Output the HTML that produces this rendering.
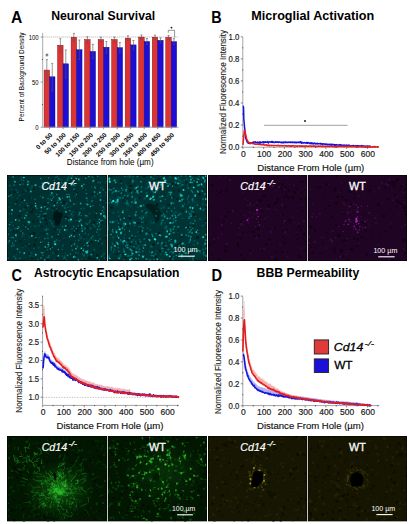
<!DOCTYPE html>
<html><head><meta charset="utf-8"><style>
html,body{margin:0;padding:0;background:#fff;}
body{width:409px;height:524px;overflow:hidden;}
svg{display:block;font-family:"Liberation Sans", sans-serif;}
</style></head><body>
<svg width="409" height="524" viewBox="0 0 409 524">
<text x="11.00" y="23.10" font-size="15.6" text-anchor="start" font-weight="bold" font-style="normal" fill="#000" >A</text>
<text x="51.20" y="20.00" font-size="12.2" text-anchor="start" font-weight="bold" font-style="normal" fill="#000" textLength="104" lengthAdjust="spacingAndGlyphs" >Neuronal Survival</text>
<text x="211.20" y="23.20" font-size="15.6" text-anchor="start" font-weight="bold" font-style="normal" fill="#000" textLength="10.4" lengthAdjust="spacingAndGlyphs" >B</text>
<text x="251.20" y="20.00" font-size="12.2" text-anchor="start" font-weight="bold" font-style="normal" fill="#000" textLength="123" lengthAdjust="spacingAndGlyphs" >Microglial Activation</text>
<text x="11.40" y="280.90" font-size="15.6" text-anchor="start" font-weight="bold" font-style="normal" fill="#000" textLength="10.4" lengthAdjust="spacingAndGlyphs" >C</text>
<text x="33.90" y="277.00" font-size="12.2" text-anchor="start" font-weight="bold" font-style="normal" fill="#000" textLength="145.6" lengthAdjust="spacingAndGlyphs" >Astrocytic Encapsulation</text>
<text x="211.40" y="280.50" font-size="15.6" text-anchor="start" font-weight="bold" font-style="normal" fill="#000" textLength="10.6" lengthAdjust="spacingAndGlyphs" >D</text>
<text x="256.60" y="277.00" font-size="12.2" text-anchor="start" font-weight="bold" font-style="normal" fill="#000" textLength="102.6" lengthAdjust="spacingAndGlyphs" >BBB Permeability</text>
<line x1="42.7" y1="37" x2="178.5" y2="37" stroke="#999" stroke-width="0.8" stroke-dasharray="1,1"/>
<rect x="44.10" y="70.10" width="5.45" height="57.10" fill="#dc3434" stroke="#8a1010" stroke-width="0.5"/>
<rect x="49.55" y="76.80" width="5.45" height="50.40" fill="#1c0ed4" stroke="#0a0680" stroke-width="0.4"/>
<line x1="46.83" y1="59.60" x2="46.83" y2="80.60" stroke="#555" stroke-width="0.6"/>
<line x1="45.83" y1="59.60" x2="47.83" y2="59.60" stroke="#555" stroke-width="0.6"/>
<line x1="45.83" y1="80.60" x2="47.83" y2="80.60" stroke="#555" stroke-width="0.6"/>
<line x1="52.28" y1="63.40" x2="52.28" y2="91.20" stroke="#555" stroke-width="0.6"/>
<line x1="51.28" y1="63.40" x2="53.28" y2="63.40" stroke="#555" stroke-width="0.6"/>
<line x1="51.28" y1="91.20" x2="53.28" y2="91.20" stroke="#555" stroke-width="0.6"/>
<line x1="49.55" y1="127.2" x2="49.55" y2="129.2" stroke="#444" stroke-width="0.6"/>
<text x="0" y="0" font-size="6.4" font-weight="bold" text-anchor="end" transform="translate(52.85,135.50) rotate(-45)">0 to 50</text>
<rect x="57.62" y="45.30" width="5.45" height="81.90" fill="#dc3434" stroke="#8a1010" stroke-width="0.5"/>
<rect x="63.07" y="63.80" width="5.45" height="63.40" fill="#1c0ed4" stroke="#0a0680" stroke-width="0.4"/>
<line x1="60.35" y1="38.60" x2="60.35" y2="52.00" stroke="#555" stroke-width="0.6"/>
<line x1="59.35" y1="38.60" x2="61.35" y2="38.60" stroke="#555" stroke-width="0.6"/>
<line x1="59.35" y1="52.00" x2="61.35" y2="52.00" stroke="#555" stroke-width="0.6"/>
<line x1="65.80" y1="50.00" x2="65.80" y2="77.80" stroke="#555" stroke-width="0.6"/>
<line x1="64.80" y1="50.00" x2="66.80" y2="50.00" stroke="#555" stroke-width="0.6"/>
<line x1="64.80" y1="77.80" x2="66.80" y2="77.80" stroke="#555" stroke-width="0.6"/>
<line x1="63.07" y1="127.2" x2="63.07" y2="129.2" stroke="#444" stroke-width="0.6"/>
<text x="0" y="0" font-size="6.4" font-weight="bold" text-anchor="end" transform="translate(66.37,135.50) rotate(-45)">50 to 100</text>
<rect x="71.14" y="37.30" width="5.45" height="89.90" fill="#dc3434" stroke="#8a1010" stroke-width="0.5"/>
<rect x="76.59" y="49.70" width="5.45" height="77.50" fill="#1c0ed4" stroke="#0a0680" stroke-width="0.4"/>
<line x1="73.86" y1="33.40" x2="73.86" y2="41.00" stroke="#555" stroke-width="0.6"/>
<line x1="72.86" y1="33.40" x2="74.86" y2="33.40" stroke="#555" stroke-width="0.6"/>
<line x1="72.86" y1="41.00" x2="74.86" y2="41.00" stroke="#555" stroke-width="0.6"/>
<line x1="79.31" y1="40.00" x2="79.31" y2="59.60" stroke="#555" stroke-width="0.6"/>
<line x1="78.31" y1="40.00" x2="80.31" y2="40.00" stroke="#555" stroke-width="0.6"/>
<line x1="78.31" y1="59.60" x2="80.31" y2="59.60" stroke="#555" stroke-width="0.6"/>
<line x1="76.59" y1="127.2" x2="76.59" y2="129.2" stroke="#444" stroke-width="0.6"/>
<text x="0" y="0" font-size="6.4" font-weight="bold" text-anchor="end" transform="translate(79.89,135.50) rotate(-45)">100 to 150</text>
<rect x="84.66" y="39.60" width="5.45" height="87.60" fill="#dc3434" stroke="#8a1010" stroke-width="0.5"/>
<rect x="90.11" y="51.40" width="5.45" height="75.80" fill="#1c0ed4" stroke="#0a0680" stroke-width="0.4"/>
<line x1="87.38" y1="36.70" x2="87.38" y2="43.00" stroke="#555" stroke-width="0.6"/>
<line x1="86.38" y1="36.70" x2="88.38" y2="36.70" stroke="#555" stroke-width="0.6"/>
<line x1="86.38" y1="43.00" x2="88.38" y2="43.00" stroke="#555" stroke-width="0.6"/>
<line x1="92.83" y1="44.30" x2="92.83" y2="58.30" stroke="#555" stroke-width="0.6"/>
<line x1="91.83" y1="44.30" x2="93.83" y2="44.30" stroke="#555" stroke-width="0.6"/>
<line x1="91.83" y1="58.30" x2="93.83" y2="58.30" stroke="#555" stroke-width="0.6"/>
<line x1="90.11" y1="127.2" x2="90.11" y2="129.2" stroke="#444" stroke-width="0.6"/>
<text x="0" y="0" font-size="6.4" font-weight="bold" text-anchor="end" transform="translate(93.41,135.50) rotate(-45)">150 to 200</text>
<rect x="98.18" y="39.60" width="5.45" height="87.60" fill="#dc3434" stroke="#8a1010" stroke-width="0.5"/>
<rect x="103.63" y="47.20" width="5.45" height="80.00" fill="#1c0ed4" stroke="#0a0680" stroke-width="0.4"/>
<line x1="100.91" y1="37.00" x2="100.91" y2="42.00" stroke="#555" stroke-width="0.6"/>
<line x1="99.91" y1="37.00" x2="101.91" y2="37.00" stroke="#555" stroke-width="0.6"/>
<line x1="99.91" y1="42.00" x2="101.91" y2="42.00" stroke="#555" stroke-width="0.6"/>
<line x1="106.36" y1="41.50" x2="106.36" y2="53.00" stroke="#555" stroke-width="0.6"/>
<line x1="105.36" y1="41.50" x2="107.36" y2="41.50" stroke="#555" stroke-width="0.6"/>
<line x1="105.36" y1="53.00" x2="107.36" y2="53.00" stroke="#555" stroke-width="0.6"/>
<line x1="103.63" y1="127.2" x2="103.63" y2="129.2" stroke="#444" stroke-width="0.6"/>
<text x="0" y="0" font-size="6.4" font-weight="bold" text-anchor="end" transform="translate(106.93,135.50) rotate(-45)">200 to 250</text>
<rect x="111.70" y="39.60" width="5.45" height="87.60" fill="#dc3434" stroke="#8a1010" stroke-width="0.5"/>
<rect x="117.15" y="47.60" width="5.45" height="79.60" fill="#1c0ed4" stroke="#0a0680" stroke-width="0.4"/>
<line x1="114.42" y1="37.00" x2="114.42" y2="42.00" stroke="#555" stroke-width="0.6"/>
<line x1="113.42" y1="37.00" x2="115.42" y2="37.00" stroke="#555" stroke-width="0.6"/>
<line x1="113.42" y1="42.00" x2="115.42" y2="42.00" stroke="#555" stroke-width="0.6"/>
<line x1="119.87" y1="42.50" x2="119.87" y2="52.70" stroke="#555" stroke-width="0.6"/>
<line x1="118.87" y1="42.50" x2="120.87" y2="42.50" stroke="#555" stroke-width="0.6"/>
<line x1="118.87" y1="52.70" x2="120.87" y2="52.70" stroke="#555" stroke-width="0.6"/>
<line x1="117.15" y1="127.2" x2="117.15" y2="129.2" stroke="#444" stroke-width="0.6"/>
<text x="0" y="0" font-size="6.4" font-weight="bold" text-anchor="end" transform="translate(120.45,135.50) rotate(-45)">250 to 300</text>
<rect x="125.22" y="38.20" width="5.45" height="89.00" fill="#dc3434" stroke="#8a1010" stroke-width="0.5"/>
<rect x="130.67" y="44.90" width="5.45" height="82.30" fill="#1c0ed4" stroke="#0a0680" stroke-width="0.4"/>
<line x1="127.94" y1="35.80" x2="127.94" y2="40.60" stroke="#555" stroke-width="0.6"/>
<line x1="126.94" y1="35.80" x2="128.94" y2="35.80" stroke="#555" stroke-width="0.6"/>
<line x1="126.94" y1="40.60" x2="128.94" y2="40.60" stroke="#555" stroke-width="0.6"/>
<line x1="133.40" y1="40.50" x2="133.40" y2="49.30" stroke="#555" stroke-width="0.6"/>
<line x1="132.40" y1="40.50" x2="134.40" y2="40.50" stroke="#555" stroke-width="0.6"/>
<line x1="132.40" y1="49.30" x2="134.40" y2="49.30" stroke="#555" stroke-width="0.6"/>
<line x1="130.67" y1="127.2" x2="130.67" y2="129.2" stroke="#444" stroke-width="0.6"/>
<text x="0" y="0" font-size="6.4" font-weight="bold" text-anchor="end" transform="translate(133.97,135.50) rotate(-45)">300 to 350</text>
<rect x="138.74" y="37.10" width="5.45" height="90.10" fill="#dc3434" stroke="#8a1010" stroke-width="0.5"/>
<rect x="144.19" y="41.50" width="5.45" height="85.70" fill="#1c0ed4" stroke="#0a0680" stroke-width="0.4"/>
<line x1="141.47" y1="35.00" x2="141.47" y2="39.20" stroke="#555" stroke-width="0.6"/>
<line x1="140.47" y1="35.00" x2="142.47" y2="35.00" stroke="#555" stroke-width="0.6"/>
<line x1="140.47" y1="39.20" x2="142.47" y2="39.20" stroke="#555" stroke-width="0.6"/>
<line x1="146.92" y1="38.50" x2="146.92" y2="44.50" stroke="#555" stroke-width="0.6"/>
<line x1="145.92" y1="38.50" x2="147.92" y2="38.50" stroke="#555" stroke-width="0.6"/>
<line x1="145.92" y1="44.50" x2="147.92" y2="44.50" stroke="#555" stroke-width="0.6"/>
<line x1="144.19" y1="127.2" x2="144.19" y2="129.2" stroke="#444" stroke-width="0.6"/>
<text x="0" y="0" font-size="6.4" font-weight="bold" text-anchor="end" transform="translate(147.49,135.50) rotate(-45)">350 to 400</text>
<rect x="152.26" y="37.20" width="5.45" height="90.00" fill="#dc3434" stroke="#8a1010" stroke-width="0.5"/>
<rect x="157.71" y="40.30" width="5.45" height="86.90" fill="#1c0ed4" stroke="#0a0680" stroke-width="0.4"/>
<line x1="154.98" y1="35.20" x2="154.98" y2="39.20" stroke="#555" stroke-width="0.6"/>
<line x1="153.98" y1="35.20" x2="155.98" y2="35.20" stroke="#555" stroke-width="0.6"/>
<line x1="153.98" y1="39.20" x2="155.98" y2="39.20" stroke="#555" stroke-width="0.6"/>
<line x1="160.44" y1="37.80" x2="160.44" y2="42.80" stroke="#555" stroke-width="0.6"/>
<line x1="159.44" y1="37.80" x2="161.44" y2="37.80" stroke="#555" stroke-width="0.6"/>
<line x1="159.44" y1="42.80" x2="161.44" y2="42.80" stroke="#555" stroke-width="0.6"/>
<line x1="157.71" y1="127.2" x2="157.71" y2="129.2" stroke="#444" stroke-width="0.6"/>
<text x="0" y="0" font-size="6.4" font-weight="bold" text-anchor="end" transform="translate(161.01,135.50) rotate(-45)">400 to 450</text>
<rect x="165.78" y="37.40" width="5.45" height="89.80" fill="#dc3434" stroke="#8a1010" stroke-width="0.5"/>
<rect x="171.23" y="41.60" width="5.45" height="85.60" fill="#1c0ed4" stroke="#0a0680" stroke-width="0.4"/>
<line x1="168.50" y1="35.40" x2="168.50" y2="39.40" stroke="#555" stroke-width="0.6"/>
<line x1="167.50" y1="35.40" x2="169.50" y2="35.40" stroke="#555" stroke-width="0.6"/>
<line x1="167.50" y1="39.40" x2="169.50" y2="39.40" stroke="#555" stroke-width="0.6"/>
<line x1="173.96" y1="38.60" x2="173.96" y2="44.60" stroke="#555" stroke-width="0.6"/>
<line x1="172.96" y1="38.60" x2="174.96" y2="38.60" stroke="#555" stroke-width="0.6"/>
<line x1="172.96" y1="44.60" x2="174.96" y2="44.60" stroke="#555" stroke-width="0.6"/>
<line x1="171.23" y1="127.2" x2="171.23" y2="129.2" stroke="#444" stroke-width="0.6"/>
<text x="0" y="0" font-size="6.4" font-weight="bold" text-anchor="end" transform="translate(174.53,135.50) rotate(-45)">450 to 500</text>
<line x1="42.7" y1="32.9" x2="42.7" y2="127.2" stroke="#a0a0a0" stroke-width="0.9"/>
<line x1="42.7" y1="127.2" x2="178.5" y2="127.2" stroke="#a0a0a0" stroke-width="0.9"/>
<line x1="40.7" y1="37.00" x2="42.7" y2="37.00" stroke="#555" stroke-width="0.6"/>
<text x="38.60" y="39.50" font-size="7.0" text-anchor="end" font-weight="normal" font-style="normal" fill="#000" textLength="9.9" lengthAdjust="spacingAndGlyphs" >100</text>
<line x1="40.7" y1="82.10" x2="42.7" y2="82.10" stroke="#555" stroke-width="0.6"/>
<text x="38.60" y="84.60" font-size="7.0" text-anchor="end" font-weight="normal" font-style="normal" fill="#000" textLength="6.5" lengthAdjust="spacingAndGlyphs" >50</text>
<line x1="40.7" y1="127.20" x2="42.7" y2="127.20" stroke="#555" stroke-width="0.6"/>
<text x="38.60" y="129.70" font-size="7.0" text-anchor="end" font-weight="normal" font-style="normal" fill="#000" textLength="3.3" lengthAdjust="spacingAndGlyphs" >0</text>
<line x1="41.900000000000006" y1="104.65" x2="43.0" y2="104.65" stroke="#333" stroke-width="0.8"/>
<line x1="41.900000000000006" y1="59.55" x2="43.0" y2="59.55" stroke="#333" stroke-width="0.8"/>
<text x="0" y="0" font-size="7.1" text-anchor="middle" textLength="89" lengthAdjust="spacingAndGlyphs" transform="translate(23.7,76.9) rotate(-90)">Percent of Background Density</text>
<text x="66.80" y="165.20" font-size="9.0" text-anchor="start" font-weight="normal" font-style="normal" fill="#000" textLength="86.8" lengthAdjust="spacingAndGlyphs" >Distance from hole (µm)</text>
<text x="46.80" y="57.20" font-size="5.0" text-anchor="middle" font-weight="normal" font-style="normal" fill="#444" >#</text>
<path d="M168.3,32.7 V30.3 H174.6 V37.3" fill="none" stroke="#777" stroke-width="0.8"/>
<circle cx="171.5" cy="27.6" r="0.9" fill="#111"/>
<line x1="242.8" y1="37.0" x2="242.8" y2="147.2" stroke="#a4a4a4" stroke-width="1"/>
<line x1="242.8" y1="147.2" x2="379.2" y2="147.2" stroke="#a4a4a4" stroke-width="1"/>
<line x1="240.8" y1="147.10" x2="242.8" y2="147.10" stroke="#555" stroke-width="0.7"/>
<text x="239.40" y="150.10" font-size="8.4" text-anchor="end" font-weight="normal" font-style="normal" fill="#1a1a1a" textLength="10.8" lengthAdjust="spacingAndGlyphs" stroke="#1a1a1a" stroke-width="0.18">0.0</text>
<line x1="240.8" y1="125.04" x2="242.8" y2="125.04" stroke="#555" stroke-width="0.7"/>
<text x="239.40" y="128.04" font-size="8.4" text-anchor="end" font-weight="normal" font-style="normal" fill="#1a1a1a" textLength="10.8" lengthAdjust="spacingAndGlyphs" stroke="#1a1a1a" stroke-width="0.18">0.2</text>
<line x1="240.8" y1="102.98" x2="242.8" y2="102.98" stroke="#555" stroke-width="0.7"/>
<text x="239.40" y="105.98" font-size="8.4" text-anchor="end" font-weight="normal" font-style="normal" fill="#1a1a1a" textLength="10.8" lengthAdjust="spacingAndGlyphs" stroke="#1a1a1a" stroke-width="0.18">0.4</text>
<line x1="240.8" y1="80.92" x2="242.8" y2="80.92" stroke="#555" stroke-width="0.7"/>
<text x="239.40" y="83.92" font-size="8.4" text-anchor="end" font-weight="normal" font-style="normal" fill="#1a1a1a" textLength="10.8" lengthAdjust="spacingAndGlyphs" stroke="#1a1a1a" stroke-width="0.18">0.6</text>
<line x1="240.8" y1="58.86" x2="242.8" y2="58.86" stroke="#555" stroke-width="0.7"/>
<text x="239.40" y="61.86" font-size="8.4" text-anchor="end" font-weight="normal" font-style="normal" fill="#1a1a1a" textLength="10.8" lengthAdjust="spacingAndGlyphs" stroke="#1a1a1a" stroke-width="0.18">0.8</text>
<line x1="240.8" y1="36.80" x2="242.8" y2="36.80" stroke="#555" stroke-width="0.7"/>
<text x="239.40" y="39.80" font-size="8.4" text-anchor="end" font-weight="normal" font-style="normal" fill="#1a1a1a" textLength="10.8" lengthAdjust="spacingAndGlyphs" stroke="#1a1a1a" stroke-width="0.18">1.0</text>
<line x1="242.20000000000002" y1="136.07" x2="243.20000000000002" y2="136.07" stroke="#333" stroke-width="0.8"/>
<line x1="242.20000000000002" y1="114.01" x2="243.20000000000002" y2="114.01" stroke="#333" stroke-width="0.8"/>
<line x1="242.20000000000002" y1="91.95" x2="243.20000000000002" y2="91.95" stroke="#333" stroke-width="0.8"/>
<line x1="242.20000000000002" y1="69.89" x2="243.20000000000002" y2="69.89" stroke="#333" stroke-width="0.8"/>
<line x1="242.20000000000002" y1="47.83" x2="243.20000000000002" y2="47.83" stroke="#333" stroke-width="0.8"/>
<line x1="242.90" y1="147.2" x2="242.90" y2="149.0" stroke="#555" stroke-width="0.7"/>
<text x="243.40" y="157.00" font-size="8.5" text-anchor="middle" font-weight="normal" font-style="normal" fill="#1a1a1a" stroke="#1a1a1a" stroke-width="0.18">0</text>
<line x1="253.28" y1="146.79999999999998" x2="253.28" y2="148.0" stroke="#333" stroke-width="0.8"/>
<line x1="263.65" y1="147.2" x2="263.65" y2="149.0" stroke="#555" stroke-width="0.7"/>
<text x="264.15" y="157.00" font-size="8.5" text-anchor="middle" font-weight="normal" font-style="normal" fill="#1a1a1a" stroke="#1a1a1a" stroke-width="0.18">100</text>
<line x1="274.02" y1="146.79999999999998" x2="274.02" y2="148.0" stroke="#333" stroke-width="0.8"/>
<line x1="284.40" y1="147.2" x2="284.40" y2="149.0" stroke="#555" stroke-width="0.7"/>
<text x="284.90" y="157.00" font-size="8.5" text-anchor="middle" font-weight="normal" font-style="normal" fill="#1a1a1a" stroke="#1a1a1a" stroke-width="0.18">200</text>
<line x1="294.77" y1="146.79999999999998" x2="294.77" y2="148.0" stroke="#333" stroke-width="0.8"/>
<line x1="305.15" y1="147.2" x2="305.15" y2="149.0" stroke="#555" stroke-width="0.7"/>
<text x="305.65" y="157.00" font-size="8.5" text-anchor="middle" font-weight="normal" font-style="normal" fill="#1a1a1a" stroke="#1a1a1a" stroke-width="0.18">300</text>
<line x1="315.52" y1="146.79999999999998" x2="315.52" y2="148.0" stroke="#333" stroke-width="0.8"/>
<line x1="325.90" y1="147.2" x2="325.90" y2="149.0" stroke="#555" stroke-width="0.7"/>
<text x="326.40" y="157.00" font-size="8.5" text-anchor="middle" font-weight="normal" font-style="normal" fill="#1a1a1a" stroke="#1a1a1a" stroke-width="0.18">400</text>
<line x1="336.27" y1="146.79999999999998" x2="336.27" y2="148.0" stroke="#333" stroke-width="0.8"/>
<line x1="346.65" y1="147.2" x2="346.65" y2="149.0" stroke="#555" stroke-width="0.7"/>
<text x="347.15" y="157.00" font-size="8.5" text-anchor="middle" font-weight="normal" font-style="normal" fill="#1a1a1a" stroke="#1a1a1a" stroke-width="0.18">500</text>
<line x1="357.02" y1="146.79999999999998" x2="357.02" y2="148.0" stroke="#333" stroke-width="0.8"/>
<line x1="367.40" y1="147.2" x2="367.40" y2="149.0" stroke="#555" stroke-width="0.7"/>
<text x="367.90" y="157.00" font-size="8.5" text-anchor="middle" font-weight="normal" font-style="normal" fill="#1a1a1a" stroke="#1a1a1a" stroke-width="0.18">600</text>
<line x1="377.77" y1="146.79999999999998" x2="377.77" y2="148.0" stroke="#333" stroke-width="0.8"/>
<text x="0" y="0" font-size="8.5" textLength="124" lengthAdjust="spacingAndGlyphs" text-anchor="middle" fill="#1a1a1a" stroke="#1a1a1a" stroke-width="0.1" transform="translate(225.5,92) rotate(-90)">Normalized Fluorescence Intensity</text>
<text x="257.30" y="171.40" font-size="9.56" text-anchor="start" font-weight="normal" font-style="normal" fill="#111" textLength="107" lengthAdjust="spacingAndGlyphs" stroke="#111" stroke-width="0.15">Distance From Hole (µm)</text>
<polyline points="242.90,106.26 243.21,106.16 243.52,106.99 243.83,118.98 244.15,122.80 244.46,126.22 244.77,128.93 245.08,132.56 245.39,135.45 245.70,138.07 246.01,138.75 246.32,139.85 246.64,140.46 246.95,141.67 247.26,142.17 247.57,142.38 247.88,142.81 248.19,143.05 248.50,143.27 248.81,143.08 249.12,143.25 249.44,143.48 249.75,143.38 250.06,143.67 250.37,143.23 250.68,143.05 250.99,142.82 251.30,143.16 251.62,142.95 251.93,143.30 252.24,142.79 252.55,143.16 252.86,142.85 253.17,142.07 253.48,142.88 253.79,141.96 254.11,142.00 254.42,142.12 254.73,141.94 255.04,141.95 255.35,141.83 255.66,142.21 255.97,142.34 256.28,142.38 256.60,142.51 256.91,142.28 257.22,142.51 257.53,142.03 257.84,142.87 258.15,142.68 258.46,142.67 258.77,143.02 259.08,141.94 259.40,143.12 259.71,142.52 260.02,142.57 260.33,141.95 260.64,142.94 260.95,142.09 261.26,142.57 261.57,142.40 261.89,142.52 262.20,142.15 262.51,142.62 262.82,142.32 263.13,142.18 263.44,141.76 263.75,142.91 264.06,141.82 264.38,141.96 264.69,142.34 265.00,142.11 265.31,142.31 265.62,141.71 265.93,142.09 266.24,142.20 266.56,142.19 266.87,142.16 267.18,142.14 267.49,142.32 267.80,141.50 268.11,142.58 268.42,143.03 268.73,142.06 269.05,142.07 269.36,141.93 269.67,142.10 269.98,142.09 270.29,141.96 270.60,141.79 270.91,142.18 271.22,142.17 271.54,141.53 271.85,141.93 272.16,142.35 272.47,141.44 272.78,141.87 273.09,142.25 273.40,142.42 273.71,142.02 274.02,142.33 274.34,142.40 274.65,142.47 274.96,142.25 275.27,141.81 275.58,142.24 275.89,142.53 276.20,141.95 276.51,142.12 276.83,141.91 277.14,141.81 277.45,142.20 277.76,142.19 278.07,142.17 278.38,142.48 278.69,141.98 279.00,141.79 279.32,142.13 279.63,142.25 279.94,142.26 280.25,142.40 280.56,142.41 280.87,142.31 281.18,142.43 281.50,142.33 281.81,142.65 282.12,142.12 282.43,142.21 282.74,142.54 283.05,142.86 283.36,142.23 283.67,141.93 283.99,142.44 284.30,142.38 284.61,142.41 284.92,142.07 285.23,142.51 285.54,141.98 285.85,142.34 286.16,142.00 286.48,142.25 286.79,142.33 287.10,142.67 287.41,142.46 287.72,142.34 288.03,142.09 288.34,142.21 288.65,142.47 288.97,142.17 289.28,142.01 289.59,142.33 289.90,142.41 290.21,142.40 290.52,142.07 290.83,142.15 291.14,142.55 291.45,142.20 291.77,142.43 292.08,142.51 292.39,141.96 292.70,142.08 293.01,142.51 293.32,142.29 293.63,142.18 293.94,142.49 294.26,142.35 294.57,142.14 294.88,142.82 295.19,142.24 295.50,142.13 295.81,142.19 296.12,142.70 296.44,142.25 296.75,142.58 297.06,142.18 297.37,142.18 297.68,142.29 297.99,142.56 298.30,142.51 298.61,142.12 298.93,142.60 299.24,142.22 299.55,142.23 299.86,142.47 300.17,141.76 300.48,142.42 300.79,141.87 301.10,143.05 301.42,143.13 301.73,142.27 302.04,142.38 302.35,142.67 302.66,142.62 302.97,143.15 303.28,142.83 303.59,142.96 303.90,142.76 304.22,142.48 304.53,142.73 304.84,142.67 305.15,142.99 305.46,142.94 305.77,142.81 306.08,142.94 306.39,142.54 306.71,143.15 307.02,142.41 307.33,143.23 307.64,142.69 307.95,143.22 308.26,142.57 308.57,143.01 308.88,142.96 309.20,142.89 309.51,143.29 309.82,143.43 310.13,143.72 310.44,142.85 310.75,143.40 311.06,143.40 311.38,143.27 311.69,142.73 312.00,143.78 312.31,143.26 312.62,143.46 312.93,143.23 313.24,143.90 313.55,143.53 313.87,143.21 314.18,143.04 314.49,143.05 314.80,143.75 315.11,143.52 315.42,143.59 315.73,143.96 316.04,144.00 316.36,143.42 316.67,143.58 316.98,143.70 317.29,143.35 317.60,143.98 317.91,143.58 318.22,143.74 318.53,143.78 318.85,143.65 319.16,143.76 319.47,143.75 319.78,143.77 320.09,143.33 320.40,143.97 320.71,143.63 321.02,143.76 321.34,144.04 321.65,143.75 321.96,144.22 322.27,143.69 322.58,144.25 322.89,144.18 323.20,143.98 323.51,143.86 323.82,143.86 324.14,143.88 324.45,144.20 324.76,144.43 325.07,144.04 325.38,144.12 325.69,144.49 326.00,143.98 326.31,144.21 326.63,144.55 326.94,144.19 327.25,144.69 327.56,144.59 327.87,144.26 328.18,144.82 328.49,144.40 328.81,144.80 329.12,144.25 329.43,144.67 329.74,144.44 330.05,144.92 330.36,144.63 330.67,144.29 330.98,144.44 331.30,145.10 331.61,144.36 331.92,144.39 332.23,144.76 332.54,144.28 332.85,144.98 333.16,144.74 333.47,144.42 333.78,144.39 334.10,144.42 334.41,145.09 334.72,145.30 335.03,144.72 335.34,145.25 335.65,144.91 335.96,145.25 336.27,144.62 336.59,144.71 336.90,144.80 337.21,144.97 337.52,144.98 337.83,145.10 338.14,144.93 338.45,144.99 338.76,144.95 339.08,145.21 339.39,144.59 339.70,145.05 340.01,144.76 340.32,144.79 340.63,145.42 340.94,145.66 341.25,144.86 341.57,145.33 341.88,145.22 342.19,145.33 342.50,145.23 342.81,145.61 343.12,145.33 343.43,145.44 343.75,145.33 344.06,145.99 344.37,145.14 344.68,145.29 344.99,145.87 345.30,145.61 345.61,145.41 345.92,145.27 346.24,145.45 346.55,145.09 346.86,145.48 347.17,145.78 347.48,145.70 347.79,145.33 348.10,145.72 348.41,145.33 348.73,145.30 349.04,145.43 349.35,145.33 349.66,145.67 349.97,145.64 350.28,145.82 350.59,145.84 350.90,146.12 351.22,145.85 351.53,146.01 351.84,146.13 352.15,145.71 352.46,145.64 352.77,145.87 353.08,145.42 353.39,145.55 353.70,145.54 354.02,146.01 354.33,146.27 354.64,145.72 354.95,145.80 355.26,145.70 355.57,145.79 355.88,145.57 356.19,146.01 356.51,145.76 356.82,146.20 357.13,146.60 357.44,146.10 357.75,145.57 358.06,146.46 358.37,145.73 358.69,146.21 359.00,146.14 359.31,146.03 359.62,145.99 359.93,146.33 360.24,146.04 360.55,145.96 360.86,145.87 361.18,146.32 361.49,145.69 361.80,145.60 362.11,145.47 362.42,146.52 362.73,146.11 363.04,146.69 363.35,146.08 363.67,146.04 363.98,146.52 364.29,146.65 364.60,146.18 364.91,146.07 365.22,146.47 365.53,146.33 365.84,146.97 366.15,146.48 366.47,146.25 366.78,146.26 367.09,145.88 367.40,146.64 367.71,146.96 368.02,146.23 368.33,146.52 368.64,146.29 368.96,146.18 369.27,146.23 369.58,146.01 369.89,146.04 370.20,146.89 370.51,146.46" fill="none" stroke="#1414e0" stroke-width="1.5" stroke-linejoin="round"/>
<polyline points="242.90,144.89 243.21,142.67 243.52,139.38 243.83,135.17 244.15,132.28 244.46,130.21 244.77,130.19 245.08,131.91 245.39,133.08 245.70,134.53 246.01,136.13 246.32,137.61 246.64,139.12 246.95,139.64 247.26,140.18 247.57,140.44 247.88,141.22 248.19,142.18 248.50,142.43 248.81,142.65 249.12,142.71 249.44,142.48 249.75,142.81 250.06,143.17 250.37,142.88 250.68,143.05 250.99,143.28 251.30,143.31 251.62,143.34 251.93,143.32 252.24,143.46 252.55,143.45 252.86,143.24 253.17,143.75 253.48,143.83 253.79,143.81 254.11,143.67 254.42,144.03 254.73,143.71 255.04,144.19 255.35,144.18 255.66,144.05 255.97,144.22 256.28,144.21 256.60,144.06 256.91,144.05 257.22,144.18 257.53,144.28 257.84,144.05 258.15,144.23 258.46,144.37 258.77,144.16 259.08,144.55 259.40,144.40 259.71,144.35 260.02,144.50 260.33,144.62 260.64,144.50 260.95,144.68 261.26,144.72 261.57,144.83 261.89,144.47 262.20,144.81 262.51,144.56 262.82,144.72 263.13,144.86 263.44,144.74 263.75,144.84 264.06,144.89 264.38,145.17 264.69,144.96 265.00,144.85 265.31,144.95 265.62,144.90 265.93,144.84 266.24,145.05 266.56,144.82 266.87,145.43 267.18,145.25 267.49,145.66 267.80,145.13 268.11,145.28 268.42,145.05 268.73,145.42 269.05,145.72 269.36,145.20 269.67,145.67 269.98,145.66 270.29,145.49 270.60,145.37 270.91,145.57 271.22,145.46 271.54,145.81 271.85,145.22 272.16,145.53 272.47,145.51 272.78,145.44 273.09,145.52 273.40,145.52 273.71,145.72 274.02,145.59 274.34,145.51 274.65,145.42 274.96,145.62 275.27,145.60 275.58,145.57 275.89,145.54 276.20,145.61 276.51,145.69 276.83,145.74 277.14,145.48 277.45,145.63 277.76,145.68 278.07,145.12 278.38,145.56 278.69,145.57 279.00,145.70 279.32,145.90 279.63,145.56 279.94,145.77 280.25,145.75 280.56,145.60 280.87,145.61 281.18,145.75 281.50,145.80 281.81,145.46 282.12,145.72 282.43,146.00 282.74,145.71 283.05,145.82 283.36,145.85 283.67,145.75 283.99,145.84 284.30,145.55 284.61,145.86 284.92,145.85 285.23,145.70 285.54,145.99 285.85,145.73 286.16,145.92 286.48,145.71 286.79,146.05 287.10,145.85 287.41,146.18 287.72,146.00 288.03,145.92 288.34,145.85 288.65,145.61 288.97,145.63 289.28,146.16 289.59,146.07 289.90,145.74 290.21,145.88 290.52,146.18 290.83,145.87 291.14,146.14 291.45,146.10 291.77,146.17 292.08,146.01 292.39,145.60 292.70,145.91 293.01,146.00 293.32,145.57 293.63,146.06 293.94,146.01 294.26,146.04 294.57,145.93 294.88,146.05 295.19,145.76 295.50,146.05 295.81,145.92 296.12,145.97 296.44,146.16 296.75,146.18 297.06,146.03 297.37,146.40 297.68,146.03 297.99,146.02 298.30,146.01 298.61,146.05 298.93,145.98 299.24,146.10 299.55,145.94 299.86,146.32 300.17,145.90 300.48,146.20 300.79,145.98 301.10,146.14 301.42,146.14 301.73,146.20 302.04,145.85 302.35,146.26 302.66,146.28 302.97,146.05 303.28,146.04 303.59,146.08 303.90,146.25 304.22,146.20 304.53,145.95 304.84,146.27 305.15,146.01 305.46,145.99 305.77,146.09 306.08,146.32 306.39,145.81 306.71,146.10 307.02,146.09 307.33,146.19 307.64,146.29 307.95,146.18 308.26,146.11 308.57,146.28 308.88,146.13 309.20,145.96 309.51,146.08 309.82,146.17 310.13,145.99 310.44,146.01 310.75,146.02 311.06,146.30 311.38,146.47 311.69,146.05 312.00,146.17 312.31,146.24 312.62,146.11 312.93,146.26 313.24,146.29 313.55,145.90 313.87,146.46 314.18,146.06 314.49,146.04 314.80,145.92 315.11,146.17 315.42,146.13 315.73,146.37 316.04,146.22 316.36,146.57 316.67,146.32 316.98,146.24 317.29,146.25 317.60,146.32 317.91,146.05 318.22,146.51 318.53,146.23 318.85,146.32 319.16,146.25 319.47,146.25 319.78,145.94 320.09,146.44 320.40,146.05 320.71,146.04 321.02,146.30 321.34,146.38 321.65,146.49 321.96,146.43 322.27,145.95 322.58,146.65 322.89,146.22 323.20,146.41 323.51,145.99 323.82,146.25 324.14,146.53 324.45,146.40 324.76,146.28 325.07,146.30 325.38,146.48 325.69,146.37 326.00,146.40 326.31,146.25 326.63,146.29 326.94,146.30 327.25,146.44 327.56,146.22 327.87,146.44 328.18,146.49 328.49,146.43 328.81,146.41 329.12,146.41 329.43,146.68 329.74,146.15 330.05,146.27 330.36,146.16 330.67,146.44 330.98,146.26 331.30,146.35 331.61,146.38 331.92,146.10 332.23,146.49 332.54,146.30 332.85,146.69 333.16,146.31 333.47,146.44 333.78,146.58 334.10,146.51 334.41,146.77 334.72,146.60 335.03,146.40 335.34,146.86 335.65,146.25 335.96,146.27 336.27,146.56 336.59,146.69 336.90,146.68 337.21,146.66 337.52,146.58 337.83,146.10 338.14,146.64 338.45,146.34 338.76,146.26 339.08,146.62 339.39,146.52 339.70,146.36 340.01,146.59 340.32,146.28 340.63,146.13 340.94,146.50 341.25,146.63 341.57,146.40 341.88,146.44 342.19,146.62 342.50,146.53 342.81,146.49 343.12,146.43 343.43,146.33 343.75,146.60 344.06,146.74 344.37,146.79 344.68,146.22 344.99,146.60 345.30,146.60 345.61,146.13 345.92,146.36 346.24,146.17 346.55,146.58 346.86,146.66 347.17,146.64 347.48,146.45 347.79,146.49 348.10,146.50 348.41,146.19 348.73,146.35 349.04,146.75 349.35,146.50 349.66,146.48 349.97,146.71 350.28,146.20 350.59,146.44 350.90,146.34 351.22,146.68 351.53,146.79 351.84,146.48 352.15,146.64 352.46,146.70 352.77,146.63 353.08,146.58 353.39,146.59 353.70,146.66 354.02,146.55 354.33,146.15 354.64,146.44 354.95,146.72 355.26,146.30 355.57,146.72 355.88,146.90 356.19,146.88 356.51,146.99 356.82,146.46 357.13,146.84 357.44,146.90 357.75,146.76 358.06,146.70 358.37,146.88 358.69,146.77 359.00,146.68 359.31,146.57 359.62,146.84 359.93,146.59 360.24,146.65 360.55,146.60 360.86,146.78 361.18,146.89 361.49,146.54 361.80,146.61 362.11,146.82 362.42,146.84 362.73,146.60 363.04,146.38 363.35,146.66 363.67,146.31 363.98,146.68 364.29,146.67 364.60,146.65 364.91,146.56 365.22,146.99 365.53,146.72 365.84,146.54 366.15,147.01 366.47,146.71 366.78,146.63 367.09,146.47 367.40,146.50 367.71,146.77 368.02,146.43 368.33,146.96 368.64,147.01 368.96,146.56 369.27,146.67 369.58,146.97 369.89,146.61 370.20,146.65 370.51,146.67 370.82,146.87 371.13,147.01 371.45,147.08 371.76,146.84 372.07,146.84 372.38,146.90 372.69,146.91 373.00,146.67 373.31,147.01 373.62,146.95 373.94,146.50 374.25,146.94 374.56,146.94 374.87,146.66 375.18,147.14 375.49,146.58 375.80,147.06 376.12,146.99 376.43,147.07 376.74,147.02 377.05,146.99 377.36,146.71 377.67,146.88 377.98,146.64 378.29,146.75 378.61,147.09" fill="none" stroke="#e41c1c" stroke-width="1.5" stroke-linejoin="round"/>
<line x1="263.9" y1="125.3" x2="347.6" y2="125.3" stroke="#a0a0a0" stroke-width="1"/>
<circle cx="305" cy="121" r="0.95" fill="#111"/>
<line x1="42.6" y1="296.4" x2="42.6" y2="405.4" stroke="#a4a4a4" stroke-width="1"/>
<line x1="42.6" y1="405.4" x2="179.0" y2="405.4" stroke="#a4a4a4" stroke-width="1"/>
<line x1="40.6" y1="397.20" x2="42.6" y2="397.20" stroke="#555" stroke-width="0.7"/>
<text x="39.20" y="400.20" font-size="8.4" text-anchor="end" font-weight="normal" font-style="normal" fill="#1a1a1a" textLength="10.8" lengthAdjust="spacingAndGlyphs" stroke="#1a1a1a" stroke-width="0.18">1.0</text>
<line x1="40.6" y1="378.84" x2="42.6" y2="378.84" stroke="#555" stroke-width="0.7"/>
<text x="39.20" y="381.84" font-size="8.4" text-anchor="end" font-weight="normal" font-style="normal" fill="#1a1a1a" textLength="10.8" lengthAdjust="spacingAndGlyphs" stroke="#1a1a1a" stroke-width="0.18">1.5</text>
<line x1="40.6" y1="360.48" x2="42.6" y2="360.48" stroke="#555" stroke-width="0.7"/>
<text x="39.20" y="363.48" font-size="8.4" text-anchor="end" font-weight="normal" font-style="normal" fill="#1a1a1a" textLength="10.8" lengthAdjust="spacingAndGlyphs" stroke="#1a1a1a" stroke-width="0.18">2.0</text>
<line x1="40.6" y1="342.12" x2="42.6" y2="342.12" stroke="#555" stroke-width="0.7"/>
<text x="39.20" y="345.12" font-size="8.4" text-anchor="end" font-weight="normal" font-style="normal" fill="#1a1a1a" textLength="10.8" lengthAdjust="spacingAndGlyphs" stroke="#1a1a1a" stroke-width="0.18">2.5</text>
<line x1="40.6" y1="323.76" x2="42.6" y2="323.76" stroke="#555" stroke-width="0.7"/>
<text x="39.20" y="326.76" font-size="8.4" text-anchor="end" font-weight="normal" font-style="normal" fill="#1a1a1a" textLength="10.8" lengthAdjust="spacingAndGlyphs" stroke="#1a1a1a" stroke-width="0.18">3.0</text>
<line x1="40.6" y1="305.40" x2="42.6" y2="305.40" stroke="#555" stroke-width="0.7"/>
<text x="39.20" y="308.40" font-size="8.4" text-anchor="end" font-weight="normal" font-style="normal" fill="#1a1a1a" textLength="10.8" lengthAdjust="spacingAndGlyphs" stroke="#1a1a1a" stroke-width="0.18">3.5</text>
<line x1="42.0" y1="388.02" x2="43.0" y2="388.02" stroke="#333" stroke-width="0.8"/>
<line x1="42.0" y1="369.66" x2="43.0" y2="369.66" stroke="#333" stroke-width="0.8"/>
<line x1="42.0" y1="351.30" x2="43.0" y2="351.30" stroke="#333" stroke-width="0.8"/>
<line x1="42.0" y1="332.94" x2="43.0" y2="332.94" stroke="#333" stroke-width="0.8"/>
<line x1="42.0" y1="314.58" x2="43.0" y2="314.58" stroke="#333" stroke-width="0.8"/>
<line x1="42.0" y1="296.22" x2="43.0" y2="296.22" stroke="#333" stroke-width="0.8"/>
<line x1="42.70" y1="405.4" x2="42.70" y2="407.2" stroke="#555" stroke-width="0.7"/>
<text x="43.20" y="415.20" font-size="8.5" text-anchor="middle" font-weight="normal" font-style="normal" fill="#1a1a1a" stroke="#1a1a1a" stroke-width="0.18">0</text>
<line x1="53.08" y1="405.0" x2="53.08" y2="406.2" stroke="#333" stroke-width="0.8"/>
<line x1="63.45" y1="405.4" x2="63.45" y2="407.2" stroke="#555" stroke-width="0.7"/>
<text x="63.95" y="415.20" font-size="8.5" text-anchor="middle" font-weight="normal" font-style="normal" fill="#1a1a1a" stroke="#1a1a1a" stroke-width="0.18">100</text>
<line x1="73.83" y1="405.0" x2="73.83" y2="406.2" stroke="#333" stroke-width="0.8"/>
<line x1="84.20" y1="405.4" x2="84.20" y2="407.2" stroke="#555" stroke-width="0.7"/>
<text x="84.70" y="415.20" font-size="8.5" text-anchor="middle" font-weight="normal" font-style="normal" fill="#1a1a1a" stroke="#1a1a1a" stroke-width="0.18">200</text>
<line x1="94.58" y1="405.0" x2="94.58" y2="406.2" stroke="#333" stroke-width="0.8"/>
<line x1="104.95" y1="405.4" x2="104.95" y2="407.2" stroke="#555" stroke-width="0.7"/>
<text x="105.45" y="415.20" font-size="8.5" text-anchor="middle" font-weight="normal" font-style="normal" fill="#1a1a1a" stroke="#1a1a1a" stroke-width="0.18">300</text>
<line x1="115.33" y1="405.0" x2="115.33" y2="406.2" stroke="#333" stroke-width="0.8"/>
<line x1="125.70" y1="405.4" x2="125.70" y2="407.2" stroke="#555" stroke-width="0.7"/>
<text x="126.20" y="415.20" font-size="8.5" text-anchor="middle" font-weight="normal" font-style="normal" fill="#1a1a1a" stroke="#1a1a1a" stroke-width="0.18">400</text>
<line x1="136.07" y1="405.0" x2="136.07" y2="406.2" stroke="#333" stroke-width="0.8"/>
<line x1="146.45" y1="405.4" x2="146.45" y2="407.2" stroke="#555" stroke-width="0.7"/>
<text x="146.95" y="415.20" font-size="8.5" text-anchor="middle" font-weight="normal" font-style="normal" fill="#1a1a1a" stroke="#1a1a1a" stroke-width="0.18">500</text>
<line x1="156.82" y1="405.0" x2="156.82" y2="406.2" stroke="#333" stroke-width="0.8"/>
<line x1="167.20" y1="405.4" x2="167.20" y2="407.2" stroke="#555" stroke-width="0.7"/>
<text x="167.70" y="415.20" font-size="8.5" text-anchor="middle" font-weight="normal" font-style="normal" fill="#1a1a1a" stroke="#1a1a1a" stroke-width="0.18">600</text>
<line x1="177.57" y1="405.0" x2="177.57" y2="406.2" stroke="#333" stroke-width="0.8"/>
<text x="0" y="0" font-size="8.5" textLength="124" lengthAdjust="spacingAndGlyphs" text-anchor="middle" fill="#1a1a1a" stroke="#1a1a1a" stroke-width="0.1" transform="translate(21.9,350.7) rotate(-90)">Normalized Fluorescence Intensity</text>
<text x="56.50" y="429.20" font-size="9.56" text-anchor="start" font-weight="normal" font-style="normal" fill="#111" textLength="107" lengthAdjust="spacingAndGlyphs" stroke="#111" stroke-width="0.15">Distance From Hole (µm)</text>
<line x1="43.2" y1="397.4" x2="178.5" y2="397.4" stroke="#b4b4b4" stroke-width="0.8" stroke-dasharray="1.3,1.3"/>
<path d="M43.00 324.96V312.59M43.34 319.73V309.06M43.67 317.76V305.44M44.00 318.02V305.88M44.33 316.61V308.33M44.66 321.96V317.89M45.00 324.90V321.29M45.33 327.78V324.57M45.66 329.60V326.09M45.99 331.40V328.56M46.32 332.51V330.65M46.66 334.29V331.96M46.99 336.87V333.82M47.32 338.08V334.33M47.65 339.34V335.73M47.98 339.83V337.10M48.32 341.04V338.60M48.65 342.78V339.50M48.98 343.05V340.30M49.31 344.63V341.18M49.64 345.45V342.57M49.98 345.82V342.86M50.31 347.37V343.85M50.64 347.82V344.28M50.97 348.37V345.87M51.30 348.87V346.92M51.64 350.43V346.90M51.97 351.61V348.08M52.30 352.58V348.66M52.63 352.44V349.61M52.96 353.12V350.78M53.30 354.18V351.23M53.63 355.15V352.23M53.96 355.41V352.18M54.29 356.44V353.10M54.62 357.53V353.60M54.96 357.30V353.76M55.29 357.61V355.24M55.62 358.73V355.28M55.95 359.76V356.10M56.28 360.11V357.10M56.62 360.79V356.76M56.95 360.94V357.70M57.28 360.85V357.13M57.61 361.51V357.94M57.94 361.14V357.62M58.28 361.04V357.90M58.61 362.01V358.74M58.94 362.15V358.37M59.27 361.61V359.59M59.60 362.93V359.78M59.94 363.23V359.81M60.27 363.13V360.48M60.60 364.27V360.64M60.93 364.16V360.82M61.26 363.76V361.02M61.60 364.71V361.49M61.93 364.87V362.61M62.26 364.95V362.02M62.59 365.35V362.37M62.92 366.36V363.27M63.26 367.11V363.33M63.59 367.48V364.39M63.92 367.53V364.51M64.25 367.60V364.90M64.58 368.30V365.01M64.92 368.41V364.98M65.25 368.75V364.55M65.58 368.22V365.75M65.91 368.94V365.73M66.24 369.04V366.28M66.58 368.64V365.37M66.91 369.40V366.29M67.24 370.14V367.04M67.57 370.05V367.07M67.90 369.65V367.45M68.24 370.96V366.65M68.57 370.69V368.11M68.90 371.26V368.85M69.23 371.86V368.18M69.56 372.01V369.14M69.90 373.39V370.17M70.23 374.10V370.22M70.56 374.21V370.80M70.89 375.06V372.12M71.22 375.01V371.70M71.56 375.28V372.26M71.89 375.53V372.55M72.22 376.52V373.05M72.55 376.55V373.90M72.88 377.19V373.77M73.22 377.09V373.43M73.55 376.37V373.96M73.88 376.60V373.45M74.21 376.78V374.48M74.54 377.96V374.86M74.88 378.19V375.10M75.21 377.83V374.38M75.54 377.75V375.14M75.87 378.20V374.93M76.20 379.16V375.32M76.54 378.29V375.38M76.87 378.73V376.00M77.20 379.70V375.81M77.53 379.72V376.01M77.86 379.09V376.77M78.20 380.07V376.26M78.53 379.86V377.51M78.86 380.87V377.75M79.19 380.06V377.11M79.52 381.29V377.30M79.86 380.40V377.75M80.19 381.46V378.11M80.52 381.97V379.04M80.85 381.08V378.42M81.18 381.86V378.23M81.52 382.11V378.44M81.85 381.72V379.44M82.18 382.60V379.46M82.51 382.74V379.20M82.84 382.85V379.55M83.18 383.14V379.03M83.51 382.98V379.76M83.84 382.80V379.29M84.17 383.15V379.40M84.50 383.17V380.04M84.84 383.26V380.85M85.17 383.50V380.76M85.50 384.21V380.07M85.83 384.11V380.63M86.16 383.50V380.63M86.50 384.14V380.80M86.83 383.95V380.56M87.16 384.65V380.97M87.49 384.58V381.46M87.82 384.00V381.27M88.16 384.39V381.05M88.49 384.04V381.58M88.82 384.55V381.61M89.15 384.80V381.47M89.48 384.99V381.80M89.82 385.07V381.37M90.15 384.89V381.57M90.48 384.68V382.50M90.81 385.30V381.71M91.14 385.04V382.89M91.48 386.11V382.60M91.81 386.29V382.98M92.14 386.40V382.53M92.47 385.57V382.34M92.80 386.52V382.69M93.14 385.96V383.56M93.47 385.78V382.59M93.80 386.77V382.72M94.13 386.65V383.45M94.46 385.98V383.10M94.80 387.19V383.75M95.13 386.83V383.98M95.46 387.37V384.12M95.79 386.79V384.63M96.12 387.12V384.19M96.46 387.95V384.45M96.79 387.26V384.32M97.12 388.11V383.81M97.45 387.27V383.94M97.78 388.27V384.97M98.12 388.42V384.36M98.45 388.18V385.28M98.78 388.04V384.31M99.11 387.58V385.24M99.44 388.53V384.43M99.78 388.04V384.78M100.11 388.74V385.69M100.44 388.01V385.27M100.77 388.89V384.66M101.10 388.21V384.90M101.44 389.00V384.89M101.77 389.09V384.95M102.10 388.64V385.70M102.43 388.57V384.99M102.76 389.01V386.11M103.10 388.73V386.03M103.43 389.35V386.19M103.76 389.49V386.21M104.09 389.21V386.13M104.42 388.68V386.22M104.76 389.09V386.43M105.09 389.35V386.70M105.42 389.54V386.77M105.75 388.97V386.13M106.08 389.75V386.29M106.42 388.83V386.84M106.75 389.05V386.48M107.08 389.54V386.01M107.41 389.74V386.50M107.74 389.41V385.94M108.08 389.93V386.20M108.41 389.52V386.53M108.74 389.98V386.97M109.07 390.51V387.32M109.40 390.55V386.58M109.74 390.37V387.41M110.07 390.66V386.57M110.40 389.68V386.86M110.73 390.53V387.49M111.06 390.57V387.27M111.40 390.82V387.35M111.73 390.74V386.73M112.06 389.87V387.35M112.39 390.89V386.86M112.72 390.87V387.73M113.06 391.34V387.76M113.39 390.78V387.66M113.72 391.21V387.72M114.05 391.53V388.10M114.38 391.48V387.99M114.72 391.61V388.55M115.05 391.33V388.34M115.38 391.02V388.01M115.71 390.86V387.90M116.04 390.97V387.67M116.38 391.47V388.47M116.71 390.75V388.77M117.04 391.13V388.16M117.37 392.07V387.94M117.70 390.99V388.25M118.04 391.24V388.05M118.37 392.06V388.47M118.70 391.62V388.10M119.03 391.26V388.15M119.36 391.59V388.10M119.70 391.50V388.40M120.03 392.14V389.31M120.36 392.30V388.92M120.69 392.38V388.33M121.02 391.82V388.64M121.36 391.77V388.61M121.69 391.99V389.55M122.02 391.62V388.60M122.35 392.05V388.92M122.68 391.88V389.58M123.02 391.82V389.37M123.35 392.73V389.39M123.68 391.90V389.51M124.01 391.93V388.53M124.34 392.29V389.35M124.68 392.35V388.99M125.01 392.01V389.12M125.34 392.21V389.87M125.67 392.90V389.68M126.00 392.16V389.65M126.34 392.43V390.08M126.67 393.14V389.78M127.00 392.37V389.26M127.33 392.40V389.82M127.66 392.65V389.63M128.00 392.75V390.13M128.33 392.23V390.06M128.66 392.16V389.13M128.99 393.46V389.80M129.32 392.44V389.16M129.66 392.97V390.13M129.99 393.33V389.27" stroke="#f29a9a" stroke-width="0.6" stroke-opacity="0.7" fill="none"/>
<path d="M43.00 367.07V364.03M43.34 364.37V361.49M43.67 360.17V357.70M44.00 355.63V354.10M44.33 354.96V352.83M44.66 354.12V351.77M45.00 354.01V351.07M45.33 355.18V352.73M45.66 356.32V353.76M45.99 356.47V353.67M46.32 356.62V354.57M46.66 356.85V353.81M46.99 357.15V354.28M47.32 356.91V354.32M47.65 357.03V354.37M47.98 356.95V354.49M48.32 356.63V354.63M48.65 357.94V355.70M48.98 357.86V356.00M49.31 359.32V356.26M49.64 359.65V357.19M49.98 360.07V358.34M50.31 361.30V358.47M50.64 362.24V359.30M50.97 362.71V359.81M51.30 362.33V359.77M51.64 362.40V360.43M51.97 363.26V360.99M52.30 363.15V360.85M52.63 363.82V360.68M52.96 363.60V361.10M53.30 364.10V361.76M53.63 364.52V361.88M53.96 364.49V362.02M54.29 364.60V361.83M54.62 364.30V362.70M54.96 365.15V363.06M55.29 365.30V362.68M55.62 366.18V363.31M55.95 366.50V364.47M56.28 366.46V364.57M56.62 367.47V364.90M56.95 367.83V365.34M57.28 368.04V365.75M57.61 368.32V366.30M57.94 368.95V366.64M58.28 369.06V366.34M58.61 368.93V366.17M58.94 368.91V366.40M59.27 368.56V367.16M59.60 369.64V367.21M59.94 369.40V366.90M60.27 369.17V367.25M60.60 369.07V367.71M60.93 369.33V367.63M61.26 369.41V367.93M61.60 369.45V367.35M61.93 369.70V367.80M62.26 370.78V367.68M62.59 370.79V368.83M62.92 370.90V368.70M63.26 371.31V369.31M63.59 371.93V369.16M63.92 371.87V369.88M64.25 372.16V369.56M64.58 372.16V370.09M64.92 372.75V370.47M65.25 373.19V370.90M65.58 373.24V371.26M65.91 373.24V370.94M66.24 373.62V371.89M66.58 374.14V371.76M66.91 374.68V371.50M67.24 374.30V372.24M67.57 374.61V372.79M67.90 375.33V372.72M68.24 375.06V372.85M68.57 376.04V373.13M68.90 375.40V373.25M69.23 375.62V373.26M69.56 376.57V374.18M69.90 376.50V373.76M70.23 376.92V374.04M70.56 376.69V374.71M70.89 377.16V374.52M71.22 377.25V375.42M71.56 377.37V375.74M71.89 377.97V375.23M72.22 377.68V376.04M72.55 378.32V375.99M72.88 377.99V376.15M73.22 378.07V376.33M73.55 378.31V376.65M73.88 378.81V377.00M74.21 378.86V377.14M74.54 378.76V377.54M74.88 379.43V377.44M75.21 379.43V377.86M75.54 379.66V377.82M75.87 379.70V378.35M76.20 379.56V378.44M76.54 380.05V378.42M76.87 380.17V378.91M77.20 380.06V378.87M77.53 380.37V379.36M77.86 380.53V379.37M78.20 380.72V379.69M78.53 380.94V379.65M78.86 381.36V379.92M79.19 381.34V379.93M79.52 381.45V380.24M79.86 382.08V380.54M80.19 381.98V381.02M80.52 382.29V380.79M80.85 382.25V380.95M81.18 382.87V381.30M81.52 382.57V381.40M81.85 383.00V381.87M82.18 382.80V381.54M82.51 383.07V381.94M82.84 383.10V381.82M83.18 383.29V382.07M83.51 383.64V382.36M83.84 383.74V382.48M84.17 383.78V382.72M84.50 383.80V382.72M84.84 384.24V382.90M85.17 384.24V382.93M85.50 384.15V383.24M85.83 384.58V383.26M86.16 384.70V383.10M86.50 384.83V383.58M86.83 384.68V383.30M87.16 384.63V383.49M87.49 384.99V383.40M87.82 384.86V383.72M88.16 385.05V383.56M88.49 384.90V383.65M88.82 385.47V384.08M89.15 385.41V384.26M89.48 385.31V384.41M89.82 385.33V384.21M90.15 385.58V384.40M90.48 385.49V384.40M90.81 385.61V384.31M91.14 385.81V384.37M91.48 386.02V384.80M91.81 385.91V384.80M92.14 386.30V384.81M92.47 386.30V385.21M92.80 386.20V385.10M93.14 386.22V385.17M93.47 386.33V385.40M93.80 386.82V385.36M94.13 386.61V385.29M94.46 386.76V385.77M94.80 387.00V385.91M95.13 387.10V385.50M95.46 387.21V385.73M95.79 387.15V386.13M96.12 387.21V386.26M96.46 387.58V386.07M96.79 387.70V385.95M97.12 387.63V386.23M97.45 387.42V386.61M97.78 387.49V386.73M98.12 387.78V386.47M98.45 387.64V386.70M98.78 387.73V386.61M99.11 388.06V386.94M99.44 388.26V386.91M99.78 388.27V386.97M100.11 388.09V387.04M100.44 388.26V387.30M100.77 388.60V387.00M101.10 388.25V387.29M101.44 388.80V387.40M101.77 388.69V387.40M102.10 388.65V387.50M102.43 388.67V387.31M102.76 388.66V387.40M103.10 388.84V387.74M103.43 388.77V387.79M103.76 388.83V387.77M104.09 389.03V387.82M104.42 389.09V387.97M104.76 389.20V387.83M105.09 389.39V387.97M105.42 389.41V388.11M105.75 389.52V388.14M106.08 389.41V388.42M106.42 389.79V388.13M106.75 389.89V388.22M107.08 389.59V388.60M107.41 389.73V388.65M107.74 389.66V388.76M108.08 390.16V388.91M108.41 389.89V388.89M108.74 390.19V388.54M109.07 390.02V388.74M109.40 390.18V388.86M109.74 390.56V388.84M110.07 390.46V388.89M110.40 390.48V388.92M110.73 390.78V388.96M111.06 390.80V389.29M111.40 390.66V389.09M111.73 390.60V389.17M112.06 390.56V389.54M112.39 391.05V389.77M112.72 390.81V389.39M113.06 390.91V389.80M113.39 391.01V389.70M113.72 391.27V389.75M114.05 391.37V390.18M114.38 391.52V390.00M114.72 391.24V390.22M115.05 391.48V390.03M115.38 391.62V390.19M115.71 391.50V390.33M116.04 391.79V390.24M116.38 391.59V390.59M116.71 391.60V390.40M117.04 391.61V390.38M117.37 391.86V390.45M117.70 392.00V390.52M118.04 392.16V390.73M118.37 391.97V390.47M118.70 391.91V390.50M119.03 391.84V390.50M119.36 392.02V390.74M119.70 392.14V390.99M120.03 392.00V390.82M120.36 392.39V391.06M120.69 392.40V390.83M121.02 392.23V391.16M121.36 392.22V391.00M121.69 392.49V391.10M122.02 392.13V391.31M122.35 392.58V391.10M122.68 392.29V390.96M123.02 392.57V391.08M123.35 392.76V391.33M123.68 392.39V391.22M124.01 392.66V391.29M124.34 392.68V391.36M124.68 392.50V391.16M125.01 392.91V391.32M125.34 392.54V391.44M125.67 392.82V391.61M126.00 392.87V391.53M126.34 392.84V391.83M126.67 392.67V391.78M127.00 392.95V391.86M127.33 392.95V391.97M127.66 393.15V391.84M128.00 393.20V391.82M128.33 393.32V391.85M128.66 393.01V391.82M128.99 392.95V391.68M129.32 393.26V391.98M129.66 393.15V391.80M129.99 393.31V391.95M130.32 393.26V392.07M130.65 393.40V392.18M130.98 393.47V392.17M131.32 393.32V392.39M131.65 393.73V392.00M131.98 393.56V392.17M132.31 393.37V392.18M132.64 393.60V392.10M132.98 393.61V392.42M133.31 393.89V392.62M133.64 393.59V392.25M133.97 393.87V392.49M134.30 393.73V392.49M134.64 394.00V392.36M134.97 393.88V392.51M135.30 393.85V392.70M135.63 393.88V392.87M135.96 394.00V392.66M136.30 393.99V392.89M136.63 394.28V393.04M136.96 394.35V393.03M137.29 394.19V392.86M137.62 394.11V392.97M137.96 394.11V393.23M138.29 394.38V393.22M138.62 394.33V393.01M138.95 394.32V393.11M139.28 394.47V393.20M139.62 394.64V393.30M139.95 394.45V393.12M140.28 394.69V392.99M140.61 394.75V393.41M140.94 394.55V393.33M141.28 394.53V393.15M141.61 394.52V393.13M141.94 394.61V393.21M142.27 394.67V393.54M142.60 394.88V393.54M142.94 394.70V393.51M143.27 394.66V393.32M143.60 394.49V393.63M143.93 394.49V393.74M144.26 394.56V393.22M144.60 394.87V393.35M144.93 394.82V393.50M145.26 394.65V393.32M145.59 394.98V393.74M145.92 394.67V393.56M146.26 394.70V393.79M146.59 394.76V393.85M146.92 395.17V393.80M147.25 394.76V393.77M147.58 395.06V393.85M147.92 395.28V393.80M148.25 395.08V393.88M148.58 394.97V393.92M148.91 394.86V393.61M149.24 395.11V394.08M149.58 395.14V393.82M149.91 395.12V393.96M150.24 395.10V393.67M150.57 395.14V394.22" stroke="#9c9cf0" stroke-width="0.6" stroke-opacity="0.7" fill="none"/>
<polyline points="42.90,368.34 43.21,366.60 43.52,361.82 43.83,359.14 44.14,356.23 44.46,356.21 44.77,353.77 45.08,354.38 45.39,354.88 45.70,356.70 46.01,356.71 46.32,357.12 46.63,357.43 46.95,357.14 47.26,357.83 47.57,357.50 47.88,357.11 48.19,357.47 48.50,357.95 48.81,357.47 49.12,359.08 49.44,360.04 49.75,360.38 50.06,361.35 50.37,361.96 50.68,362.61 50.99,361.93 51.30,363.01 51.61,363.15 51.93,363.13 52.24,362.74 52.55,363.93 52.86,364.31 53.17,363.15 53.48,365.09 53.79,364.81 54.10,364.55 54.42,364.04 54.73,365.67 55.04,366.72 55.35,365.75 55.66,366.66 55.97,367.00 56.28,367.02 56.59,367.52 56.91,367.88 57.22,368.59 57.53,368.23 57.84,368.34 58.15,369.10 58.46,369.43 58.77,369.03 59.08,369.26 59.40,370.04 59.71,369.90 60.02,369.35 60.33,369.97 60.64,370.19 60.95,370.07 61.26,370.29 61.58,370.40 61.89,371.50 62.20,370.14 62.51,371.07 62.82,371.80 63.13,371.24 63.44,371.79 63.75,372.18 64.06,371.98 64.38,371.70 64.69,372.71 65.00,372.51 65.31,372.51 65.62,374.17 65.93,374.21 66.24,373.89 66.55,375.24 66.87,374.86 67.18,374.43 67.49,374.79 67.80,375.22 68.11,376.54 68.42,374.91 68.73,375.93 69.05,376.07 69.36,376.42 69.67,377.62 69.98,377.73 70.29,377.87 70.60,376.72 70.91,378.16 71.22,378.14 71.53,378.30 71.85,378.05 72.16,378.20 72.47,378.43 72.78,379.22 73.09,380.17 73.40,378.83 73.71,378.91 74.03,378.60 74.34,379.31 74.65,379.65 74.96,379.32 75.27,380.31 75.58,380.20 75.89,380.31 76.20,379.88 76.51,379.26 76.83,380.03 77.14,380.05 77.45,380.63 77.76,380.80 78.07,381.30 78.38,381.41 78.69,382.54 79.00,382.19 79.32,382.41 79.63,381.65 79.94,381.91 80.25,381.89 80.56,381.89 80.87,382.89 81.18,382.45 81.50,382.18 81.81,383.16 82.12,382.80 82.43,383.47 82.74,384.23 83.05,383.58 83.36,384.12 83.67,383.83 83.98,384.20 84.30,383.98 84.61,385.18 84.92,383.44 85.23,383.88 85.54,384.75 85.85,385.12 86.16,384.80 86.47,384.59 86.79,384.79 87.10,384.89 87.41,386.02 87.72,385.74 88.03,384.73 88.34,385.31 88.65,386.17 88.97,385.97 89.28,386.31 89.59,386.21 89.90,385.33 90.21,386.03 90.52,385.52 90.83,386.02 91.14,386.86 91.45,386.57 91.77,385.34 92.08,386.80 92.39,387.01 92.70,386.08 93.01,386.68 93.32,386.81 93.63,386.23 93.94,387.77 94.26,386.88 94.57,387.62 94.88,387.87 95.19,387.69 95.50,386.89 95.81,387.56 96.12,388.41 96.44,388.17 96.75,387.07 97.06,387.39 97.37,388.42 97.68,386.93 97.99,388.25 98.30,388.69 98.61,388.28 98.92,387.86 99.24,387.62 99.55,387.95 99.86,388.67 100.17,388.80 100.48,389.27 100.79,388.71 101.10,389.01 101.41,388.70 101.73,389.45 102.04,389.18 102.35,389.41 102.66,389.62 102.97,389.67 103.28,389.66 103.59,389.80 103.91,389.08 104.22,389.36 104.53,390.06 104.84,389.30 105.15,389.47 105.46,389.01 105.77,389.82 106.08,389.89 106.39,390.17 106.71,389.87 107.02,389.77 107.33,389.98 107.64,390.24 107.95,389.94 108.26,390.22 108.57,390.21 108.88,390.81 109.20,390.36 109.51,390.97 109.82,390.97 110.13,390.58 110.44,389.77 110.75,390.34 111.06,390.85 111.38,391.00 111.69,390.54 112.00,390.43 112.31,390.57 112.62,391.26 112.93,391.16 113.24,391.46 113.55,391.51 113.87,391.83 114.18,391.62 114.49,392.55 114.80,392.18 115.11,391.52 115.42,392.19 115.73,391.60 116.04,392.49 116.35,392.14 116.67,391.86 116.98,392.55 117.29,392.44 117.60,391.04 117.91,392.50 118.22,392.55 118.53,392.52 118.84,392.29 119.16,392.35 119.47,391.93 119.78,392.05 120.09,392.63 120.40,392.64 120.71,393.16 121.02,393.23 121.34,392.93 121.65,392.30 121.96,392.61 122.27,392.34 122.58,392.31 122.89,392.85 123.20,391.86 123.51,393.08 123.82,393.17 124.14,393.11 124.45,392.44 124.76,393.05 125.07,393.36 125.38,392.87 125.69,392.59 126.00,393.19 126.31,393.29 126.63,392.72 126.94,392.80 127.25,392.86 127.56,393.66 127.87,393.23 128.18,393.23 128.49,394.24 128.81,392.92 129.12,393.46 129.43,393.69 129.74,392.56 130.05,393.55 130.36,393.97 130.67,393.71 130.98,393.47 131.29,393.39 131.61,393.82 131.92,394.22 132.23,394.18 132.54,394.27 132.85,394.41 133.16,393.98 133.47,394.23 133.78,394.02 134.10,394.46 134.41,394.51 134.72,394.24 135.03,394.35 135.34,393.71 135.65,394.67 135.96,394.21 136.28,394.36 136.59,394.96 136.90,394.08 137.21,394.37 137.52,395.43 137.83,394.25 138.14,394.14 138.45,394.95 138.76,393.87 139.08,394.58 139.39,395.20 139.70,394.45 140.01,394.89 140.32,395.35 140.63,395.74 140.94,394.68 141.25,395.15 141.57,394.55 141.88,394.69 142.19,395.12 142.50,395.15 142.81,394.14 143.12,394.19 143.43,394.65 143.75,395.17 144.06,395.47 144.37,395.23 144.68,394.33 144.99,394.89 145.30,395.26 145.61,395.70 145.92,395.10 146.23,395.59 146.55,395.21 146.86,394.91 147.17,394.79 147.48,395.23 147.79,395.47 148.10,395.24 148.41,394.55 148.72,395.22 149.04,396.04 149.35,394.74 149.66,395.34 149.97,393.92 150.28,395.71 150.59,395.57 150.90,395.68 151.22,395.40 151.53,395.86 151.84,396.28 152.15,396.51 152.46,395.72 152.77,395.92 153.08,395.98 153.39,394.79 153.70,395.41 154.02,395.30 154.33,396.03 154.64,395.70 154.95,395.95 155.26,395.97 155.57,395.57 155.88,395.66 156.19,395.82 156.51,395.91 156.82,396.64 157.13,396.35 157.44,395.87 157.75,396.23 158.06,396.44 158.37,395.96 158.69,396.55 159.00,396.46 159.31,395.79 159.62,396.37 159.93,395.59 160.24,396.02 160.55,395.92 160.86,395.79 161.17,397.27 161.49,396.35 161.80,396.90 162.11,396.54 162.42,396.38 162.73,395.79 163.04,396.38 163.35,395.63 163.66,396.61 163.98,396.41 164.29,396.35 164.60,395.98 164.91,396.44 165.22,396.70 165.53,396.58 165.84,397.07 166.16,395.89 166.47,396.13 166.78,396.28 167.09,396.36 167.40,396.76 167.71,396.68 168.02,396.15 168.33,396.87 168.64,396.88 168.96,395.83 169.27,395.85 169.58,396.42 169.89,396.33 170.20,396.49 170.51,395.95 170.82,396.79 171.13,396.56 171.45,396.39 171.76,395.98 172.07,396.74 172.38,396.53 172.69,396.87 173.00,396.95 173.31,396.96 173.62,396.64 173.94,396.29 174.25,397.00 174.56,396.97 174.87,396.89 175.18,396.57 175.49,396.42 175.80,397.30 176.12,396.59 176.43,397.20 176.74,396.45 177.05,397.21 177.36,397.27 177.67,397.11 177.98,396.84 178.29,397.26 178.60,396.73" fill="none" stroke="#1414e0" stroke-width="1.6" stroke-linejoin="round"/>
<polyline points="42.90,327.65 43.21,325.39 43.52,322.15 43.83,319.52 44.14,316.73 44.46,318.73 44.77,324.25 45.08,325.99 45.39,328.76 45.70,330.38 46.01,332.34 46.32,333.27 46.63,335.37 46.95,337.16 47.26,338.72 47.57,339.42 47.88,340.20 48.19,341.01 48.50,342.30 48.81,343.62 49.12,344.28 49.44,345.87 49.75,346.16 50.06,347.30 50.37,347.41 50.68,348.33 50.99,349.28 51.30,350.46 51.61,350.77 51.93,351.60 52.24,352.64 52.55,353.43 52.86,353.64 53.17,354.91 53.48,355.43 53.79,355.84 54.10,357.19 54.42,356.74 54.73,357.48 55.04,358.48 55.35,359.08 55.66,359.67 55.97,359.55 56.28,361.09 56.59,360.57 56.91,361.03 57.22,361.52 57.53,361.70 57.84,361.90 58.15,362.10 58.46,362.00 58.77,362.74 59.08,362.41 59.40,362.68 59.71,363.36 60.02,363.45 60.33,364.14 60.64,364.31 60.95,364.53 61.26,364.45 61.58,365.38 61.89,365.76 62.20,366.06 62.51,366.47 62.82,367.08 63.13,366.56 63.44,367.64 63.75,367.86 64.06,368.13 64.38,367.94 64.69,367.50 65.00,367.71 65.31,368.54 65.62,368.96 65.93,369.30 66.24,369.82 66.55,369.53 66.87,370.01 67.18,369.60 67.49,370.52 67.80,370.97 68.11,371.44 68.42,371.65 68.73,371.50 69.05,372.13 69.36,373.12 69.67,373.78 69.98,373.80 70.29,374.54 70.60,374.92 70.91,375.54 71.22,376.32 71.53,376.91 71.85,376.55 72.16,376.75 72.47,376.92 72.78,376.88 73.09,377.08 73.40,377.69 73.71,377.57 74.03,378.57 74.34,377.92 74.65,378.32 74.96,378.20 75.27,378.40 75.58,379.17 75.89,379.12 76.20,378.94 76.51,379.64 76.83,379.67 77.14,380.08 77.45,379.93 77.76,380.22 78.07,380.76 78.38,381.14 78.69,381.59 79.00,380.88 79.32,381.47 79.63,381.75 79.94,381.91 80.25,382.23 80.56,381.97 80.87,382.19 81.18,383.22 81.50,382.68 81.81,382.76 82.12,383.01 82.43,383.00 82.74,382.65 83.05,383.18 83.36,383.03 83.67,383.21 83.98,384.08 84.30,383.22 84.61,383.81 84.92,384.07 85.23,383.86 85.54,383.56 85.85,384.58 86.16,384.66 86.47,384.45 86.79,385.19 87.10,385.10 87.41,384.86 87.72,384.76 88.03,384.93 88.34,384.95 88.65,384.98 88.97,385.54 89.28,385.62 89.59,385.72 89.90,385.83 90.21,385.50 90.52,385.68 90.83,386.66 91.14,386.01 91.45,386.58 91.77,386.70 92.08,386.09 92.39,386.18 92.70,386.33 93.01,386.59 93.32,386.35 93.63,387.34 93.94,386.86 94.26,387.42 94.57,387.50 94.88,387.92 95.19,387.08 95.50,387.11 95.81,387.48 96.12,388.03 96.44,387.91 96.75,388.38 97.06,388.25 97.37,387.82 97.68,387.90 97.99,388.24 98.30,388.27 98.61,388.60 98.92,388.51 99.24,388.73 99.55,388.60 99.86,388.99 100.17,388.56 100.48,388.99 100.79,388.92 101.10,389.08 101.41,388.64 101.73,388.89 102.04,389.46 102.35,389.56 102.66,389.17 102.97,389.37 103.28,389.53 103.59,389.45 103.91,389.08 104.22,389.67 104.53,389.27 104.84,389.91 105.15,389.89 105.46,389.79 105.77,389.96 106.08,390.15 106.39,390.38 106.71,390.22 107.02,390.30 107.33,390.24 107.64,389.98 107.95,390.20 108.26,390.07 108.57,390.41 108.88,390.40 109.20,390.41 109.51,390.44 109.82,390.41 110.13,390.94 110.44,390.71 110.75,390.83 111.06,390.59 111.38,390.76 111.69,391.24 112.00,391.01 112.31,390.98 112.62,391.24 112.93,390.94 113.24,391.29 113.55,391.81 113.87,391.40 114.18,391.32 114.49,391.85 114.80,391.46 115.11,392.55 115.42,391.19 115.73,392.27 116.04,392.06 116.35,392.07 116.67,392.45 116.98,391.99 117.29,392.39 117.60,392.55 117.91,392.87 118.22,392.02 118.53,391.91 118.84,392.38 119.16,392.27 119.47,391.89 119.78,392.29 120.09,392.10 120.40,392.18 120.71,392.29 121.02,392.39 121.34,392.23 121.65,392.56 121.96,392.62 122.27,392.91 122.58,393.35 122.89,393.04 123.20,392.90 123.51,392.53 123.82,392.98 124.14,393.50 124.45,392.74 124.76,392.62 125.07,392.92 125.38,392.97 125.69,393.01 126.00,393.15 126.31,392.75 126.63,393.45 126.94,393.46 127.25,393.71 127.56,393.46 127.87,393.55 128.18,393.58 128.49,393.36 128.81,393.14 129.12,393.90 129.43,393.49 129.74,393.77 130.05,393.80 130.36,393.77 130.67,393.56 130.98,394.19 131.29,393.30 131.61,393.81 131.92,394.03 132.23,394.33 132.54,393.57 132.85,393.72 133.16,393.70 133.47,393.95 133.78,393.52 134.10,393.60 134.41,393.47 134.72,394.04 135.03,393.90 135.34,394.33 135.65,394.22 135.96,394.39 136.28,394.31 136.59,394.34 136.90,394.39 137.21,394.44 137.52,394.42 137.83,394.63 138.14,394.75 138.45,394.72 138.76,394.42 139.08,394.43 139.39,394.34 139.70,393.97 140.01,395.02 140.32,394.48 140.63,395.15 140.94,394.96 141.25,395.05 141.57,394.81 141.88,394.46 142.19,394.42 142.50,394.80 142.81,394.64 143.12,394.82 143.43,395.34 143.75,394.50 144.06,395.20 144.37,395.20 144.68,395.09 144.99,395.38 145.30,395.31 145.61,394.92 145.92,395.45 146.23,395.38 146.55,395.72 146.86,395.80 147.17,395.16 147.48,395.15 147.79,395.41 148.10,394.82 148.41,395.65 148.72,395.22 149.04,395.62 149.35,395.43 149.66,395.30 149.97,395.88 150.28,395.08 150.59,395.55 150.90,395.53 151.22,395.62 151.53,395.48 151.84,395.98 152.15,395.99 152.46,395.55 152.77,395.75 153.08,395.83 153.39,395.64 153.70,395.29 154.02,396.08 154.33,396.53 154.64,395.92 154.95,396.36 155.26,395.95 155.57,396.18 155.88,395.91 156.19,395.39 156.51,395.99 156.82,396.49 157.13,396.34 157.44,396.36 157.75,396.49 158.06,395.95 158.37,396.05 158.69,395.83 159.00,395.91 159.31,396.22 159.62,396.38 159.93,396.38 160.24,396.26 160.55,396.48 160.86,396.76 161.17,395.60 161.49,395.88 161.80,396.40 162.11,396.46 162.42,396.44 162.73,396.21 163.04,396.45 163.35,397.02 163.66,396.29 163.98,396.22 164.29,396.80 164.60,396.83 164.91,396.44 165.22,396.75 165.53,396.12 165.84,396.18 166.16,396.96 166.47,396.31 166.78,396.90 167.09,396.69 167.40,396.08 167.71,396.57 168.02,396.31 168.33,396.64 168.64,395.92 168.96,396.53 169.27,395.63 169.58,396.38 169.89,396.66 170.20,396.54 170.51,396.65 170.82,396.13 171.13,396.91 171.45,396.34 171.76,396.17 172.07,396.30 172.38,397.03 172.69,396.25 173.00,396.40 173.31,396.32 173.62,396.97 173.94,396.63 174.25,396.34 174.56,396.66 174.87,396.64 175.18,396.84 175.49,396.78 175.80,396.73 176.12,395.98 176.43,396.79 176.74,396.92 177.05,397.08 177.36,396.65 177.67,396.73 177.98,396.95 178.29,397.32 178.60,396.24" fill="none" stroke="#e41c1c" stroke-width="1.6" stroke-linejoin="round"/>
<line x1="242.8" y1="296.4" x2="242.8" y2="405.6" stroke="#a4a4a4" stroke-width="1"/>
<line x1="242.8" y1="405.6" x2="379.2" y2="405.6" stroke="#a4a4a4" stroke-width="1"/>
<line x1="240.8" y1="405.70" x2="242.8" y2="405.70" stroke="#555" stroke-width="0.7"/>
<text x="239.40" y="408.70" font-size="8.4" text-anchor="end" font-weight="normal" font-style="normal" fill="#1a1a1a" textLength="10.8" lengthAdjust="spacingAndGlyphs" stroke="#1a1a1a" stroke-width="0.18">0.0</text>
<line x1="240.8" y1="383.78" x2="242.8" y2="383.78" stroke="#555" stroke-width="0.7"/>
<text x="239.40" y="386.78" font-size="8.4" text-anchor="end" font-weight="normal" font-style="normal" fill="#1a1a1a" textLength="10.8" lengthAdjust="spacingAndGlyphs" stroke="#1a1a1a" stroke-width="0.18">0.2</text>
<line x1="240.8" y1="361.86" x2="242.8" y2="361.86" stroke="#555" stroke-width="0.7"/>
<text x="239.40" y="364.86" font-size="8.4" text-anchor="end" font-weight="normal" font-style="normal" fill="#1a1a1a" textLength="10.8" lengthAdjust="spacingAndGlyphs" stroke="#1a1a1a" stroke-width="0.18">0.4</text>
<line x1="240.8" y1="339.94" x2="242.8" y2="339.94" stroke="#555" stroke-width="0.7"/>
<text x="239.40" y="342.94" font-size="8.4" text-anchor="end" font-weight="normal" font-style="normal" fill="#1a1a1a" textLength="10.8" lengthAdjust="spacingAndGlyphs" stroke="#1a1a1a" stroke-width="0.18">0.6</text>
<line x1="240.8" y1="318.02" x2="242.8" y2="318.02" stroke="#555" stroke-width="0.7"/>
<text x="239.40" y="321.02" font-size="8.4" text-anchor="end" font-weight="normal" font-style="normal" fill="#1a1a1a" textLength="10.8" lengthAdjust="spacingAndGlyphs" stroke="#1a1a1a" stroke-width="0.18">0.8</text>
<line x1="240.8" y1="296.10" x2="242.8" y2="296.10" stroke="#555" stroke-width="0.7"/>
<text x="239.40" y="299.10" font-size="8.4" text-anchor="end" font-weight="normal" font-style="normal" fill="#1a1a1a" textLength="10.8" lengthAdjust="spacingAndGlyphs" stroke="#1a1a1a" stroke-width="0.18">1.0</text>
<line x1="242.20000000000002" y1="394.74" x2="243.20000000000002" y2="394.74" stroke="#333" stroke-width="0.8"/>
<line x1="242.20000000000002" y1="372.82" x2="243.20000000000002" y2="372.82" stroke="#333" stroke-width="0.8"/>
<line x1="242.20000000000002" y1="350.90" x2="243.20000000000002" y2="350.90" stroke="#333" stroke-width="0.8"/>
<line x1="242.20000000000002" y1="328.98" x2="243.20000000000002" y2="328.98" stroke="#333" stroke-width="0.8"/>
<line x1="242.20000000000002" y1="307.06" x2="243.20000000000002" y2="307.06" stroke="#333" stroke-width="0.8"/>
<line x1="242.90" y1="405.6" x2="242.90" y2="407.40000000000003" stroke="#555" stroke-width="0.7"/>
<text x="243.40" y="415.40" font-size="8.5" text-anchor="middle" font-weight="normal" font-style="normal" fill="#1a1a1a" stroke="#1a1a1a" stroke-width="0.18">0</text>
<line x1="253.28" y1="405.20000000000005" x2="253.28" y2="406.40000000000003" stroke="#333" stroke-width="0.8"/>
<line x1="263.65" y1="405.6" x2="263.65" y2="407.40000000000003" stroke="#555" stroke-width="0.7"/>
<text x="264.15" y="415.40" font-size="8.5" text-anchor="middle" font-weight="normal" font-style="normal" fill="#1a1a1a" stroke="#1a1a1a" stroke-width="0.18">100</text>
<line x1="274.02" y1="405.20000000000005" x2="274.02" y2="406.40000000000003" stroke="#333" stroke-width="0.8"/>
<line x1="284.40" y1="405.6" x2="284.40" y2="407.40000000000003" stroke="#555" stroke-width="0.7"/>
<text x="284.90" y="415.40" font-size="8.5" text-anchor="middle" font-weight="normal" font-style="normal" fill="#1a1a1a" stroke="#1a1a1a" stroke-width="0.18">200</text>
<line x1="294.77" y1="405.20000000000005" x2="294.77" y2="406.40000000000003" stroke="#333" stroke-width="0.8"/>
<line x1="305.15" y1="405.6" x2="305.15" y2="407.40000000000003" stroke="#555" stroke-width="0.7"/>
<text x="305.65" y="415.40" font-size="8.5" text-anchor="middle" font-weight="normal" font-style="normal" fill="#1a1a1a" stroke="#1a1a1a" stroke-width="0.18">300</text>
<line x1="315.52" y1="405.20000000000005" x2="315.52" y2="406.40000000000003" stroke="#333" stroke-width="0.8"/>
<line x1="325.90" y1="405.6" x2="325.90" y2="407.40000000000003" stroke="#555" stroke-width="0.7"/>
<text x="326.40" y="415.40" font-size="8.5" text-anchor="middle" font-weight="normal" font-style="normal" fill="#1a1a1a" stroke="#1a1a1a" stroke-width="0.18">400</text>
<line x1="336.27" y1="405.20000000000005" x2="336.27" y2="406.40000000000003" stroke="#333" stroke-width="0.8"/>
<line x1="346.65" y1="405.6" x2="346.65" y2="407.40000000000003" stroke="#555" stroke-width="0.7"/>
<text x="347.15" y="415.40" font-size="8.5" text-anchor="middle" font-weight="normal" font-style="normal" fill="#1a1a1a" stroke="#1a1a1a" stroke-width="0.18">500</text>
<line x1="357.02" y1="405.20000000000005" x2="357.02" y2="406.40000000000003" stroke="#333" stroke-width="0.8"/>
<line x1="367.40" y1="405.6" x2="367.40" y2="407.40000000000003" stroke="#555" stroke-width="0.7"/>
<text x="367.90" y="415.40" font-size="8.5" text-anchor="middle" font-weight="normal" font-style="normal" fill="#1a1a1a" stroke="#1a1a1a" stroke-width="0.18">600</text>
<line x1="377.77" y1="405.20000000000005" x2="377.77" y2="406.40000000000003" stroke="#333" stroke-width="0.8"/>
<text x="0" y="0" font-size="8.5" textLength="124" lengthAdjust="spacingAndGlyphs" text-anchor="middle" fill="#1a1a1a" stroke="#1a1a1a" stroke-width="0.1" transform="translate(220.7,352.0) rotate(-90)">Normalized Fluorescence Intensity</text>
<text x="257.00" y="429.20" font-size="9.56" text-anchor="start" font-weight="normal" font-style="normal" fill="#111" textLength="107" lengthAdjust="spacingAndGlyphs" stroke="#111" stroke-width="0.15">Distance From Hole (µm)</text>
<path d="M243.00 344.51V331.23M243.34 334.74V316.62M243.67 327.02V310.28M244.00 317.36V308.39M244.33 315.01V300.83M244.66 323.35V313.24M245.00 328.19V324.77M245.33 334.00V331.10M245.66 340.12V336.49M245.99 342.72V338.20M246.32 345.63V341.49M246.66 349.01V344.58M246.99 351.56V347.42M247.32 352.58V348.66M247.65 354.94V351.66M247.98 357.15V353.41M248.32 359.08V354.37M248.65 361.17V356.20M248.98 361.30V358.82M249.31 363.22V359.20M249.64 364.90V360.41M249.98 364.55V362.02M250.31 366.15V363.10M250.64 367.28V362.92M250.97 368.99V365.48M251.30 370.29V365.70M251.64 371.49V367.54M251.97 371.80V367.26M252.30 372.49V368.69M252.63 372.57V369.63M252.96 373.11V369.94M253.30 373.50V369.09M253.63 374.86V370.20M253.96 374.39V371.30M254.29 375.39V370.36M254.62 374.63V372.23M254.96 375.55V371.31M255.29 376.76V372.31M255.62 377.52V373.16M255.95 376.93V373.23M256.28 377.20V374.50M256.62 378.35V373.66M256.95 378.40V374.78M257.28 379.14V374.34M257.61 379.30V376.38M257.94 379.37V376.31M258.28 380.26V376.79M258.61 380.47V376.83M258.94 381.28V376.56M259.27 381.48V376.53M259.60 381.84V376.76M259.94 380.78V377.45M260.27 381.17V378.09M260.60 381.35V378.02M260.93 382.40V377.36M261.26 382.35V378.56M261.60 381.82V378.79M261.93 382.36V379.34M262.26 382.30V379.43M262.59 383.83V378.47M262.92 383.86V378.75M263.26 382.74V379.53M263.59 384.57V380.66M263.92 384.47V380.34M264.25 384.04V379.62M264.58 384.69V381.20M264.92 384.57V381.43M265.25 385.58V380.97M265.58 384.80V382.00M265.91 385.43V381.18M266.24 385.14V381.93M266.58 385.17V382.51M266.91 385.67V381.75M267.24 385.63V382.43M267.57 387.14V383.39M267.90 386.66V383.41M268.24 386.72V383.78M268.57 386.70V383.78M268.90 388.17V384.08M269.23 387.59V383.66M269.56 387.85V384.48M269.90 387.86V383.47M270.23 387.93V383.70M270.56 388.85V383.84M270.89 387.71V384.73M271.22 388.41V384.96M271.56 388.00V385.85M271.89 388.54V385.37M272.22 389.18V385.32M272.55 388.75V386.39M272.88 388.94V386.12M273.22 389.37V386.08M273.55 390.09V386.34M273.88 389.83V386.20M274.21 390.15V386.49M274.54 389.69V386.95M274.88 389.67V387.87M275.21 390.16V387.39M275.54 390.22V387.84M275.87 391.07V388.29M276.20 390.62V388.50M276.54 391.36V388.52M276.87 391.07V388.53M277.20 391.69V388.49M277.53 391.52V388.70M277.86 391.99V388.75M278.20 391.57V388.95M278.53 391.35V389.30M278.86 392.32V389.96M279.19 392.35V389.78M279.52 392.53V390.48M279.86 392.75V390.77M280.19 392.21V390.27M280.52 392.82V390.68M280.85 392.90V391.06M281.18 393.13V391.19M281.52 393.37V391.67M281.85 393.28V391.82M282.18 393.45V391.40M282.51 393.87V392.12M282.84 393.42V392.26M283.18 393.93V391.80M283.51 393.78V392.37M283.84 394.29V392.45M284.17 394.23V392.18M284.50 393.86V392.30M284.84 394.02V392.31M285.17 394.15V392.43M285.50 394.20V393.14M285.83 394.78V393.15M286.16 394.69V393.08M286.50 394.99V392.95M286.83 395.06V393.51M287.16 395.27V393.44M287.49 395.14V393.48M287.82 395.38V393.87M288.16 395.52V393.88M288.49 395.80V393.84M288.82 395.90V393.83M289.15 395.67V394.36M289.48 395.81V394.33M289.82 396.05V394.25M290.15 395.94V394.16M290.48 396.07V394.76M290.81 396.32V394.78M291.14 396.81V394.74M291.48 396.59V394.62M291.81 396.75V394.70M292.14 396.67V395.28M292.47 396.58V395.20M292.80 396.76V395.41M293.14 397.19V394.85M293.47 397.22V395.46M293.80 397.19V395.55M294.13 396.76V394.95M294.46 396.94V395.44M294.80 396.82V395.41M295.13 397.42V395.33M295.46 397.31V395.69M295.79 397.39V395.66M296.12 397.55V395.55M296.46 397.10V395.63M296.79 397.78V395.60M297.12 397.82V395.80M297.45 397.27V395.71M297.78 397.29V395.71M298.12 397.80V396.21M298.45 397.72V395.87M298.78 397.94V396.18M299.11 397.62V396.22M299.44 397.78V396.13M299.78 397.59V396.56M300.11 398.18V396.07M300.44 397.89V396.61M300.77 398.33V396.58M301.10 398.08V396.14M301.44 398.37V396.69M301.77 398.09V396.59M302.10 398.02V396.23M302.43 398.01V396.48M302.76 398.38V397.01M303.10 398.21V396.82M303.43 398.51V396.70M303.76 398.20V396.81M304.09 398.29V396.57M304.42 398.95V397.06M304.76 398.42V396.82M305.09 398.41V397.29M305.42 398.78V396.80M305.75 398.82V397.04M306.08 398.56V397.45M306.42 399.27V397.00M306.75 398.94V397.53M307.08 398.81V397.51M307.41 399.36V397.55M307.74 399.48V397.52M308.08 398.99V397.54M308.41 398.90V397.88M308.74 399.53V397.86M309.07 399.28V397.87M309.40 399.27V397.68M309.74 399.38V397.50M310.07 399.27V397.49M310.40 399.78V397.93M310.73 399.25V397.97M311.06 399.79V397.96M311.40 399.91V397.74M311.73 399.63V398.33M312.06 399.44V398.07M312.39 400.00V398.06M312.72 399.55V398.30M313.06 400.27V398.45M313.39 400.29V398.26M313.72 400.16V398.08M314.05 400.28V398.73M314.38 400.14V398.70M314.72 400.30V398.68M315.05 400.45V398.43M315.38 399.95V398.67M315.71 400.21V398.75M316.04 400.06V398.63M316.38 400.75V398.55M316.71 400.67V399.10M317.04 400.85V398.57M317.37 400.40V398.97M317.70 400.56V398.77M318.04 400.96V398.82M318.37 400.55V398.69M318.70 401.07V399.01M319.03 400.79V398.86M319.36 400.95V399.04M319.70 400.61V399.32M320.03 400.93V398.97M320.36 401.33V398.96M320.69 401.18V399.39M321.02 401.24V399.19M321.36 401.12V399.27M321.69 401.48V399.23M322.02 401.01V399.42M322.35 401.49V399.77M322.68 401.37V399.96M323.02 401.06V399.76M323.35 401.10V399.97M323.68 401.37V399.58M324.01 401.41V399.88M324.34 401.89V399.90M324.68 401.65V399.56M325.01 401.25V399.58M325.34 401.27V400.17M325.67 401.99V400.11M326.00 402.03V400.26M326.34 401.64V400.22M326.67 401.64V400.12M327.00 401.91V399.72M327.33 402.00V399.81M327.66 401.78V399.99M328.00 402.08V399.96M328.33 401.57V400.38M328.66 401.90V400.08M328.99 401.92V400.03M329.32 401.82V400.37M329.66 401.82V400.07M329.99 402.00V400.22" stroke="#f29a9a" stroke-width="0.6" stroke-opacity="0.7" fill="none"/>
<path d="M243.00 353.53V350.29M243.34 354.12V351.21M243.67 354.36V350.90M244.00 355.60V352.88M244.33 358.56V355.40M244.66 361.73V357.23M245.00 363.38V361.34M245.33 366.26V363.18M245.66 368.23V364.92M245.99 369.07V365.94M246.32 370.32V366.90M246.66 372.40V368.01M246.99 372.41V368.98M247.32 374.23V371.62M247.65 375.97V372.32M247.98 375.28V372.77M248.32 376.83V372.59M248.65 377.60V373.81M248.98 378.12V375.22M249.31 378.60V374.77M249.64 379.93V376.38M249.98 380.24V377.34M250.31 380.57V376.64M250.64 380.78V377.51M250.97 380.94V378.53M251.30 381.82V378.65M251.64 382.22V379.49M251.97 382.42V379.97M252.30 383.77V379.37M252.63 383.06V380.37M252.96 384.31V381.10M253.30 384.97V381.01M253.63 385.56V382.19M253.96 385.58V382.56M254.29 385.62V381.91M254.62 385.75V382.74M254.96 386.71V383.13M255.29 387.54V383.04M255.62 387.38V383.95M255.95 388.08V384.08M256.28 387.66V384.49M256.62 387.56V384.40M256.95 388.81V384.94M257.28 388.15V385.27M257.61 388.93V386.28M257.94 389.42V386.01M258.28 389.74V386.26M258.61 389.60V386.22M258.94 389.88V386.90M259.27 390.08V385.85M259.60 390.25V387.36M259.94 390.99V386.75M260.27 391.05V387.54M260.60 391.10V387.13M260.93 389.92V387.22M261.26 390.84V387.42M261.60 390.91V387.54M261.93 390.71V387.00M262.26 390.88V387.84M262.59 391.09V387.25M262.92 391.95V388.37M263.26 391.39V387.84M263.59 391.49V388.12M263.92 391.35V388.41M264.25 391.51V387.83M264.58 392.19V388.11M264.92 391.87V388.17M265.25 392.95V388.21M265.58 391.97V388.22M265.91 391.73V389.31M266.24 392.28V389.61M266.58 392.47V388.54M266.91 393.15V389.46M267.24 393.40V389.78M267.57 393.29V390.01M267.90 392.20V388.92M268.24 393.08V389.21M268.57 392.82V389.62M268.90 393.31V389.50M269.23 393.19V390.17M269.56 393.56V389.72M269.90 393.25V390.42M270.23 393.36V389.52M270.56 393.06V389.93M270.89 394.33V390.35M271.22 394.38V390.98M271.56 394.22V390.47M271.89 393.56V390.30M272.22 394.35V390.28M272.55 394.10V390.64M272.88 394.53V390.84M273.22 394.47V390.55M273.55 394.33V391.08M273.88 394.39V391.16M274.21 394.16V390.96M274.54 394.08V391.52M274.88 394.16V390.92M275.21 393.98V391.37M275.54 395.20V391.34M275.87 394.31V392.48M276.20 394.98V392.24M276.54 394.56V392.03M276.87 395.14V392.63M277.20 395.32V392.85M277.53 394.71V392.08M277.86 395.36V392.41M278.20 394.68V393.10M278.53 395.12V392.98M278.86 394.80V392.70M279.19 395.76V393.45M279.52 395.06V393.24M279.86 395.41V393.17M280.19 395.27V393.18M280.52 395.69V394.05M280.85 395.46V394.16M281.18 395.62V393.68M281.52 395.80V394.00M281.85 396.01V394.43M282.18 395.78V394.07M282.51 395.57V394.67M282.84 395.68V394.41M283.18 396.11V394.54M283.51 396.01V394.63M283.84 396.35V394.34M284.17 396.04V394.57M284.50 396.08V394.37M284.84 396.50V394.54M285.17 396.13V394.91M285.50 396.35V394.88M285.83 396.65V394.96M286.16 396.73V394.68M286.50 396.76V394.93M286.83 396.56V394.76M287.16 396.47V395.22M287.49 396.80V395.48M287.82 397.07V395.36M288.16 396.53V395.59M288.49 397.10V395.26M288.82 397.03V395.61M289.15 396.70V395.76M289.48 396.98V395.56M289.82 397.20V395.77M290.15 397.38V395.68M290.48 397.04V395.70M290.81 397.08V395.48M291.14 397.53V395.54M291.48 397.32V395.89M291.81 397.40V395.62M292.14 397.52V396.18M292.47 397.19V396.21M292.80 397.79V395.85M293.14 397.70V396.18M293.47 397.51V395.82M293.80 397.75V395.85M294.13 397.61V396.09M294.46 397.71V396.52M294.80 398.00V396.12M295.13 397.68V396.54M295.46 397.76V396.33M295.79 397.84V396.42M296.12 398.12V396.49M296.46 397.66V396.64M296.79 397.77V396.46M297.12 398.33V396.31M297.45 398.41V396.33M297.78 398.24V396.32M298.12 398.02V396.73M298.45 398.13V396.36M298.78 398.47V396.91M299.11 398.43V396.54M299.44 398.50V396.96M299.78 398.29V396.78M300.11 398.46V396.84M300.44 398.76V397.24M300.77 398.80V397.25M301.10 398.35V396.68M301.44 398.82V397.11M301.77 398.93V397.12M302.10 398.54V397.03M302.43 398.42V397.12M302.76 399.02V397.27M303.10 398.79V397.34M303.43 399.11V397.19M303.76 398.85V397.18M304.09 398.98V397.64M304.42 399.08V397.61M304.76 398.99V397.66M305.09 399.28V397.46M305.42 399.29V397.78M305.75 399.35V397.43M306.08 398.94V397.40M306.42 399.14V397.56M306.75 399.06V397.74M307.08 399.27V397.60M307.41 399.23V397.71M307.74 399.27V397.81M308.08 399.60V398.00M308.41 399.33V397.97M308.74 399.26V398.05M309.07 399.43V398.26M309.40 399.72V397.82M309.74 399.85V398.02M310.07 399.99V398.07M310.40 399.75V397.93M310.73 399.55V398.05M311.06 399.92V398.17M311.40 400.08V398.33M311.73 399.98V398.39M312.06 400.10V398.60M312.39 399.98V398.36M312.72 400.00V398.20M313.06 400.04V398.78M313.39 400.03V398.71M313.72 399.88V398.88M314.05 400.24V398.57M314.38 399.95V398.71M314.72 400.38V398.59M315.05 400.16V398.54M315.38 400.25V399.11M315.71 400.12V398.62M316.04 400.53V398.85M316.38 400.31V398.72M316.71 400.43V399.31M317.04 400.90V399.17M317.37 400.69V399.25M317.70 400.54V399.00M318.04 400.82V399.09M318.37 401.00V398.97M318.70 401.01V399.54M319.03 400.97V399.12M319.36 400.87V399.28M319.70 400.77V399.52M320.03 400.72V399.17M320.36 401.04V399.37M320.69 400.88V399.52M321.02 401.40V399.52M321.36 401.23V399.43M321.69 401.44V400.03M322.02 401.50V399.97M322.35 401.41V399.99M322.68 401.49V399.79M323.02 401.65V399.90M323.35 401.57V400.26M323.68 401.40V399.98M324.01 401.37V399.77M324.34 401.87V399.90M324.68 401.63V399.82M325.01 401.88V399.87M325.34 401.70V400.39M325.67 401.70V399.90M326.00 401.98V400.25M326.34 402.01V400.52M326.67 401.54V400.19M327.00 401.73V399.98M327.33 402.08V399.98M327.66 401.67V400.07M328.00 401.65V400.39M328.33 402.20V400.02M328.66 401.82V400.23M328.99 401.81V400.53M329.32 401.86V400.46M329.66 402.16V400.45M329.99 402.03V400.61M330.32 401.87V400.23M330.65 402.00V400.84M330.98 402.06V400.47M331.32 401.91V400.71M331.65 402.31V400.69M331.98 402.39V400.45M332.31 402.50V400.61M332.64 402.00V400.99M332.98 402.46V400.38M333.31 402.39V400.56M333.64 402.60V400.78M333.97 402.62V400.95M334.30 402.66V400.69M334.64 402.40V400.93M334.97 402.45V400.74M335.30 402.58V401.11M335.63 402.75V400.81M335.96 402.36V401.11M336.30 402.49V400.65M336.63 402.54V400.81M336.96 402.65V400.98M337.29 402.39V400.91M337.62 402.54V401.20M337.96 402.92V401.10M338.29 402.51V401.21M338.62 402.53V401.16M338.95 402.99V401.12M339.28 402.70V401.31M339.62 402.95V400.90M339.95 402.72V401.10M340.28 403.11V401.12M340.61 403.05V401.31M340.94 402.93V401.40M341.28 402.69V401.54M341.61 402.62V401.14M341.94 402.94V401.15M342.27 402.93V401.15M342.60 402.99V401.14M342.94 402.85V401.37M343.27 402.71V401.37M343.60 403.23V401.43M343.93 403.30V401.62M344.26 402.98V401.78M344.60 403.19V401.78M344.93 403.22V401.81M345.26 403.06V401.44M345.59 403.23V401.54M345.92 403.07V401.50M346.26 403.07V401.63M346.59 403.14V401.61M346.92 403.30V401.59M347.25 403.55V401.66M347.58 403.28V401.81M347.92 403.33V401.59M348.25 403.23V401.76M348.58 403.18V401.67M348.91 403.59V401.70M349.24 403.24V401.91M349.58 403.24V402.20M349.91 403.35V402.18M350.24 403.64V402.03M350.57 403.65V402.05M350.90 403.89V402.38M351.24 403.50V402.27M351.57 403.82V402.01M351.90 403.53V402.14M352.23 403.51V402.28M352.56 403.49V402.12M352.90 403.54V402.03M353.23 403.66V401.98M353.56 403.65V402.31M353.89 404.09V402.37M354.22 403.79V402.64M354.56 403.82V402.41M354.89 403.92V402.66M355.22 404.21V402.30M355.55 404.11V402.65M355.88 403.74V402.73M356.22 403.87V402.25M356.55 403.76V402.39M356.88 404.34V402.55M357.21 403.83V402.60M357.54 404.07V402.40M357.88 404.07V402.68M358.21 404.08V402.63M358.54 404.28V402.91M358.87 404.35V402.33" stroke="#9c9cf0" stroke-width="0.6" stroke-opacity="0.7" fill="none"/>
<polyline points="242.90,354.59 243.21,354.62 243.52,354.98 243.83,356.03 244.15,358.22 244.46,360.39 244.77,362.80 245.08,365.19 245.39,368.17 245.70,369.38 246.01,369.91 246.32,371.18 246.64,372.02 246.95,373.38 247.26,374.93 247.57,375.89 247.88,375.61 248.19,377.20 248.50,378.02 248.81,378.79 249.12,379.04 249.44,379.68 249.75,380.50 250.06,380.98 250.37,381.30 250.68,381.58 250.99,381.87 251.30,382.59 251.62,383.67 251.93,383.28 252.24,384.40 252.55,384.41 252.86,385.26 253.17,385.20 253.48,385.88 253.79,385.98 254.11,385.31 254.42,386.71 254.73,386.73 255.04,387.74 255.35,387.71 255.66,387.70 255.97,388.25 256.28,388.40 256.60,388.79 256.91,389.46 257.22,389.25 257.53,390.01 257.84,389.43 258.15,390.45 258.46,390.19 258.77,390.53 259.08,390.34 259.40,390.98 259.71,390.58 260.02,391.07 260.33,390.74 260.64,391.07 260.95,391.35 261.26,391.78 261.57,391.39 261.89,391.61 262.20,391.35 262.51,392.14 262.82,391.95 263.13,392.09 263.44,392.29 263.75,392.44 264.06,392.57 264.38,392.95 264.69,393.21 265.00,393.09 265.31,392.84 265.62,392.61 265.93,392.87 266.24,392.92 266.56,393.09 266.87,393.19 267.18,393.44 267.49,393.32 267.80,393.07 268.11,393.84 268.42,394.04 268.73,393.25 269.05,393.89 269.36,393.73 269.67,393.84 269.98,394.58 270.29,393.48 270.60,393.77 270.91,394.38 271.22,394.27 271.54,394.55 271.85,394.96 272.16,394.79 272.47,394.70 272.78,394.54 273.09,394.71 273.40,394.97 273.71,394.58 274.02,395.32 274.34,394.85 274.65,394.79 274.96,395.29 275.27,395.83 275.58,395.58 275.89,395.25 276.20,395.19 276.51,394.90 276.83,395.78 277.14,395.49 277.45,395.32 277.76,395.63 278.07,396.40 278.38,395.40 278.69,394.94 279.00,395.41 279.32,396.09 279.63,395.96 279.94,395.80 280.25,395.09 280.56,395.75 280.87,395.96 281.18,395.53 281.50,396.11 281.81,395.51 282.12,396.39 282.43,396.37 282.74,396.03 283.05,395.85 283.36,396.15 283.67,396.32 283.99,397.07 284.30,396.76 284.61,396.77 284.92,396.80 285.23,396.48 285.54,396.84 285.85,396.52 286.16,396.80 286.48,396.99 286.79,396.89 287.10,396.84 287.41,396.75 287.72,397.24 288.03,397.21 288.34,397.64 288.65,396.71 288.97,396.81 289.28,397.40 289.59,397.55 289.90,397.85 290.21,397.44 290.52,397.48 290.83,396.88 291.14,397.57 291.45,397.95 291.77,398.54 292.08,397.31 292.39,397.75 292.70,398.38 293.01,397.83 293.32,398.45 293.63,396.82 293.94,397.63 294.26,397.85 294.57,398.13 294.88,398.81 295.19,398.19 295.50,398.70 295.81,398.03 296.12,398.96 296.44,398.60 296.75,397.93 297.06,397.83 297.37,398.80 297.68,398.95 297.99,398.19 298.30,398.24 298.61,398.88 298.93,398.82 299.24,398.86 299.55,399.06 299.86,398.93 300.17,398.33 300.48,398.56 300.79,398.14 301.10,398.89 301.42,398.94 301.73,399.26 302.04,399.01 302.35,399.44 302.66,399.63 302.97,398.85 303.28,398.65 303.59,398.88 303.90,398.76 304.22,399.15 304.53,399.50 304.84,399.28 305.15,399.47 305.46,399.75 305.77,399.98 306.08,399.96 306.39,399.51 306.71,399.50 307.02,399.75 307.33,399.17 307.64,399.62 307.95,399.53 308.26,399.36 308.57,400.07 308.88,400.50 309.20,399.64 309.51,400.16 309.82,399.54 310.13,399.90 310.44,399.73 310.75,399.85 311.06,400.83 311.38,399.95 311.69,400.45 312.00,400.52 312.31,400.45 312.62,400.10 312.93,400.10 313.24,400.10 313.55,401.02 313.87,400.71 314.18,401.34 314.49,400.64 314.80,400.45 315.11,400.94 315.42,400.65 315.73,400.70 316.04,400.48 316.36,401.13 316.67,401.17 316.98,401.19 317.29,400.41 317.60,400.67 317.91,401.11 318.22,401.03 318.53,401.11 318.85,401.13 319.16,401.30 319.47,401.39 319.78,401.73 320.09,401.57 320.40,400.86 320.71,401.27 321.02,401.46 321.34,401.60 321.65,401.55 321.96,401.50 322.27,401.87 322.58,401.63 322.89,401.66 323.20,402.03 323.51,402.08 323.82,402.19 324.14,402.24 324.45,401.62 324.76,402.71 325.07,402.05 325.38,402.19 325.69,402.21 326.00,402.00 326.31,401.69 326.63,402.06 326.94,402.15 327.25,402.33 327.56,402.19 327.87,401.88 328.18,402.33 328.49,402.60 328.81,402.66 329.12,402.64 329.43,402.75 329.74,401.96 330.05,402.23 330.36,402.45 330.67,401.91 330.98,402.63 331.30,402.19 331.61,402.20 331.92,403.00 332.23,403.02 332.54,402.84 332.85,402.26 333.16,402.16 333.47,403.01 333.78,402.29 334.10,402.78 334.41,402.81 334.72,402.89 335.03,402.84 335.34,403.35 335.65,403.11 335.96,403.21 336.27,402.66 336.59,402.16 336.90,401.97 337.21,403.01 337.52,403.49 337.83,403.08 338.14,403.28 338.45,402.34 338.76,402.83 339.08,403.28 339.39,402.76 339.70,402.91 340.01,403.65 340.32,403.31 340.63,403.24 340.94,403.18 341.25,403.17 341.57,403.35 341.88,403.20 342.19,403.47 342.50,403.60 342.81,402.83 343.12,403.24 343.43,403.23 343.75,403.93 344.06,403.48 344.37,403.18 344.68,403.90 344.99,403.14 345.30,403.65 345.61,403.41 345.92,403.61 346.24,403.52 346.55,403.22 346.86,403.77 347.17,403.15 347.48,403.95 347.79,404.02 348.10,403.50 348.41,404.11 348.73,403.91 349.04,403.51 349.35,403.44 349.66,404.44 349.97,403.72 350.28,403.29 350.59,403.54 350.90,404.03 351.22,404.17 351.53,404.10 351.84,404.40 352.15,404.13 352.46,404.13 352.77,404.13 353.08,403.72 353.39,404.21 353.70,404.63 354.02,403.83 354.33,404.55 354.64,404.37 354.95,404.28 355.26,404.38 355.57,404.61 355.88,404.39 356.19,403.61 356.51,404.55 356.82,404.42 357.13,404.02 357.44,404.17 357.75,404.19 358.06,404.18 358.37,405.13 358.69,404.79 359.00,404.48 359.31,404.38 359.62,404.15 359.93,404.44 360.24,404.69 360.55,404.62 360.86,404.73 361.18,404.60 361.49,404.48 361.80,404.84 362.11,405.01 362.42,405.05 362.73,404.43 363.04,404.39 363.35,404.51 363.67,404.58 363.98,404.61 364.29,404.90 364.60,404.70 364.91,405.29 365.22,405.03 365.53,405.23 365.84,404.77 366.15,405.22 366.47,405.09 366.78,404.95 367.09,404.65 367.40,405.38 367.71,405.45 368.02,404.90 368.33,405.55 368.64,405.06 368.96,405.42 369.27,405.29 369.58,405.87 369.89,405.06 370.20,405.48 370.51,405.64 370.82,404.68" fill="none" stroke="#1414e0" stroke-width="1.6" stroke-linejoin="round"/>
<polyline points="242.90,351.22 243.21,339.89 243.52,329.04 243.83,324.98 244.15,320.55 244.46,319.83 244.77,325.39 245.08,330.41 245.39,336.40 245.70,341.17 246.01,344.05 246.32,346.71 246.64,349.31 246.95,351.30 247.26,353.07 247.57,354.74 247.88,356.60 248.19,358.66 248.50,360.34 248.81,362.05 249.12,363.35 249.44,364.07 249.75,365.26 250.06,366.35 250.37,366.89 250.68,368.19 250.99,369.49 251.30,370.43 251.62,370.92 251.93,372.52 252.24,372.92 252.55,373.36 252.86,373.80 253.17,374.19 253.48,374.85 253.79,375.26 254.11,375.60 254.42,376.06 254.73,376.22 255.04,376.47 255.35,377.42 255.66,377.51 255.97,378.27 256.28,378.62 256.60,378.93 256.91,379.27 257.22,379.80 257.53,380.70 257.84,380.22 258.15,380.94 258.46,381.23 258.77,381.15 259.08,381.65 259.40,382.04 259.71,381.83 260.02,382.06 260.33,382.55 260.64,382.39 260.95,382.70 261.26,383.25 261.57,382.82 261.89,383.36 262.20,383.89 262.51,383.74 262.82,384.03 263.13,384.05 263.44,384.78 263.75,384.46 264.06,384.69 264.38,384.96 264.69,385.19 265.00,385.25 265.31,385.59 265.62,385.93 265.93,386.36 266.24,386.14 266.56,386.38 266.87,386.74 267.18,386.99 267.49,387.07 267.80,388.01 268.11,387.59 268.42,388.43 268.73,388.03 269.05,388.01 269.36,387.95 269.67,388.61 269.98,388.54 270.29,388.78 270.60,389.40 270.91,388.87 271.22,389.17 271.54,389.28 271.85,389.64 272.16,389.57 272.47,389.68 272.78,389.54 273.09,389.89 273.40,389.31 273.71,390.31 274.02,390.41 274.34,390.50 274.65,390.80 274.96,390.41 275.27,390.74 275.58,391.30 275.89,391.12 276.20,391.02 276.51,391.73 276.83,391.51 277.14,391.73 277.45,391.29 277.76,391.85 278.07,392.16 278.38,392.33 278.69,391.92 279.00,392.57 279.32,392.09 279.63,393.08 279.94,392.91 280.25,393.05 280.56,393.28 280.87,393.31 281.18,393.24 281.50,393.67 281.81,393.95 282.12,393.44 282.43,393.52 282.74,394.10 283.05,393.99 283.36,394.73 283.67,394.04 283.99,394.67 284.30,394.60 284.61,394.11 284.92,394.97 285.23,394.79 285.54,395.14 285.85,395.42 286.16,395.38 286.48,395.16 286.79,395.62 287.10,395.57 287.41,395.38 287.72,395.68 288.03,396.05 288.34,395.53 288.65,395.94 288.97,395.76 289.28,396.41 289.59,395.91 289.90,396.69 290.21,396.88 290.52,396.70 290.83,396.79 291.14,396.76 291.45,397.05 291.77,396.83 292.08,396.72 292.39,397.22 292.70,397.43 293.01,397.26 293.32,397.04 293.63,397.09 293.94,397.40 294.26,397.59 294.57,397.42 294.88,397.26 295.19,397.68 295.50,397.28 295.81,397.57 296.12,397.61 296.44,397.86 296.75,397.47 297.06,397.81 297.37,398.20 297.68,397.74 297.99,398.06 298.30,397.78 298.61,398.03 298.93,398.26 299.24,398.13 299.55,398.33 299.86,398.45 300.17,398.31 300.48,398.18 300.79,398.40 301.10,398.49 301.42,398.64 301.73,398.44 302.04,398.56 302.35,398.45 302.66,398.63 302.97,398.29 303.28,399.16 303.59,398.88 303.90,398.80 304.22,398.77 304.53,399.36 304.84,399.34 305.15,399.12 305.46,398.93 305.77,398.96 306.08,399.59 306.39,399.27 306.71,399.08 307.02,399.38 307.33,399.66 307.64,399.64 307.95,399.82 308.26,399.31 308.57,399.67 308.88,399.76 309.20,399.90 309.51,399.78 309.82,400.00 310.13,400.06 310.44,399.90 310.75,399.99 311.06,399.88 311.38,400.00 311.69,399.81 312.00,400.13 312.31,400.11 312.62,400.16 312.93,400.44 313.24,400.04 313.55,400.47 313.87,400.74 314.18,400.16 314.49,400.34 314.80,400.66 315.11,400.36 315.42,400.41 315.73,400.51 316.04,400.97 316.36,400.72 316.67,401.03 316.98,400.99 317.29,401.02 317.60,401.13 317.91,400.88 318.22,401.21 318.53,400.94 318.85,401.09 319.16,401.30 319.47,401.18 319.78,401.11 320.09,401.05 320.40,401.41 320.71,401.01 321.02,401.32 321.34,401.21 321.65,401.83 321.96,401.82 322.27,401.36 322.58,401.72 322.89,401.62 323.20,401.50 323.51,402.13 323.82,401.76 324.14,401.45 324.45,401.73 324.76,401.91 325.07,401.83 325.38,401.97 325.69,401.83 326.00,401.73 326.31,402.10 326.63,401.94 326.94,402.03 327.25,401.95 327.56,401.96 327.87,402.40 328.18,401.93 328.49,402.02 328.81,402.48 329.12,402.33 329.43,402.61 329.74,402.38 330.05,402.26 330.36,402.62 330.67,402.55 330.98,402.60 331.30,402.59 331.61,402.63 331.92,402.72 332.23,402.38 332.54,402.58 332.85,402.73 333.16,402.36 333.47,402.72 333.78,402.43 334.10,402.92 334.41,402.36 334.72,402.79 335.03,402.93 335.34,402.65 335.65,403.06 335.96,403.03 336.27,402.76 336.59,402.95 336.90,402.78 337.21,402.86 337.52,402.86 337.83,402.91 338.14,402.80 338.45,402.98 338.76,402.76 339.08,402.82 339.39,403.49 339.70,403.47 340.01,402.76 340.32,403.23 340.63,403.11 340.94,403.20 341.25,403.14 341.57,402.74 341.88,403.40 342.19,403.26 342.50,403.30 342.81,403.56 343.12,403.54 343.43,403.43 343.75,403.40 344.06,403.33 344.37,403.87 344.68,403.81 344.99,403.13 345.30,403.55 345.61,403.36 345.92,403.65 346.24,403.74 346.55,403.14 346.86,403.91 347.17,403.86 347.48,403.53 347.79,403.70 348.10,404.09 348.41,403.72 348.73,403.62 349.04,404.14 349.35,403.95 349.66,403.68 349.97,403.45 350.28,404.41 350.59,404.07 350.90,403.94 351.22,404.17 351.53,404.19 351.84,404.12 352.15,403.92 352.46,404.29 352.77,403.89 353.08,403.92 353.39,403.93 353.70,403.81 354.02,404.28 354.33,404.20 354.64,403.99 354.95,403.95 355.26,404.05 355.57,404.38 355.88,404.41 356.19,404.61 356.51,404.44 356.82,404.56 357.13,404.49 357.44,404.49 357.75,404.25 358.06,404.26 358.37,404.49 358.69,404.75 359.00,404.53 359.31,404.45 359.62,404.37 359.93,404.54 360.24,404.43 360.55,404.77 360.86,404.51 361.18,404.51 361.49,404.77 361.80,404.88 362.11,404.47 362.42,404.98 362.73,404.63 363.04,404.86 363.35,404.90 363.67,404.90 363.98,404.97 364.29,404.90 364.60,404.52 364.91,404.62 365.22,404.99 365.53,404.88 365.84,404.80 366.15,405.12 366.47,404.64 366.78,405.06 367.09,404.96 367.40,405.32 367.71,405.38 368.02,405.38 368.33,405.32 368.64,404.97 368.96,405.29 369.27,405.05 369.58,405.36 369.89,405.50 370.20,405.28 370.51,405.42 370.82,405.72" fill="none" stroke="#e41c1c" stroke-width="1.6" stroke-linejoin="round"/>
<rect x="314.3" y="339.9" width="14.3" height="14.1" fill="#e03a3a" stroke="#222" stroke-width="0.9"/>
<rect x="314.3" y="358.9" width="14.3" height="13.6" fill="#1a10d8" stroke="#222" stroke-width="0.9"/>
<text x="333.80" y="351.20" font-size="11.8" text-anchor="start" font-weight="normal" font-style="italic" fill="#000" textLength="29.5" lengthAdjust="spacingAndGlyphs" stroke="#000" stroke-width="0.3">Cd14</text>
<text x="364.60" y="345.90" font-size="7.6" text-anchor="start" font-weight="normal" font-style="italic" fill="#000" textLength="9.6" lengthAdjust="spacingAndGlyphs" stroke="#000" stroke-width="0.2">-/-</text>
<text x="334.20" y="369.20" font-size="11.4" text-anchor="start" font-weight="normal" font-style="normal" fill="#000" textLength="18.4" lengthAdjust="spacingAndGlyphs" stroke="#000" stroke-width="0.3">WT</text>
<defs><filter id="soft" x="-5%" y="-5%" width="110%" height="110%"><feGaussianBlur stdDeviation="0.35"/></filter><filter id="soft2" x="-5%" y="-5%" width="110%" height="110%"><feGaussianBlur stdDeviation="0.7"/></filter><radialGradient id="gglow" cx="0.5" cy="0.5" r="0.5"><stop offset="0" stop-color="#126012" stop-opacity="0.8"/><stop offset="0.55" stop-color="#0c4a0c" stop-opacity="0.4"/><stop offset="1" stop-color="#0a400a" stop-opacity="0"/></radialGradient><radialGradient id="gglow2" cx="0.5" cy="0.5" r="0.5"><stop offset="0" stop-color="#0e500e" stop-opacity="0.45"/><stop offset="1" stop-color="#0a400a" stop-opacity="0"/></radialGradient></defs>
<clipPath id="c21"><rect x="7" y="175" width="100" height="86"/></clipPath>
<g clip-path="url(#c21)">
<rect x="7" y="175" width="100" height="86" fill="#003030"/>
<g filter="url(#soft2)" fill="none" stroke-linecap="square"><path d="M23.5 234.3h0M57.5 256.4h0M95.3 196.0h0M64.4 206.3h0M31.1 197.7h0" stroke="#004a4a" stroke-width="2.0"/><path d="M91.3 260.1h0M22.1 232.2h0M70.6 214.3h0M84.6 236.9h0M56.9 235.3h0M24.3 224.3h0M95.8 214.6h0M27.4 190.5h0M76.7 218.9h0M63.9 246.2h0" stroke="#002424" stroke-width="1.8"/><path d="M57.5 195.3h0M25.8 257.6h0M41.5 188.3h0M45.9 243.9h0" stroke="#004646" stroke-width="1.0"/><path d="M100.3 211.8h0M81.2 214.8h0M80.4 214.5h0M69.9 185.5h0M27.5 188.8h0M91.7 228.5h0M60.3 179.4h0M91.8 223.4h0M37.7 236.9h0" stroke="#002424" stroke-width="1.2"/><path d="M99.1 234.7h0M68.6 177.9h0M52.3 222.5h0M43.5 213.8h0M95.1 226.7h0M34.6 225.7h0M52.6 195.3h0M31.5 253.8h0M19.3 195.6h0M70.6 206.5h0M71.4 213.5h0M87.1 204.0h0M38.9 247.6h0M62.2 225.7h0" stroke="#004a4a" stroke-width="1.6"/><path d="M76.4 230.8h0M64.2 202.4h0M47.7 260.1h0M89.5 257.9h0M94.2 259.8h0M7.1 176.3h0" stroke="#001c1c" stroke-width="2.6"/><path d="M22.5 245.3h0M20.4 183.2h0M71.2 242.6h0M96.0 181.1h0M76.6 210.6h0M91.7 194.0h0M21.7 219.4h0" stroke="#001c1c" stroke-width="1.2"/><path d="M14.5 192.0h0M29.8 253.7h0M74.0 232.4h0M95.4 176.5h0M22.3 199.8h0M75.1 230.7h0M8.1 205.3h0M53.1 208.5h0M95.4 210.9h0M84.1 189.9h0M44.4 216.1h0" stroke="#001c1c" stroke-width="2.0"/><path d="M19.2 216.0h0M31.9 208.9h0M9.8 193.2h0M46.8 223.8h0M23.2 192.4h0M101.5 258.2h0M65.5 216.9h0M31.9 205.5h0M55.0 203.3h0M9.8 224.7h0M94.2 251.8h0M33.4 188.8h0M17.3 231.3h0M55.6 229.5h0M54.8 229.9h0" stroke="#002424" stroke-width="2.4"/><path d="M41.1 187.6h0M87.5 241.6h0M105.3 239.1h0M72.5 185.9h0M85.9 203.9h0M35.9 206.9h0M69.8 215.7h0M82.1 258.9h0" stroke="#004646" stroke-width="1.8"/><path d="M45.7 177.3h0M23.9 254.4h0M82.6 230.6h0M82.4 189.3h0M85.6 259.4h0" stroke="#004a4a" stroke-width="1.2"/><path d="M7.3 181.0h0M44.5 233.8h0M46.6 251.4h0M79.8 227.2h0M87.7 252.9h0M17.4 228.1h0M96.1 241.3h0M10.4 179.4h0" stroke="#002424" stroke-width="2.0"/><path d="M25.1 189.6h0M33.1 256.8h0M101.1 215.2h0M54.1 243.8h0M31.0 226.5h0M93.5 239.6h0M91.6 186.6h0M39.6 237.5h0M23.0 210.4h0M78.1 258.3h0M20.0 204.9h0" stroke="#004646" stroke-width="1.6"/><path d="M41.7 226.4h0M37.8 221.0h0M74.8 191.3h0M14.8 246.1h0M39.7 203.2h0M60.9 182.3h0M82.3 187.8h0M102.1 222.7h0" stroke="#001c1c" stroke-width="1.4"/><path d="M95.3 217.2h0M29.5 179.2h0M77.4 192.7h0M77.8 229.6h0M101.2 248.4h0" stroke="#002424" stroke-width="1.6"/><path d="M100.6 196.1h0M16.1 190.1h0M22.2 217.8h0M9.1 206.7h0M27.7 260.8h0M38.7 225.7h0M52.6 210.4h0M14.0 185.1h0" stroke="#004a4a" stroke-width="1.8"/><path d="M12.2 197.2h0M59.9 179.2h0M23.2 225.3h0M25.4 246.1h0M72.3 250.0h0M16.5 237.2h0" stroke="#004a4a" stroke-width="1.4"/><path d="M21.0 230.9h0M66.4 230.4h0M50.9 195.0h0M8.3 241.5h0M100.2 229.1h0M23.9 209.1h0" stroke="#004a4a" stroke-width="2.4"/><path d="M45.2 185.8h0M31.5 188.4h0M85.0 228.9h0M21.2 177.8h0M31.9 186.2h0M47.0 257.5h0M10.8 230.1h0M68.6 175.8h0M83.9 208.7h0M72.8 215.7h0M31.3 253.2h0M32.9 234.7h0" stroke="#004646" stroke-width="2.2"/><path d="M32.7 209.9h0M50.6 246.6h0M45.0 204.4h0" stroke="#002424" stroke-width="2.6"/><path d="M25.4 207.5h0M67.4 218.4h0M94.0 222.6h0M31.5 212.1h0M35.8 239.5h0M86.4 227.7h0M15.7 227.0h0M66.9 226.4h0M45.9 220.0h0" stroke="#001c1c" stroke-width="2.2"/><path d="M86.1 175.7h0M88.8 244.1h0M16.5 201.6h0M33.5 221.3h0M20.4 241.3h0M32.2 257.6h0" stroke="#001c1c" stroke-width="1.8"/><path d="M32.3 234.9h0M13.5 231.6h0M81.0 250.9h0M57.1 257.8h0M44.4 249.4h0M33.1 234.5h0M98.8 243.6h0" stroke="#001c1c" stroke-width="1.6"/><path d="M61.5 180.2h0M84.1 239.6h0M75.6 203.8h0M79.6 179.0h0M72.5 212.0h0M75.4 177.2h0M78.0 253.3h0" stroke="#004646" stroke-width="2.0"/><path d="M103.7 201.7h0M55.0 217.3h0M30.8 234.2h0M105.4 238.6h0M29.8 245.6h0M53.1 234.6h0M29.7 197.3h0M56.1 252.7h0" stroke="#002424" stroke-width="2.2"/><path d="M13.4 245.1h0M104.0 208.6h0M94.9 196.2h0M77.2 246.8h0" stroke="#004646" stroke-width="2.6"/><path d="M72.2 228.9h0M44.0 186.6h0M47.8 234.4h0M106.6 195.0h0M63.0 245.6h0M98.2 182.3h0M83.2 251.0h0M30.3 255.8h0" stroke="#004a4a" stroke-width="2.2"/><path d="M54.1 219.1h0M64.3 260.5h0M91.4 241.6h0M34.0 233.2h0M97.4 255.2h0M34.3 244.8h0M45.1 215.9h0" stroke="#001c1c" stroke-width="2.4"/><path d="M8.9 218.1h0M78.9 212.7h0M16.9 259.3h0M9.0 251.9h0M60.3 204.0h0" stroke="#004a4a" stroke-width="1.0"/><path d="M77.0 195.7h0M52.7 192.4h0M50.5 241.3h0M94.7 240.6h0M21.4 197.4h0" stroke="#002424" stroke-width="1.0"/><path d="M22.8 184.0h0M99.8 220.0h0M66.5 203.7h0M35.0 226.1h0M53.3 253.0h0M82.3 229.4h0" stroke="#004646" stroke-width="2.4"/><path d="M80.7 237.9h0M106.6 182.2h0M71.0 235.1h0M69.9 220.6h0M15.7 228.1h0" stroke="#004a4a" stroke-width="2.6"/><path d="M64.6 260.8h0M70.9 258.6h0M41.3 232.8h0M26.1 243.5h0" stroke="#002424" stroke-width="1.4"/><path d="M9.7 253.8h0M23.3 193.7h0M11.9 229.8h0M7.4 204.3h0M24.7 239.5h0M99.7 199.2h0" stroke="#004646" stroke-width="1.2"/><path d="M7.9 247.5h0M16.8 254.9h0M81.6 237.7h0M85.8 217.0h0M49.3 221.0h0M35.3 238.0h0M38.3 247.3h0M8.9 230.8h0M88.5 234.0h0" stroke="#004646" stroke-width="1.4"/><path d="M84.0 219.7h0M76.3 218.4h0M59.1 237.1h0" stroke="#001c1c" stroke-width="1.0"/></g>
<path d="M54,212 L57,210.5 L59,212.5 L62.5,212.5 L63,216 L61,219 L60,224 L57.5,226 L55,224.5 L55,220 L53.2,216 Z" fill="#001414" filter="url(#soft2)"/>
<g filter="url(#soft)" fill="none" stroke-linecap="round"><path d="M36.9 208.2h0M81.3 224.3h0" stroke="#088c8c" stroke-width="1.6" stroke-opacity="0.9"/><path d="M94.3 249.8h0M68.3 194.3h0M63.5 188.8h0M39.4 216.6h0M40.0 219.0h0M55.9 177.5h0M82.6 254.2h0M14.2 245.7h0M57.3 229.8h0" stroke="#067a7a" stroke-width="1.4" stroke-opacity="0.9"/><path d="M59.9 229.7h0M58.7 178.6h0M93.0 205.8h0M57.3 176.1h0M14.1 256.4h0M9.2 241.3h0M12.7 243.0h0" stroke="#0a9c98" stroke-width="1.6" stroke-opacity="0.6"/><path d="M40.9 222.4h0M25.4 215.1h0" stroke="#067a7a" stroke-width="1.8" stroke-opacity="0.8"/><path d="M22.7 232.9h0M57.4 202.4h0M8.8 196.2h0M19.9 252.3h0M99.4 219.3h0M56.8 194.5h0M48.4 242.8h0M76.3 228.8h0M102.3 210.6h0M58.3 249.5h0M48.7 177.9h0M11.1 237.6h0" stroke="#0a9c98" stroke-width="1.4" stroke-opacity="0.9"/><path d="M103.5 212.5h0M48.6 246.0h0M90.6 228.4h0M15.6 240.9h0M48.0 198.6h0M11.6 246.2h0M87.5 251.9h0M65.0 257.6h0" stroke="#088c8c" stroke-width="1.8" stroke-opacity="0.6"/><path d="M39.9 214.7h0M51.6 223.7h0M49.1 208.5h0M88.7 241.3h0M94.6 260.4h0" stroke="#056a6a" stroke-width="1.8" stroke-opacity="0.7"/><path d="M25.7 226.9h0M86.5 193.5h0M59.5 232.0h0M63.9 258.6h0" stroke="#088c8c" stroke-width="1.6" stroke-opacity="0.8"/><path d="M68.0 207.4h0M47.9 181.2h0M52.0 185.1h0M80.0 219.1h0M26.9 203.5h0" stroke="#067a7a" stroke-width="1.4" stroke-opacity="0.7"/><path d="M54.3 259.3h0M84.7 253.9h0M87.5 200.9h0M36.1 214.3h0M75.3 196.5h0" stroke="#067a7a" stroke-width="1.4" stroke-opacity="0.6"/><path d="M74.7 243.5h0M11.5 222.4h0M93.4 224.5h0M56.6 240.0h0M97.1 258.7h0M50.7 220.7h0" stroke="#067a7a" stroke-width="1.8" stroke-opacity="0.6"/><path d="M45.8 213.4h0M103.3 207.0h0M40.1 221.6h0M97.5 229.5h0M85.7 251.5h0M43.0 218.4h0M94.8 187.1h0M29.8 222.5h0" stroke="#088c8c" stroke-width="1.8" stroke-opacity="0.8"/><path d="M10.1 195.4h0M104.2 258.1h0M97.5 223.8h0M86.0 223.8h0M36.4 237.6h0" stroke="#0a9c98" stroke-width="1.6" stroke-opacity="0.5"/><path d="M46.7 228.5h0M102.1 243.6h0M8.7 234.0h0M14.6 185.2h0M100.7 188.0h0" stroke="#067a7a" stroke-width="1.6" stroke-opacity="0.7"/><path d="M85.3 233.4h0M61.0 202.4h0M71.3 214.3h0" stroke="#0a9c98" stroke-width="1.2" stroke-opacity="0.8"/><path d="M75.6 252.5h0M81.1 208.7h0M47.4 250.0h0M29.3 244.1h0" stroke="#088c8c" stroke-width="1.6" stroke-opacity="0.6"/><path d="M7.2 180.0h0M16.0 248.9h0M72.9 244.7h0M11.6 189.5h0M28.8 181.0h0M102.0 190.1h0M62.2 227.5h0M21.3 195.1h0" stroke="#056a6a" stroke-width="1.4" stroke-opacity="0.6"/><path d="M79.0 180.8h0" stroke="#056a6a" stroke-width="1.6" stroke-opacity="0.8"/><path d="M49.2 255.9h0M65.0 208.0h0M39.9 186.6h0M46.5 229.5h0M7.1 238.5h0M67.6 179.1h0" stroke="#067a7a" stroke-width="1.8" stroke-opacity="0.7"/><path d="M78.9 221.1h0M86.3 198.1h0M40.8 178.6h0M67.5 255.4h0M62.5 205.7h0M74.0 189.4h0M97.6 176.1h0" stroke="#0a9c98" stroke-width="1.6" stroke-opacity="0.8"/><path d="M49.5 183.2h0M90.4 239.7h0M64.0 238.2h0M103.8 201.0h0M94.7 251.2h0" stroke="#056a6a" stroke-width="1.8" stroke-opacity="0.5"/><path d="M40.9 258.0h0M52.0 237.0h0M19.4 220.6h0M69.8 210.6h0M106.5 202.8h0M85.0 228.2h0M28.1 221.7h0M99.3 260.5h0" stroke="#067a7a" stroke-width="1.8" stroke-opacity="0.9"/><path d="M21.4 180.2h0M84.1 255.1h0" stroke="#088c8c" stroke-width="1.2" stroke-opacity="0.8"/><path d="M98.5 226.6h0M38.0 259.7h0M52.6 198.6h0M87.3 224.1h0" stroke="#0a9c98" stroke-width="1.4" stroke-opacity="0.7"/><path d="M50.5 199.5h0M11.8 213.5h0M92.2 176.8h0M78.3 225.9h0M104.1 253.6h0M41.2 211.2h0M98.2 221.6h0M67.4 180.7h0M65.5 190.4h0" stroke="#056a6a" stroke-width="1.8" stroke-opacity="0.8"/><path d="M95.2 188.0h0M82.7 187.8h0M35.1 199.3h0M8.0 258.1h0M66.4 260.1h0" stroke="#0a9c98" stroke-width="1.8" stroke-opacity="0.5"/><path d="M72.4 250.2h0M71.3 183.6h0M55.0 241.4h0M46.0 230.3h0M93.0 180.2h0" stroke="#088c8c" stroke-width="1.8" stroke-opacity="0.5"/><path d="M101.5 256.6h0M92.9 236.2h0M105.5 216.5h0" stroke="#088c8c" stroke-width="1.8" stroke-opacity="0.7"/><path d="M87.0 198.7h0M69.4 195.0h0M54.4 180.2h0M84.6 245.3h0" stroke="#088c8c" stroke-width="1.2" stroke-opacity="0.9"/><path d="M89.6 213.4h0M106.6 198.1h0M40.7 196.2h0M62.8 183.5h0M88.3 234.7h0M15.9 234.3h0M92.2 254.7h0M94.3 240.7h0" stroke="#056a6a" stroke-width="1.6" stroke-opacity="0.6"/><path d="M99.6 225.2h0M23.5 180.4h0M38.0 216.8h0M66.7 194.4h0" stroke="#0a9c98" stroke-width="1.4" stroke-opacity="0.6"/><path d="M7.9 243.3h0M62.3 249.5h0M56.6 208.6h0M56.7 203.5h0" stroke="#088c8c" stroke-width="1.4" stroke-opacity="0.6"/><path d="M9.7 240.3h0" stroke="#0a9c98" stroke-width="1.2" stroke-opacity="0.7"/><path d="M59.7 184.4h0M64.6 256.1h0M43.4 252.7h0M102.7 255.2h0M22.3 236.1h0" stroke="#056a6a" stroke-width="1.8" stroke-opacity="0.6"/><path d="M52.3 235.6h0M54.1 227.1h0M93.1 177.3h0" stroke="#0a9c98" stroke-width="1.2" stroke-opacity="0.6"/><path d="M9.8 185.9h0M70.5 175.6h0M90.3 260.8h0" stroke="#067a7a" stroke-width="1.8" stroke-opacity="0.5"/><path d="M52.6 225.5h0M8.6 228.3h0M75.4 257.3h0" stroke="#056a6a" stroke-width="1.4" stroke-opacity="0.9"/><path d="M17.7 192.2h0M81.3 215.5h0M27.0 212.7h0M89.1 222.7h0M102.7 220.2h0" stroke="#067a7a" stroke-width="1.6" stroke-opacity="0.8"/><path d="M31.4 236.4h0M83.7 248.6h0M19.3 258.2h0M28.7 223.9h0M94.2 225.9h0" stroke="#067a7a" stroke-width="1.4" stroke-opacity="0.8"/><path d="M86.8 243.1h0M15.5 203.8h0" stroke="#088c8c" stroke-width="1.6" stroke-opacity="0.7"/><path d="M18.6 226.9h0M58.9 188.9h0M13.1 176.9h0" stroke="#088c8c" stroke-width="1.8" stroke-opacity="0.9"/><path d="M92.0 201.0h0M44.9 238.6h0M69.9 199.5h0M28.1 228.9h0" stroke="#0a9c98" stroke-width="1.8" stroke-opacity="0.6"/><path d="M7.6 244.0h0M59.6 240.7h0" stroke="#056a6a" stroke-width="1.6" stroke-opacity="0.7"/><path d="M74.6 231.0h0M82.0 228.0h0M96.7 232.1h0M90.1 220.6h0M84.1 255.8h0" stroke="#056a6a" stroke-width="1.8" stroke-opacity="0.9"/><path d="M73.7 204.1h0M15.7 258.3h0M86.7 215.8h0M54.4 241.7h0M96.4 213.3h0M83.9 184.4h0" stroke="#0a9c98" stroke-width="1.8" stroke-opacity="0.7"/><path d="M61.5 182.7h0M42.8 255.1h0M100.2 182.6h0" stroke="#0a9c98" stroke-width="1.4" stroke-opacity="0.8"/><path d="M89.8 204.6h0M62.5 256.2h0M76.2 220.4h0M9.4 213.9h0" stroke="#056a6a" stroke-width="1.4" stroke-opacity="0.8"/><path d="M87.6 246.2h0M22.7 247.7h0M42.7 241.5h0" stroke="#067a7a" stroke-width="1.6" stroke-opacity="0.5"/><path d="M106.6 181.1h0M19.1 220.4h0M85.4 190.0h0" stroke="#056a6a" stroke-width="1.6" stroke-opacity="0.9"/><path d="M92.9 181.5h0M13.2 237.6h0M98.2 241.0h0" stroke="#0a9c98" stroke-width="1.8" stroke-opacity="0.8"/><path d="M44.9 251.2h0M53.2 206.4h0M39.7 202.9h0" stroke="#056a6a" stroke-width="1.2" stroke-opacity="0.5"/><path d="M94.7 211.6h0M29.1 236.9h0" stroke="#088c8c" stroke-width="1.4" stroke-opacity="0.5"/><path d="M29.3 182.7h0M10.8 202.3h0" stroke="#056a6a" stroke-width="1.2" stroke-opacity="0.6"/><path d="M103.5 189.7h0M106.5 235.3h0M48.2 257.8h0M11.4 195.0h0M62.2 198.3h0M76.4 194.5h0M53.5 196.9h0" stroke="#088c8c" stroke-width="1.4" stroke-opacity="0.9"/><path d="M65.0 253.6h0M85.0 214.8h0" stroke="#056a6a" stroke-width="1.6" stroke-opacity="0.5"/><path d="M74.7 185.5h0M73.7 226.6h0" stroke="#0a9c98" stroke-width="1.6" stroke-opacity="0.7"/><path d="M31.3 209.0h0M87.3 255.8h0" stroke="#056a6a" stroke-width="1.2" stroke-opacity="0.7"/><path d="M47.6 247.3h0" stroke="#056a6a" stroke-width="1.2" stroke-opacity="0.8"/><path d="M79.5 234.8h0M80.9 219.9h0M48.1 202.7h0M79.0 214.8h0M91.4 238.0h0M45.2 182.2h0" stroke="#0a9c98" stroke-width="1.6" stroke-opacity="0.9"/><path d="M50.5 204.5h0M65.9 181.5h0M86.9 238.5h0M75.6 240.6h0" stroke="#056a6a" stroke-width="1.4" stroke-opacity="0.5"/><path d="M22.0 202.3h0M48.4 229.3h0" stroke="#088c8c" stroke-width="1.2" stroke-opacity="0.6"/><path d="M78.7 240.2h0M97.8 193.8h0M44.2 213.9h0M58.2 200.2h0" stroke="#067a7a" stroke-width="1.6" stroke-opacity="0.9"/><path d="M106.0 192.4h0M13.2 225.6h0" stroke="#088c8c" stroke-width="1.6" stroke-opacity="0.5"/><path d="M92.1 198.1h0M57.9 205.0h0" stroke="#056a6a" stroke-width="1.4" stroke-opacity="0.7"/><path d="M17.4 198.4h0M77.4 246.2h0M8.2 235.0h0" stroke="#067a7a" stroke-width="1.4" stroke-opacity="0.5"/><path d="M87.2 198.4h0M33.8 248.6h0M26.1 191.2h0" stroke="#067a7a" stroke-width="1.6" stroke-opacity="0.6"/><path d="M85.4 215.5h0M100.0 238.9h0M74.4 244.4h0" stroke="#0a9c98" stroke-width="1.2" stroke-opacity="0.9"/><path d="M20.9 258.1h0" stroke="#067a7a" stroke-width="1.2" stroke-opacity="0.9"/><path d="M74.5 256.6h0M70.4 200.9h0M47.2 209.0h0" stroke="#0a9c98" stroke-width="1.8" stroke-opacity="0.9"/><path d="M102.4 187.1h0" stroke="#0a9c98" stroke-width="1.4" stroke-opacity="0.5"/><path d="M100.0 205.0h0" stroke="#088c8c" stroke-width="1.2" stroke-opacity="0.7"/><path d="M44.2 229.7h0" stroke="#056a6a" stroke-width="1.2" stroke-opacity="0.9"/><path d="M41.0 252.4h0" stroke="#088c8c" stroke-width="1.2" stroke-opacity="0.5"/><path d="M63.0 226.4h0" stroke="#067a7a" stroke-width="1.2" stroke-opacity="0.7"/><path d="M52.3 247.4h0" stroke="#088c8c" stroke-width="1.4" stroke-opacity="0.8"/><path d="M24.8 218.0h0M75.9 248.8h0" stroke="#12d4cc" stroke-width="1.6"/><path d="M99.9 192.6h0M14.9 181.7h0M67.3 197.1h0M51.9 193.1h0" stroke="#0cc0b8" stroke-width="2.0" stroke-opacity="0.8"/><path d="M87.4 242.9h0M100.5 200.0h0M24.5 200.3h0M76.3 178.6h0" stroke="#1ae4dc" stroke-width="1.8" stroke-opacity="0.7"/><path d="M65.8 225.9h0M55.4 244.3h0" stroke="#1ae4dc" stroke-width="2.0" stroke-opacity="0.6"/><path d="M71.0 219.5h0" stroke="#1ae4dc" stroke-width="2.0"/><path d="M58.1 234.5h0M70.3 254.1h0M47.9 238.1h0M51.6 200.3h0M68.8 220.0h0" stroke="#0cc0b8" stroke-width="1.4" stroke-opacity="0.8"/><path d="M47.0 233.7h0M88.9 176.6h0M27.7 205.7h0" stroke="#12d4cc" stroke-width="1.6" stroke-opacity="0.6"/><path d="M26.4 215.7h0M20.1 184.5h0M42.0 252.8h0" stroke="#0cc0b8" stroke-width="1.6" stroke-opacity="0.8"/><path d="M71.6 183.0h0M35.3 185.3h0M80.7 203.5h0" stroke="#12d4cc" stroke-width="2.0" stroke-opacity="0.6"/><path d="M42.0 183.0h0M71.5 246.0h0" stroke="#0cc0b8" stroke-width="1.4" stroke-opacity="0.7"/><path d="M73.5 257.0h0M78.8 179.2h0" stroke="#1ae4dc" stroke-width="1.4"/><path d="M78.4 260.3h0M29.0 222.1h0" stroke="#12d4cc" stroke-width="2.0" stroke-opacity="0.8"/><path d="M94.6 192.0h0M48.2 244.6h0M97.4 257.8h0M58.5 255.7h0" stroke="#12d4cc" stroke-width="1.6" stroke-opacity="0.9"/><path d="M69.2 196.8h0M28.0 181.7h0M42.9 197.4h0M91.1 254.6h0M9.6 224.6h0" stroke="#12d4cc" stroke-width="1.8" stroke-opacity="0.6"/><path d="M51.9 188.6h0M85.7 178.2h0M79.8 212.9h0M88.1 245.5h0" stroke="#0cc0b8" stroke-width="1.6" stroke-opacity="0.7"/><path d="M85.9 251.8h0M99.5 222.8h0" stroke="#12d4cc" stroke-width="1.4" stroke-opacity="0.9"/><path d="M83.3 250.2h0" stroke="#12d4cc" stroke-width="1.6" stroke-opacity="0.8"/><path d="M45.3 246.9h0" stroke="#0cc0b8" stroke-width="2.0" stroke-opacity="0.7"/><path d="M104.0 215.9h0M35.8 254.8h0M41.4 207.6h0" stroke="#12d4cc" stroke-width="2.0" stroke-opacity="0.9"/><path d="M20.2 210.9h0" stroke="#0cc0b8" stroke-width="2.0" stroke-opacity="0.6"/><path d="M44.7 260.1h0M81.8 225.6h0M81.8 186.0h0" stroke="#12d4cc" stroke-width="1.8" stroke-opacity="0.9"/><path d="M15.7 219.8h0" stroke="#1ae4dc" stroke-width="1.8" stroke-opacity="0.9"/><path d="M66.0 218.8h0" stroke="#1ae4dc" stroke-width="1.4" stroke-opacity="0.7"/><path d="M17.5 249.1h0M71.5 178.2h0" stroke="#0cc0b8" stroke-width="1.8" stroke-opacity="0.8"/><path d="M90.5 206.5h0M69.5 236.8h0M72.2 175.6h0" stroke="#1ae4dc" stroke-width="1.6" stroke-opacity="0.8"/><path d="M52.7 188.1h0M12.1 210.0h0" stroke="#12d4cc" stroke-width="1.8"/><path d="M105.0 218.0h0M95.8 240.5h0" stroke="#0cc0b8" stroke-width="1.6" stroke-opacity="0.9"/><path d="M24.2 253.1h0M23.9 177.6h0M81.3 248.2h0" stroke="#1ae4dc" stroke-width="1.6"/><path d="M82.3 231.2h0M74.2 236.3h0" stroke="#0cc0b8" stroke-width="1.8" stroke-opacity="0.7"/><path d="M73.4 184.5h0M79.7 221.4h0" stroke="#1ae4dc" stroke-width="1.6" stroke-opacity="0.7"/><path d="M59.3 198.2h0M15.9 235.2h0M31.9 235.8h0M100.9 213.7h0M86.9 252.8h0" stroke="#1ae4dc" stroke-width="2.0" stroke-opacity="0.8"/><path d="M30.8 191.5h0" stroke="#0cc0b8" stroke-width="1.8" stroke-opacity="0.9"/><path d="M66.0 211.9h0" stroke="#1ae4dc" stroke-width="1.6" stroke-opacity="0.9"/><path d="M17.8 228.5h0" stroke="#1ae4dc" stroke-width="1.4" stroke-opacity="0.9"/><path d="M87.4 251.3h0" stroke="#1ae4dc" stroke-width="2.0" stroke-opacity="0.7"/><path d="M54.3 205.5h0M87.5 204.5h0" stroke="#12d4cc" stroke-width="2.0" stroke-opacity="0.7"/><path d="M55.1 244.3h0" stroke="#1ae4dc" stroke-width="2.0" stroke-opacity="0.9"/><path d="M71.3 235.6h0" stroke="#0cc0b8" stroke-width="1.6"/><path d="M93.8 180.6h0" stroke="#12d4cc" stroke-width="1.6" stroke-opacity="0.7"/><path d="M44.8 206.8h0M35.6 203.5h0" stroke="#0cc0b8" stroke-width="1.4" stroke-opacity="0.9"/><path d="M60.0 199.6h0" stroke="#1ae4dc" stroke-width="1.8" stroke-opacity="0.8"/><path d="M64.7 182.5h0" stroke="#12d4cc" stroke-width="1.4" stroke-opacity="0.7"/><path d="M101.0 220.7h0" stroke="#0cc0b8" stroke-width="1.8" stroke-opacity="0.6"/><path d="M40.6 242.2h0" stroke="#1ae4dc" stroke-width="1.6" stroke-opacity="0.6"/><path d="M64.7 229.8h0" stroke="#1ae4dc" stroke-width="1.8"/><path d="M50.4 248.9h0M35.9 185.0h0" stroke="#0cc0b8" stroke-width="1.4"/><path d="M27.8 184.5h0" stroke="#0cc0b8" stroke-width="2.0" stroke-opacity="0.9"/><path d="M35.6 206.0h0" stroke="#0cc0b8" stroke-width="1.8"/></g>
<rect x="7.4" y="175.5" width="99.2" height="85" fill="none" stroke="#000" stroke-opacity="0.55" stroke-width="0.9"/>
</g>
<clipPath id="c22"><rect x="107.6" y="175" width="99.4" height="86"/></clipPath>
<g clip-path="url(#c22)">
<rect x="107.6" y="175" width="99.4" height="86" fill="#003333"/>
<g filter="url(#soft2)" fill="none" stroke-linecap="square"><path d="M202.8 187.1h0M157.2 226.9h0M193.5 245.3h0M168.6 206.2h0M206.4 177.8h0M184.5 211.4h0M201.4 237.0h0" stroke="#004a4a" stroke-width="1.0"/><path d="M125.9 185.4h0M138.1 207.1h0M197.2 243.9h0M182.5 181.8h0M207.0 205.0h0M142.3 216.2h0M131.0 206.2h0" stroke="#004646" stroke-width="2.0"/><path d="M186.4 181.9h0M172.8 183.7h0M125.2 181.6h0M175.1 175.3h0M171.6 198.3h0M165.6 246.8h0M180.3 242.8h0M138.6 175.4h0M111.9 198.1h0M126.5 209.0h0" stroke="#001c1c" stroke-width="1.4"/><path d="M139.4 226.7h0M135.2 188.7h0M188.8 202.1h0M182.6 206.2h0M113.2 237.5h0M178.0 231.3h0M170.4 252.9h0M142.8 245.5h0" stroke="#004a4a" stroke-width="2.4"/><path d="M178.0 179.2h0M168.1 184.2h0M170.2 176.8h0M199.7 219.0h0M203.0 204.1h0M193.3 201.7h0M149.3 259.9h0M151.3 223.4h0M195.4 216.1h0" stroke="#004646" stroke-width="2.4"/><path d="M138.5 191.4h0M111.4 207.5h0M157.2 204.5h0M130.3 190.5h0M159.1 233.7h0M168.5 205.0h0" stroke="#001c1c" stroke-width="2.4"/><path d="M177.0 227.7h0M122.5 231.6h0M176.4 212.4h0M160.3 182.8h0M205.2 217.6h0M143.3 228.5h0" stroke="#004a4a" stroke-width="1.4"/><path d="M138.7 242.2h0M176.8 245.3h0M131.2 180.5h0M138.5 223.0h0M171.0 257.2h0" stroke="#002424" stroke-width="2.6"/><path d="M135.4 198.3h0M118.9 216.3h0M181.0 213.6h0M174.0 213.8h0M178.6 179.3h0" stroke="#004a4a" stroke-width="2.2"/><path d="M112.5 220.7h0M199.6 200.7h0M158.1 224.9h0M155.7 243.6h0M169.8 179.9h0" stroke="#004646" stroke-width="1.0"/><path d="M157.9 219.5h0M123.5 199.5h0M165.3 194.6h0M201.8 227.3h0M122.4 248.2h0M111.3 176.9h0" stroke="#002424" stroke-width="1.6"/><path d="M164.8 223.3h0M175.7 242.6h0M188.8 216.8h0M116.3 205.4h0M148.0 195.9h0M160.3 183.0h0M200.3 252.3h0M171.9 196.4h0M166.7 246.0h0M107.6 229.5h0M127.3 210.1h0" stroke="#004a4a" stroke-width="1.8"/><path d="M116.4 260.7h0M114.5 204.2h0M150.7 221.3h0M114.2 246.1h0M108.5 197.1h0" stroke="#004a4a" stroke-width="1.6"/><path d="M185.3 180.0h0M196.0 184.7h0M170.4 259.8h0M118.8 253.0h0M175.8 184.9h0M184.7 235.4h0M158.3 179.1h0" stroke="#002424" stroke-width="2.4"/><path d="M158.5 209.5h0M169.1 209.6h0M177.8 197.5h0M112.4 199.8h0M187.1 207.2h0M194.9 230.3h0" stroke="#002424" stroke-width="1.2"/><path d="M124.6 222.0h0M124.6 234.5h0M151.6 212.0h0M200.9 253.2h0M187.9 232.7h0M175.8 221.3h0M198.4 233.7h0M201.5 219.8h0M133.0 239.9h0M159.7 251.5h0" stroke="#004646" stroke-width="1.6"/><path d="M198.0 229.1h0M189.9 254.2h0M206.3 221.0h0M193.5 226.5h0M159.8 251.0h0M193.9 209.8h0M164.3 244.2h0M135.8 190.8h0M203.7 189.2h0M130.2 218.3h0M160.6 213.3h0M147.8 261.0h0M173.5 197.2h0" stroke="#001c1c" stroke-width="1.8"/><path d="M160.8 243.4h0M168.8 232.5h0M182.7 211.1h0M169.9 254.5h0M118.6 220.0h0M178.7 190.7h0M115.3 243.1h0M115.9 230.4h0" stroke="#002424" stroke-width="2.0"/><path d="M157.2 220.1h0M161.1 259.8h0M118.2 211.7h0M170.4 230.5h0M160.7 175.7h0" stroke="#004a4a" stroke-width="2.0"/><path d="M154.9 180.7h0M139.6 233.1h0M186.5 210.5h0M155.7 256.5h0M111.6 229.5h0M200.1 250.6h0M194.1 214.8h0M199.8 194.4h0M109.6 189.3h0" stroke="#001c1c" stroke-width="2.2"/><path d="M189.1 227.3h0M153.4 244.4h0M161.1 188.6h0M197.4 237.6h0" stroke="#001c1c" stroke-width="2.6"/><path d="M126.2 205.1h0M152.5 208.1h0M149.4 246.7h0M159.5 179.1h0M200.1 200.1h0M148.7 246.6h0M141.2 193.6h0M140.3 228.2h0M145.9 222.8h0M205.5 207.4h0M151.8 236.8h0M116.7 184.7h0" stroke="#001c1c" stroke-width="1.2"/><path d="M125.6 198.8h0M176.0 255.5h0M200.4 261.0h0M137.2 198.9h0M145.2 209.4h0M196.6 202.5h0M205.6 260.3h0M128.2 260.9h0M144.4 255.5h0M206.3 209.2h0M151.2 186.5h0" stroke="#004a4a" stroke-width="1.2"/><path d="M128.0 239.8h0M120.8 181.0h0M130.8 185.9h0M144.1 176.5h0M109.7 200.4h0" stroke="#001c1c" stroke-width="2.0"/><path d="M182.2 236.8h0M123.3 255.9h0M200.1 209.6h0M131.2 254.2h0M177.6 175.8h0M183.5 200.6h0M148.5 240.7h0M178.2 231.0h0" stroke="#002424" stroke-width="1.8"/><path d="M125.3 257.7h0M116.1 254.2h0M169.9 203.8h0M130.6 244.1h0M190.0 185.1h0M125.0 197.7h0M140.0 197.9h0M145.6 259.6h0M127.9 226.1h0M191.3 216.7h0M139.6 246.9h0" stroke="#001c1c" stroke-width="1.6"/><path d="M177.2 198.8h0M116.8 245.7h0M133.6 249.7h0M172.3 184.3h0M148.6 233.2h0M156.6 260.9h0M170.4 220.7h0M111.9 249.3h0M140.2 230.8h0M132.1 237.8h0M120.4 226.0h0M165.2 212.2h0" stroke="#002424" stroke-width="2.2"/><path d="M135.3 247.6h0M161.0 225.4h0M164.2 227.8h0M113.1 221.5h0M162.7 205.5h0M124.6 203.3h0" stroke="#004646" stroke-width="1.4"/><path d="M146.0 231.4h0M197.4 214.9h0M151.8 197.1h0M192.6 208.4h0M133.1 185.5h0M205.5 245.3h0M161.7 237.1h0M169.7 232.9h0M192.9 213.5h0M174.5 191.2h0" stroke="#002424" stroke-width="1.4"/><path d="M159.1 258.4h0M117.4 180.7h0M126.4 208.6h0M127.4 193.2h0M132.3 241.0h0M171.8 233.0h0" stroke="#004646" stroke-width="1.2"/><path d="M118.9 218.6h0M128.6 238.1h0M149.2 241.1h0M126.4 183.0h0M200.4 176.7h0M128.9 183.1h0" stroke="#001c1c" stroke-width="1.0"/><path d="M188.4 201.4h0M167.4 195.6h0M203.6 186.9h0M147.0 183.8h0M125.1 182.2h0M191.3 190.2h0M195.7 230.1h0" stroke="#004646" stroke-width="1.8"/><path d="M108.9 189.2h0M124.2 224.4h0M150.5 246.4h0" stroke="#004646" stroke-width="2.6"/><path d="M133.5 240.2h0M138.1 232.1h0M134.5 181.2h0M180.6 182.8h0M123.0 243.3h0M168.8 255.6h0M175.3 242.7h0M184.8 244.3h0M193.6 244.7h0" stroke="#004646" stroke-width="2.2"/><path d="M138.7 246.3h0" stroke="#004a4a" stroke-width="2.6"/><path d="M196.2 260.4h0" stroke="#002424" stroke-width="1.0"/></g>
<path d="M146,204 Q152,203 157,206 L160,212 L159,220 L156,223 L154,216 Q150,209 146,207 Z" fill="#001a1a" opacity="0.85" filter="url(#soft2)"/>
<g filter="url(#soft)" fill="none" stroke-linecap="round"><path d="M197.4 185.3L197.8 185.5M206.6 204.6L206.9 205.5M137.4 191.5L137.9 191.0M120.6 219.7L120.3 219.3" stroke="#0a9c98" stroke-width="1.8" stroke-opacity="0.7"/><path d="M133.9 203.4L134.3 202.8M180.2 180.2L180.5 180.4M136.0 192.2L136.2 192.1M132.3 258.5L131.5 258.5M173.9 256.9L173.1 257.0" stroke="#088c8c" stroke-width="1.4" stroke-opacity="0.5"/><path d="M162.1 248.6L161.6 248.6M175.5 247.6L175.1 248.1M118.1 191.4L118.3 191.3M190.8 213.7L191.0 214.6M152.1 246.8L151.5 246.8" stroke="#056a6a" stroke-width="1.6" stroke-opacity="0.9"/><path d="M163.8 207.2L164.0 207.7M166.0 228.0L165.2 228.3M120.7 256.1L120.3 255.8M137.4 248.1L136.5 248.3M160.6 185.6L161.1 185.9M120.7 255.2L120.5 254.9M203.2 249.4L203.1 249.8M147.6 188.6L148.2 187.7" stroke="#056a6a" stroke-width="1.8" stroke-opacity="0.6"/><path d="M135.7 236.6L135.2 236.2M140.4 241.6L139.9 241.0M143.3 222.7L142.9 222.0M161.8 245.4L161.0 245.7M182.5 218.3L182.4 218.6M161.4 254.0L161.3 254.3" stroke="#056a6a" stroke-width="1.6" stroke-opacity="0.6"/><path d="M170.6 229.1L170.4 229.7M204.7 179.6L205.0 180.2M148.1 186.7L148.9 186.3M121.6 188.2L121.5 187.9M147.2 233.4L146.3 233.1M127.6 195.9L128.1 195.4M146.5 212.9L146.9 212.2M162.9 248.5L162.1 248.2M173.6 252.8L172.9 252.9M131.6 202.4L132.3 201.9" stroke="#088c8c" stroke-width="1.6" stroke-opacity="0.8"/><path d="M109.7 255.0L109.4 254.5M181.6 200.9L181.8 201.1M149.2 260.7L148.7 260.6M112.1 197.8L112.1 197.2" stroke="#056a6a" stroke-width="1.6" stroke-opacity="0.5"/><path d="M191.1 222.7L190.3 223.3M165.2 199.5L165.5 199.6M109.1 203.2L109.0 202.2M121.3 183.6L121.5 183.4M146.1 234.1L145.6 233.9M150.0 240.6L149.3 240.6M161.0 208.1L161.5 208.2M143.1 227.9L142.4 227.5M206.1 243.1L205.6 243.7M194.3 255.3L193.9 255.5M173.7 218.7L173.3 219.3M187.3 198.5L187.5 198.8" stroke="#067a7a" stroke-width="1.4" stroke-opacity="0.7"/><path d="M175.7 211.7L175.7 211.9M138.6 258.9L138.4 258.7M188.2 229.6L187.6 230.0" stroke="#056a6a" stroke-width="1.2" stroke-opacity="0.8"/><path d="M141.1 191.9L141.5 191.5M126.6 203.9L127.0 203.2M129.8 175.6L129.8 174.6" stroke="#088c8c" stroke-width="1.8" stroke-opacity="0.8"/><path d="M168.4 208.4L168.8 208.2M124.3 260.7L123.7 260.1M110.3 222.2L109.8 221.5M108.8 256.8L108.3 256.1M152.3 234.6L151.8 234.4M203.0 198.8L203.4 199.6M169.9 240.8L168.9 240.8" stroke="#0a9c98" stroke-width="1.6" stroke-opacity="0.5"/><path d="M144.5 238.9L144.1 239.0M196.9 251.3L196.5 252.1M175.0 182.3L175.7 183.0M191.6 211.2L192.0 211.9M178.6 214.8L178.0 215.5M175.8 220.4L175.4 220.8M113.4 188.6L113.9 188.4" stroke="#067a7a" stroke-width="1.6" stroke-opacity="0.8"/><path d="M122.3 228.2L122.5 227.8M129.3 238.4L129.6 238.1M127.9 247.8L127.1 247.4M178.4 226.6L178.3 226.7M181.8 234.4L181.8 235.2" stroke="#088c8c" stroke-width="1.8" stroke-opacity="0.9"/><path d="M139.4 234.9L139.0 234.9M188.0 197.7L188.2 198.1M145.9 216.4L145.6 215.5M198.3 232.9L198.1 233.0M118.7 257.2L118.2 257.1" stroke="#056a6a" stroke-width="1.4" stroke-opacity="0.5"/><path d="M108.6 256.5L108.3 256.0M126.5 187.4L127.2 187.0" stroke="#088c8c" stroke-width="1.2" stroke-opacity="0.6"/><path d="M165.9 226.3L166.2 227.0M136.0 241.8L135.6 241.5M123.6 249.3L123.8 248.5" stroke="#067a7a" stroke-width="1.8" stroke-opacity="0.5"/><path d="M153.3 178.9L153.7 178.9M161.5 243.7L161.1 243.6M156.3 190.7L157.1 190.6M161.6 223.7L161.2 223.8M192.4 200.3L192.5 200.4M173.5 228.7L173.1 229.6" stroke="#067a7a" stroke-width="1.8" stroke-opacity="0.7"/><path d="M129.0 256.0L128.7 255.6M193.1 228.0L192.3 228.3M194.0 180.1L194.2 181.0M204.0 252.3L203.7 253.1" stroke="#067a7a" stroke-width="1.4" stroke-opacity="0.9"/><path d="M189.4 213.4L189.5 214.3M124.6 252.5L124.2 252.4M130.0 249.8L129.6 249.8M117.4 203.8L117.8 202.9" stroke="#067a7a" stroke-width="1.2" stroke-opacity="0.9"/><path d="M119.1 251.9L118.7 251.0M143.0 251.4L142.6 251.1M156.4 233.7L155.4 233.5M205.6 243.7L205.6 244.3M199.1 175.7L199.3 176.0M203.9 254.3L203.9 254.9M177.7 177.3L178.5 177.5" stroke="#067a7a" stroke-width="1.6" stroke-opacity="0.7"/><path d="M124.5 176.5L125.3 176.3M144.3 198.6L144.8 198.4M201.7 190.4L201.9 190.7M193.4 211.3L193.5 211.9M136.5 259.0L136.0 258.8M160.0 187.5L160.3 187.3M179.5 213.9L180.3 214.5M154.0 259.8L153.5 259.8" stroke="#056a6a" stroke-width="1.6" stroke-opacity="0.8"/><path d="M194.8 220.3L195.3 221.2M108.9 178.3L109.3 177.8M111.4 250.0L111.0 249.8M203.4 209.7L203.3 210.5M124.4 225.8L124.4 224.9" stroke="#067a7a" stroke-width="1.4" stroke-opacity="0.8"/><path d="M124.4 251.4L123.9 251.2M123.1 212.5L122.9 212.0M108.1 228.9L108.1 228.1M138.0 193.0L138.6 192.7M137.4 192.4L137.2 191.7M112.8 231.9L112.6 231.7M132.1 180.7L132.8 180.8" stroke="#0a9c98" stroke-width="1.8" stroke-opacity="0.6"/><path d="M156.6 210.7L157.3 210.6M156.6 251.2L156.3 251.0M190.6 213.5L190.3 214.2M128.2 206.1L128.1 205.1M169.8 238.4L169.6 238.5M129.9 177.4L130.5 176.8M166.8 229.6L166.4 230.3" stroke="#056a6a" stroke-width="1.4" stroke-opacity="0.6"/><path d="M150.7 229.9L150.2 229.6M189.4 181.8L189.5 182.8M174.4 248.9L173.6 249.1" stroke="#056a6a" stroke-width="1.6" stroke-opacity="0.7"/><path d="M196.8 178.5L197.5 179.1M180.0 186.0L180.6 186.0M129.5 216.3L129.3 215.7M161.8 215.7L161.6 216.0M204.0 209.3L203.8 209.5M182.3 257.4L181.4 257.5M117.0 230.6L116.8 230.3M117.1 220.8L117.2 220.6" stroke="#056a6a" stroke-width="1.4" stroke-opacity="0.8"/><path d="M134.9 200.0L135.0 199.8M181.3 196.3L181.8 196.6M183.1 199.1L183.5 199.2M132.3 235.9L131.9 235.5M156.2 216.3L155.8 215.6M110.2 199.9L110.3 199.5" stroke="#056a6a" stroke-width="1.8" stroke-opacity="0.9"/><path d="M150.5 260.1L150.1 260.1M143.4 217.7L143.2 217.4M197.7 229.7L197.6 230.0M134.0 246.8L133.9 246.7M170.1 218.0L170.0 218.7M174.6 226.5L173.8 226.6M198.1 179.1L198.8 179.6M171.2 202.6L171.9 203.1" stroke="#0a9c98" stroke-width="1.4" stroke-opacity="0.8"/><path d="M113.1 229.9L112.8 229.2M163.9 176.9L164.2 176.7M114.5 249.8L113.9 249.2M194.8 240.4L194.2 241.0M149.9 251.9L149.6 252.0M188.6 211.8L188.6 212.1M139.5 239.7L139.2 239.6" stroke="#056a6a" stroke-width="1.4" stroke-opacity="0.7"/><path d="M118.7 191.6L119.0 191.2M186.2 179.1L186.9 179.7M132.8 176.8L133.1 176.6M152.1 255.3L151.2 255.5M131.9 192.1L132.1 192.0" stroke="#088c8c" stroke-width="1.4" stroke-opacity="0.6"/><path d="M184.3 180.1L184.5 180.5M128.0 256.2L127.9 255.9M162.8 251.2L162.4 251.0M128.4 204.0L128.6 203.6M154.0 222.7L153.5 222.7M113.5 192.1L113.5 191.7M158.4 188.2L158.8 188.1" stroke="#056a6a" stroke-width="1.8" stroke-opacity="0.7"/><path d="M181.9 199.7L182.2 200.1M148.7 182.4L149.4 182.0M133.6 222.8L133.6 222.0M130.6 249.6L130.2 249.1M111.9 202.7L111.4 202.0M192.0 232.8L192.1 233.1M140.7 181.9L141.1 181.7" stroke="#0a9c98" stroke-width="1.6" stroke-opacity="0.9"/><path d="M134.6 223.3L134.6 223.1M182.0 184.6L182.8 184.9M172.3 222.7L171.9 223.2M118.9 227.1L118.7 226.7M136.6 258.7L136.0 258.5M173.0 259.2L172.7 259.2M131.5 193.1L131.7 192.9" stroke="#067a7a" stroke-width="1.8" stroke-opacity="0.8"/><path d="M112.3 230.3L112.3 229.5M170.8 231.3L170.3 231.8M139.2 251.9L138.6 251.8M192.2 191.6L192.7 192.3M111.0 190.2L111.1 189.7M166.0 245.5L165.6 245.7" stroke="#067a7a" stroke-width="1.6" stroke-opacity="0.9"/><path d="M199.1 184.8L199.4 184.9M170.5 192.4L171.3 192.7M182.3 255.1L181.6 255.1M164.7 216.1L164.6 216.9M115.6 202.4L116.4 202.0M200.0 250.7L199.8 251.0M192.4 250.2L192.3 250.4M205.2 243.3L205.5 243.9M131.9 250.6L131.6 250.5" stroke="#0a9c98" stroke-width="1.8" stroke-opacity="0.9"/><path d="M190.3 239.3L190.2 240.2M139.2 255.2L138.8 254.9M170.1 194.4L170.4 194.5M142.4 231.2L142.3 230.6M162.3 242.7L162.0 243.1M143.5 248.0L143.5 247.7M146.7 259.3L146.1 259.1M137.0 190.8L137.3 190.6" stroke="#0a9c98" stroke-width="1.6" stroke-opacity="0.8"/><path d="M189.5 257.4L189.3 257.5M165.1 254.4L164.5 254.2" stroke="#067a7a" stroke-width="1.2" stroke-opacity="0.7"/><path d="M179.8 253.7L179.3 253.8M123.1 210.6L123.1 210.0M114.2 221.9L113.7 221.3M197.8 250.8L197.7 251.1M118.1 247.8L118.0 247.3M197.8 242.6L197.6 243.1" stroke="#0a9c98" stroke-width="1.2" stroke-opacity="0.7"/><path d="M134.5 225.6L134.4 225.3M182.3 249.5L181.6 249.4M166.9 211.2L166.6 212.1M146.2 192.8L146.7 193.0M189.8 216.4L189.2 217.0M171.6 210.5L171.8 211.4M184.1 252.4L183.7 252.5" stroke="#067a7a" stroke-width="1.6" stroke-opacity="0.6"/><path d="M167.3 230.7L166.9 231.0M108.3 225.9L107.8 225.4M192.9 198.8L192.2 199.5M197.3 204.8L197.5 205.1M173.8 222.3L173.4 222.8M161.8 222.3L161.6 222.3M174.2 232.6L173.3 232.7" stroke="#088c8c" stroke-width="1.6" stroke-opacity="0.7"/><path d="M171.8 197.8L172.0 198.1M182.8 205.4L182.9 206.3M198.2 250.3L197.9 250.9" stroke="#088c8c" stroke-width="1.8" stroke-opacity="0.7"/><path d="M166.5 183.2L167.0 183.4M188.2 188.0L188.4 188.2M185.5 175.7L185.8 175.9" stroke="#088c8c" stroke-width="1.4" stroke-opacity="0.9"/><path d="M152.7 191.5L152.9 191.4M191.3 190.3L191.5 191.1M169.4 184.0L170.1 184.1M118.5 197.8L118.5 197.1" stroke="#056a6a" stroke-width="1.8" stroke-opacity="0.8"/><path d="M153.8 255.8L153.5 255.9M189.9 231.6L189.5 232.3M192.9 260.5L192.5 261.3M111.4 248.0L111.5 247.0M127.6 245.1L127.0 244.8M186.4 235.1L185.7 235.2" stroke="#067a7a" stroke-width="1.8" stroke-opacity="0.9"/><path d="M153.9 192.6L154.3 192.5M206.1 248.1L205.7 248.8M116.2 242.9L116.2 242.1M168.8 249.3L168.1 249.6M206.2 222.5L206.2 222.8M132.3 182.4L132.7 182.2" stroke="#0a9c98" stroke-width="1.6" stroke-opacity="0.6"/><path d="M191.1 229.8L191.2 230.1M179.3 245.8L179.0 245.9M180.9 175.7L181.7 175.9" stroke="#088c8c" stroke-width="1.8" stroke-opacity="0.6"/><path d="M117.6 236.3L117.5 235.9M180.1 193.5L180.3 193.4M192.0 178.0L192.8 178.0M134.8 202.3L134.6 201.9M146.6 234.9L145.9 234.2M204.5 244.5L204.1 245.0" stroke="#088c8c" stroke-width="1.2" stroke-opacity="0.8"/><path d="M192.9 257.6L192.9 258.2M126.5 242.5L126.3 242.1M171.9 251.7L171.6 251.7M119.9 198.4L120.4 197.8" stroke="#088c8c" stroke-width="1.6" stroke-opacity="0.6"/><path d="M126.2 191.5L126.4 191.2M189.8 241.8L189.0 242.5M161.2 185.5L161.9 185.8M190.7 260.5L190.4 260.7M188.9 196.1L188.8 196.2M139.7 249.3L139.1 249.4M140.1 242.1L140.0 241.9M124.3 195.8L125.0 195.5" stroke="#0a9c98" stroke-width="1.4" stroke-opacity="0.6"/><path d="M145.3 233.0L145.0 233.0M115.9 230.6L115.5 229.9" stroke="#056a6a" stroke-width="1.2" stroke-opacity="0.6"/><path d="M122.6 190.3L122.9 189.7M146.2 196.5L146.4 196.4M139.7 217.8L139.8 217.3M155.8 182.4L156.5 182.7M122.8 198.4L123.1 197.9M113.0 244.1L112.6 243.5M172.9 202.7L173.4 203.2M111.5 222.5L110.8 222.0M148.3 233.8L147.7 233.6" stroke="#067a7a" stroke-width="1.8" stroke-opacity="0.6"/><path d="M175.8 178.6L176.6 179.0M171.3 239.5L171.0 239.5M176.5 255.5L176.2 255.7M193.5 223.6L193.0 223.7M189.1 235.8L188.3 236.2" stroke="#0a9c98" stroke-width="1.2" stroke-opacity="0.9"/><path d="M175.3 177.3L175.7 177.8M184.6 204.0L184.6 204.3" stroke="#0a9c98" stroke-width="1.2" stroke-opacity="0.5"/><path d="M113.2 213.1L113.5 212.5" stroke="#067a7a" stroke-width="1.4" stroke-opacity="0.6"/><path d="M172.4 215.6L172.2 215.8M171.1 203.7L171.2 203.9M132.2 197.2L132.3 196.6M160.5 200.9L160.9 201.1" stroke="#0a9c98" stroke-width="1.8" stroke-opacity="0.8"/><path d="M137.7 186.9L138.0 186.5M204.7 193.9L205.0 194.0M126.0 190.2L125.8 189.8M175.1 215.5L175.2 215.6M150.6 177.1L151.5 177.2" stroke="#088c8c" stroke-width="1.6" stroke-opacity="0.9"/><path d="M193.4 207.3L193.6 207.6M141.9 222.3L141.4 222.0M155.8 254.4L155.1 254.0M162.6 215.2L162.5 215.6M113.6 252.1L113.3 252.0" stroke="#056a6a" stroke-width="1.4" stroke-opacity="0.9"/><path d="M167.1 226.4L167.0 226.6M122.9 197.9L123.3 197.6" stroke="#088c8c" stroke-width="1.2" stroke-opacity="0.5"/><path d="M123.9 224.0L124.0 223.1M189.8 227.0L190.0 227.4M131.7 242.1L131.4 241.8M158.4 243.0L157.7 243.4" stroke="#0a9c98" stroke-width="1.6" stroke-opacity="0.7"/><path d="M141.2 226.6L141.0 226.4M118.4 223.4L118.2 222.8" stroke="#0a9c98" stroke-width="1.2" stroke-opacity="0.6"/><path d="M163.8 213.8L163.6 214.3M143.6 248.4L143.5 248.2M121.0 193.5L121.5 192.7M189.4 218.2L188.9 218.5" stroke="#0a9c98" stroke-width="1.2" stroke-opacity="0.8"/><path d="M163.2 220.2L162.2 220.5M157.6 188.5L157.9 188.4M149.9 240.6L149.3 240.7M168.8 192.3L169.4 192.4M126.2 189.9L126.8 189.2M125.8 246.1L125.7 245.9" stroke="#0a9c98" stroke-width="1.4" stroke-opacity="0.7"/><path d="M124.3 238.3L124.3 237.8" stroke="#067a7a" stroke-width="1.4" stroke-opacity="0.5"/><path d="M203.5 178.2L203.8 178.9M154.4 175.5L155.3 175.6" stroke="#088c8c" stroke-width="1.2" stroke-opacity="0.7"/><path d="M120.8 240.7L120.7 240.0" stroke="#0a9c98" stroke-width="1.8" stroke-opacity="0.5"/><path d="M127.9 176.5L128.2 176.1M145.6 188.4L146.0 188.6M132.4 179.8L133.1 179.4" stroke="#067a7a" stroke-width="1.6" stroke-opacity="0.5"/><path d="M143.5 205.4L143.6 205.1M141.3 187.4L141.6 187.1M175.1 240.2L175.2 240.9" stroke="#088c8c" stroke-width="1.4" stroke-opacity="0.8"/><path d="M202.9 248.7L202.7 248.9M187.3 185.3L188.0 185.8M204.2 224.8L204.2 225.1M131.9 246.5L131.3 246.5" stroke="#056a6a" stroke-width="1.2" stroke-opacity="0.7"/><path d="M186.3 210.1L186.6 210.7M159.8 197.0L160.3 197.0M108.1 230.1L108.1 229.9M137.1 176.7L138.0 176.4M108.8 189.5L109.6 189.5M177.7 183.6L178.4 184.0M131.9 255.3L131.0 255.4" stroke="#088c8c" stroke-width="1.4" stroke-opacity="0.7"/><path d="M108.2 211.3L108.1 211.0M136.5 243.9L135.7 243.9M165.9 242.8L165.4 242.9M193.4 259.8L192.9 259.9" stroke="#067a7a" stroke-width="1.2" stroke-opacity="0.6"/><path d="M145.3 213.7L145.4 213.3M114.1 201.2L114.1 200.8" stroke="#088c8c" stroke-width="1.2" stroke-opacity="0.9"/><path d="M110.9 234.6L111.3 234.4M136.1 212.1L136.2 211.8M129.5 231.3L129.4 231.1M152.9 236.5L152.4 235.8M141.9 211.1L142.2 211.0" stroke="#0a9c98" stroke-width="1.4" stroke-opacity="0.9"/><path d="M112.0 193.4L112.4 192.5M147.7 228.5L147.6 227.9M202.2 225.7L202.1 226.4" stroke="#056a6a" stroke-width="1.2" stroke-opacity="0.9"/><path d="M174.6 207.9L174.7 208.2" stroke="#0a9c98" stroke-width="1.4" stroke-opacity="0.5"/><path d="M126.9 201.7L127.1 201.1" stroke="#088c8c" stroke-width="1.8" stroke-opacity="0.5"/><path d="M124.5 229.9L124.2 229.3" stroke="#067a7a" stroke-width="1.2" stroke-opacity="0.8"/><path d="M160.4 235.4L159.5 235.1" stroke="#0cc0b8" stroke-width="2.0" stroke-opacity="0.8"/><path d="M202.3 191.2L202.5 191.5M191.0 236.7L190.7 237.2" stroke="#0cc0b8" stroke-width="1.4" stroke-opacity="0.7"/><path d="M161.0 184.2L161.9 184.3M197.1 181.9L197.1 182.2" stroke="#0cc0b8" stroke-width="1.8" stroke-opacity="0.8"/><path d="M136.1 188.1L136.5 187.6M170.0 256.4L169.6 256.5" stroke="#1ae4dc" stroke-width="1.6" stroke-opacity="0.8"/><path d="M114.3 180.5L114.7 180.2" stroke="#0cc0b8" stroke-width="2.0" stroke-opacity="0.7"/><path d="M117.6 201.8L118.1 201.6" stroke="#12d4cc" stroke-width="1.4" stroke-opacity="0.8"/><path d="M123.3 242.0L122.8 241.6M145.5 245.1L144.9 245.0" stroke="#1ae4dc" stroke-width="1.6" stroke-opacity="0.6"/><path d="M181.4 194.9L182.0 195.5M171.6 244.5L170.9 244.6M201.5 184.3L201.7 184.7" stroke="#12d4cc" stroke-width="1.8" stroke-opacity="0.7"/><path d="M155.3 239.5L154.7 239.0M113.1 201.2L113.2 200.8M175.4 178.3L175.8 178.4" stroke="#1ae4dc" stroke-width="2.0"/><path d="M165.0 180.7L165.5 180.6" stroke="#12d4cc" stroke-width="2.0"/><path d="M183.2 189.7L183.8 190.3M193.4 187.3L194.0 187.7M118.8 237.9L118.6 237.8" stroke="#1ae4dc" stroke-width="1.4"/><path d="M146.8 196.3L147.2 195.6" stroke="#1ae4dc" stroke-width="1.8"/><path d="M179.4 201.1L180.2 201.0M166.0 252.4L165.8 252.5M157.4 259.4L157.1 259.4" stroke="#12d4cc" stroke-width="1.6" stroke-opacity="0.8"/><path d="M109.9 258.6L109.1 258.1M205.5 175.5L205.8 176.2M135.2 222.8L135.0 222.5M180.3 195.0L180.6 195.7M132.8 253.8L132.0 253.2M175.8 217.3L175.7 217.5" stroke="#1ae4dc" stroke-width="1.6" stroke-opacity="0.7"/><path d="M109.2 181.3L109.6 181.1M177.8 183.3L178.7 183.4" stroke="#0cc0b8" stroke-width="1.6" stroke-opacity="0.8"/><path d="M201.5 183.9L201.6 184.3M172.5 186.1L172.7 186.1M149.8 240.0L148.9 239.6" stroke="#0cc0b8" stroke-width="1.4" stroke-opacity="0.9"/><path d="M115.5 182.6L115.8 182.2M204.9 181.0L204.7 181.9" stroke="#0cc0b8" stroke-width="1.6" stroke-opacity="0.7"/><path d="M124.7 241.0L123.9 240.8M192.5 207.8L192.7 208.7" stroke="#1ae4dc" stroke-width="1.4" stroke-opacity="0.9"/><path d="M125.6 224.1L125.4 223.8M167.2 254.7L166.5 254.6M170.5 222.7L170.0 223.1" stroke="#1ae4dc" stroke-width="1.6" stroke-opacity="0.9"/><path d="M124.1 218.4L124.1 217.9M112.6 222.6L112.8 221.9M131.5 258.2L131.2 258.3" stroke="#12d4cc" stroke-width="1.4" stroke-opacity="0.7"/><path d="M197.6 191.1L198.0 192.0M206.2 234.5L205.8 234.7M186.3 211.7L186.3 212.1" stroke="#12d4cc" stroke-width="1.6" stroke-opacity="0.7"/><path d="M186.0 252.9L185.4 253.3M119.4 258.4L119.0 258.3M167.4 218.2L167.2 218.5M122.5 212.4L122.6 212.1" stroke="#12d4cc" stroke-width="1.8" stroke-opacity="0.6"/><path d="M130.4 260.1L130.0 259.5M166.8 236.6L166.0 236.8M109.2 179.2L109.4 178.7M150.3 199.1L150.9 198.4M203.2 177.4L203.3 177.8" stroke="#1ae4dc" stroke-width="2.0" stroke-opacity="0.8"/><path d="M117.6 200.2L117.6 199.8M163.7 178.5L164.2 178.3M109.7 182.0L109.7 181.6" stroke="#1ae4dc" stroke-width="2.0" stroke-opacity="0.9"/><path d="M192.2 182.4L192.4 182.5M141.8 219.1L141.4 218.8" stroke="#0cc0b8" stroke-width="1.4" stroke-opacity="0.6"/><path d="M203.4 236.9L203.0 237.4" stroke="#12d4cc" stroke-width="1.8" stroke-opacity="0.9"/><path d="M162.0 196.3L162.7 196.3" stroke="#1ae4dc" stroke-width="1.4" stroke-opacity="0.8"/><path d="M172.1 245.7L172.0 246.6M200.4 208.4L200.4 208.9" stroke="#12d4cc" stroke-width="1.8" stroke-opacity="0.8"/><path d="M169.8 233.8L169.0 234.2" stroke="#0cc0b8" stroke-width="1.6"/><path d="M117.8 244.1L117.5 243.2" stroke="#1ae4dc" stroke-width="1.8" stroke-opacity="0.7"/><path d="M191.1 216.1L191.0 216.5" stroke="#12d4cc" stroke-width="1.6" stroke-opacity="0.6"/><path d="M115.7 191.2L115.9 190.9M182.9 243.2L182.4 243.9" stroke="#12d4cc" stroke-width="2.0" stroke-opacity="0.7"/><path d="M196.3 231.9L196.3 232.5M190.7 182.3L190.9 182.4M155.2 192.4L155.5 191.9" stroke="#12d4cc" stroke-width="1.6" stroke-opacity="0.9"/><path d="M153.5 199.9L154.1 199.6M190.9 179.3L191.0 179.8" stroke="#1ae4dc" stroke-width="1.8" stroke-opacity="0.6"/><path d="M167.7 186.1L168.3 186.0M167.4 231.5L167.2 231.8" stroke="#12d4cc" stroke-width="1.4" stroke-opacity="0.9"/><path d="M195.2 195.3L195.1 195.9M205.9 198.9L206.0 199.2" stroke="#1ae4dc" stroke-width="2.0" stroke-opacity="0.7"/><path d="M130.2 223.9L129.8 223.2" stroke="#0cc0b8" stroke-width="1.6" stroke-opacity="0.6"/><path d="M116.5 232.3L116.4 232.1M136.5 252.2L136.2 252.1" stroke="#0cc0b8" stroke-width="2.0"/><path d="M135.5 215.4L135.5 214.4M206.2 240.1L206.0 240.3" stroke="#0cc0b8" stroke-width="2.0" stroke-opacity="0.6"/><path d="M135.8 203.1L135.9 202.1" stroke="#0cc0b8" stroke-width="1.8" stroke-opacity="0.9"/><path d="M115.2 246.2L114.8 245.5" stroke="#12d4cc" stroke-width="1.4"/><path d="M186.2 227.4L186.0 227.8" stroke="#0cc0b8" stroke-width="1.4"/><path d="M152.7 197.2L153.4 196.5M190.2 176.0L190.4 176.4" stroke="#0cc0b8" stroke-width="1.8"/><path d="M206.8 255.3L206.3 255.9" stroke="#1ae4dc" stroke-width="2.0" stroke-opacity="0.6"/><path d="M143.2 256.8L142.8 256.4" stroke="#12d4cc" stroke-width="2.0" stroke-opacity="0.9"/><path d="M175.4 240.8L175.3 241.7M140.6 206.2L141.2 205.9M190.3 207.4L190.2 207.8M120.8 233.3L121.2 232.6" stroke="#0cc0b8" stroke-width="2.0" stroke-opacity="0.9"/><path d="M152.5 252.2L151.7 252.5" stroke="#0cc0b8" stroke-width="1.8" stroke-opacity="0.7"/><path d="M125.8 254.4L125.1 254.5" stroke="#1ae4dc" stroke-width="1.6"/><path d="M120.0 229.3L119.4 229.4" stroke="#12d4cc" stroke-width="1.8"/></g>
<rect x="108.0" y="175.5" width="98.60000000000001" height="85" fill="none" stroke="#000" stroke-opacity="0.55" stroke-width="0.9"/>
</g>
<clipPath id="c23"><rect x="208" y="175" width="99" height="86"/></clipPath>
<g clip-path="url(#c23)">
<rect x="208" y="175" width="99" height="86" fill="#1f0423"/>
<g filter="url(#soft2)" fill="none" stroke-linecap="square"><path d="M299.6 256.6h0M260.1 200.6h0M237.8 244.0h0M258.1 228.7h0M275.4 203.3h0" stroke="#12010f" stroke-width="2.4"/><path d="M209.7 201.4h0M265.6 182.1h0M261.3 234.4h0M260.8 248.9h0M227.4 220.3h0M225.9 236.8h0M220.6 216.6h0M276.6 187.9h0" stroke="#2c0832" stroke-width="1.6"/><path d="M220.9 191.5h0M288.6 190.6h0M287.8 197.0h0M240.9 255.0h0" stroke="#150216" stroke-width="1.8"/><path d="M269.4 252.5h0M273.4 202.0h0M269.6 242.1h0M280.9 215.6h0M261.7 185.4h0M219.4 212.0h0M214.4 186.0h0M211.2 244.4h0M257.8 226.9h0M208.2 249.0h0M243.8 258.2h0" stroke="#300a36" stroke-width="1.2"/><path d="M249.7 219.1h0M275.4 210.0h0M295.8 232.4h0M242.6 192.7h0M218.5 238.0h0M294.0 185.4h0M256.2 182.5h0M271.0 232.1h0M269.7 208.9h0M297.9 224.0h0" stroke="#2c0832" stroke-width="2.2"/><path d="M284.3 192.7h0M228.8 210.0h0M244.3 257.1h0M283.2 213.4h0" stroke="#2c0832" stroke-width="1.0"/><path d="M273.1 228.4h0M264.0 249.0h0M249.7 205.1h0M250.6 253.5h0" stroke="#2c0832" stroke-width="2.6"/><path d="M225.6 216.5h0M277.7 199.1h0M282.5 184.2h0" stroke="#150216" stroke-width="2.2"/><path d="M226.0 190.4h0M283.4 231.5h0M296.6 234.1h0M303.5 237.7h0M287.9 198.7h0M228.4 211.7h0M222.6 229.3h0M211.6 254.7h0M292.0 260.3h0M216.5 194.7h0M267.9 185.0h0M284.3 197.0h0" stroke="#150216" stroke-width="1.6"/><path d="M301.1 199.1h0M254.4 236.0h0M261.9 211.3h0M241.6 221.7h0M282.0 252.2h0M289.6 221.5h0M218.8 260.1h0M259.0 235.2h0M264.5 195.8h0M266.6 244.1h0" stroke="#12010f" stroke-width="2.0"/><path d="M244.6 199.8h0M248.5 186.0h0M298.8 260.9h0" stroke="#300a36" stroke-width="1.4"/><path d="M262.4 197.2h0M273.4 212.0h0M214.3 242.1h0M214.1 232.0h0M287.0 229.7h0M287.7 252.4h0M276.3 187.3h0" stroke="#12010f" stroke-width="1.2"/><path d="M278.0 246.3h0M256.6 178.2h0M302.5 211.1h0M256.7 205.1h0M241.5 238.6h0M288.6 220.0h0M225.8 246.5h0M243.0 232.7h0M277.7 176.9h0" stroke="#150216" stroke-width="1.4"/><path d="M299.0 226.0h0M268.5 206.1h0M253.2 231.7h0M304.3 234.1h0M269.9 181.7h0" stroke="#150216" stroke-width="2.6"/><path d="M252.5 177.9h0M286.6 177.6h0M303.8 221.1h0M261.6 213.6h0" stroke="#300a36" stroke-width="2.0"/><path d="M210.3 244.6h0M269.4 239.5h0M291.1 197.9h0" stroke="#150216" stroke-width="2.0"/><path d="M287.7 256.6h0M231.3 223.2h0M283.5 223.5h0M243.0 225.2h0M208.7 233.8h0" stroke="#300a36" stroke-width="1.8"/><path d="M282.2 204.8h0M279.2 187.3h0M221.8 225.2h0" stroke="#300a36" stroke-width="2.6"/><path d="M282.7 214.5h0M262.0 211.6h0M243.3 259.5h0M277.0 201.7h0M223.8 222.3h0M250.1 251.2h0M297.2 239.2h0M216.5 190.2h0M285.8 194.3h0M276.4 252.6h0M296.9 188.7h0M285.5 207.1h0M283.0 237.2h0" stroke="#12010f" stroke-width="1.4"/><path d="M218.2 220.5h0M210.9 205.1h0M238.4 247.3h0M282.5 191.9h0M305.4 241.1h0M263.8 258.7h0M285.1 221.7h0M208.4 180.2h0M234.4 208.4h0M301.6 192.6h0M304.9 250.6h0" stroke="#150216" stroke-width="1.2"/><path d="M233.1 211.3h0M230.4 180.3h0M252.1 189.9h0M273.0 186.3h0M285.2 188.5h0M256.5 238.4h0" stroke="#300a36" stroke-width="2.4"/><path d="M289.8 184.3h0M284.9 232.9h0M289.3 226.8h0M225.5 176.6h0M296.3 211.8h0M263.9 187.8h0" stroke="#2c0832" stroke-width="2.0"/><path d="M302.2 181.8h0M280.9 188.1h0M262.3 250.6h0M260.3 217.7h0" stroke="#12010f" stroke-width="1.8"/><path d="M305.8 198.4h0M248.0 232.3h0M219.5 192.7h0" stroke="#12010f" stroke-width="1.6"/><path d="M285.8 187.2h0M293.0 197.3h0M274.4 227.6h0M301.7 229.5h0M291.2 219.1h0" stroke="#150216" stroke-width="2.4"/><path d="M303.0 204.3h0M305.8 187.6h0M220.5 176.2h0M213.5 249.8h0" stroke="#300a36" stroke-width="1.6"/><path d="M306.0 198.9h0M212.1 185.3h0M276.0 259.2h0M294.7 192.0h0M284.5 242.5h0M208.3 206.9h0" stroke="#12010f" stroke-width="2.2"/><path d="M221.5 233.7h0M280.0 245.2h0M285.3 232.2h0M214.0 239.1h0M271.7 256.7h0" stroke="#2c0832" stroke-width="2.4"/><path d="M260.6 193.9h0M302.8 229.3h0M208.8 217.7h0M300.3 205.4h0" stroke="#2c0832" stroke-width="1.8"/><path d="M246.8 207.9h0M227.9 189.2h0M305.7 190.4h0" stroke="#12010f" stroke-width="1.0"/><path d="M292.3 242.3h0M274.8 190.3h0M243.9 239.4h0" stroke="#2c0832" stroke-width="1.4"/><path d="M290.1 257.7h0M267.4 208.2h0M222.6 254.8h0M222.0 205.4h0" stroke="#300a36" stroke-width="1.0"/><path d="M225.2 250.7h0" stroke="#12010f" stroke-width="2.6"/><path d="M256.7 202.6h0M240.9 224.1h0M301.5 248.1h0M226.6 244.1h0M246.1 186.4h0M292.6 217.7h0" stroke="#300a36" stroke-width="2.2"/><path d="M236.1 185.8h0M294.3 222.6h0M283.6 213.8h0M263.8 256.0h0" stroke="#2c0832" stroke-width="1.2"/><path d="M295.8 194.3h0M223.7 237.6h0" stroke="#150216" stroke-width="1.0"/></g>
<g filter="url(#soft)" fill="none" stroke-linecap="round"><path d="M257.1 210.0h0" stroke="#c020c0" stroke-width="2.2"/><path d="M247.3 220.2h0" stroke="#a018a8" stroke-width="1.8"/><path d="M258.3 216.6h0" stroke="#9016a0" stroke-width="1.6"/><path d="M259.6 225.0h0" stroke="#801890" stroke-width="1.4"/><path d="M284.7 221.0h0" stroke="#701480" stroke-width="1.4"/><path d="M250.5 203.0h0M262.0 219.0h0" stroke="#601070" stroke-width="1.2"/><path d="M254.0 214.0h0" stroke="#701480" stroke-width="1.2"/><path d="M261.0 208.5h0M249.8 212.5h0M248.4 222.8h0M253.1 205.6h0M263.7 227.0h0M243.9 214.9h0M237.1 222.1h0M247.7 205.1h0M245.9 215.9h0M242.5 222.0h0M252.5 217.3h0M256.6 218.9h0M265.0 218.6h0M248.1 222.9h0M258.2 222.2h0M248.2 218.4h0M255.2 226.4h0M256.3 212.8h0M266.9 216.8h0M267.1 208.2h0M238.3 234.1h0M247.9 200.8h0M257.5 213.9h0M262.0 231.0h0M239.4 228.2h0" stroke="#50105a" stroke-width="1.2"/></g>
<rect x="208.4" y="175.5" width="98.2" height="85" fill="none" stroke="#000" stroke-opacity="0.55" stroke-width="0.9"/>
</g>
<clipPath id="c24"><rect x="307.6" y="175" width="99.4" height="86"/></clipPath>
<g clip-path="url(#c24)">
<rect x="307.6" y="175" width="99.4" height="86" fill="#1f0423"/>
<g filter="url(#soft2)" fill="none" stroke-linecap="square"><path d="M378.4 247.2h0M326.9 232.7h0M324.3 194.9h0M341.5 191.4h0M371.3 186.6h0M373.3 258.0h0M380.5 234.6h0M389.8 209.3h0M394.8 217.9h0M325.7 208.8h0" stroke="#150216" stroke-width="1.2"/><path d="M387.8 199.4h0M399.5 202.2h0M341.5 251.2h0M336.8 203.9h0M401.5 186.5h0M406.2 214.1h0M405.6 189.1h0M378.3 204.5h0" stroke="#12010f" stroke-width="2.4"/><path d="M351.5 249.5h0M339.1 235.5h0" stroke="#12010f" stroke-width="2.6"/><path d="M310.4 189.5h0M378.3 244.8h0M332.9 231.2h0M340.7 182.3h0" stroke="#300a36" stroke-width="1.8"/><path d="M375.4 218.0h0M387.7 185.0h0M376.2 222.8h0" stroke="#2c0832" stroke-width="2.6"/><path d="M391.4 188.6h0M313.5 214.2h0M392.3 229.1h0M363.6 176.9h0M351.2 206.3h0M359.7 243.5h0" stroke="#2c0832" stroke-width="1.6"/><path d="M315.0 230.8h0M357.7 239.3h0M366.0 230.4h0M335.0 190.3h0M334.9 188.5h0M334.6 251.2h0M357.5 246.1h0M397.6 201.4h0" stroke="#12010f" stroke-width="2.0"/><path d="M338.5 196.2h0M343.1 213.6h0M343.1 256.5h0M369.8 190.4h0M354.3 238.6h0M385.0 253.0h0M366.4 255.4h0" stroke="#150216" stroke-width="2.0"/><path d="M389.0 260.3h0M382.1 183.2h0M346.6 251.4h0M326.5 247.7h0M404.2 202.5h0M354.6 209.5h0M404.7 225.2h0M312.3 247.1h0" stroke="#2c0832" stroke-width="2.4"/><path d="M363.5 198.6h0M347.4 208.8h0M399.0 214.7h0M396.3 197.7h0M400.2 206.3h0M333.2 259.2h0M331.8 213.0h0M328.4 184.5h0M320.1 176.9h0M368.1 252.1h0M391.7 223.2h0M356.3 191.6h0" stroke="#300a36" stroke-width="1.4"/><path d="M385.6 231.1h0M316.0 186.7h0M363.2 215.2h0M395.0 195.1h0M320.3 253.2h0M343.6 240.8h0" stroke="#150216" stroke-width="1.6"/><path d="M374.2 258.7h0M385.8 182.7h0M370.6 221.5h0M369.2 186.0h0M365.0 226.0h0M378.2 185.0h0M380.2 225.6h0" stroke="#2c0832" stroke-width="1.2"/><path d="M406.7 240.8h0M308.9 198.7h0M389.5 183.2h0M394.5 187.0h0M335.8 188.5h0M361.0 237.1h0" stroke="#150216" stroke-width="1.8"/><path d="M346.5 243.4h0M313.3 213.8h0M374.6 191.9h0M310.9 189.4h0M308.7 246.5h0" stroke="#300a36" stroke-width="1.6"/><path d="M343.6 203.0h0M309.2 242.6h0M403.6 249.4h0M347.5 213.7h0M340.2 256.6h0M319.8 213.7h0M391.4 248.9h0M315.1 242.0h0M309.4 237.2h0" stroke="#300a36" stroke-width="2.2"/><path d="M392.1 247.1h0M362.4 255.8h0M321.4 221.2h0M381.8 203.2h0M326.5 248.1h0M379.9 193.0h0" stroke="#2c0832" stroke-width="1.4"/><path d="M398.1 254.5h0" stroke="#300a36" stroke-width="1.0"/><path d="M345.6 240.4h0M335.9 224.8h0M385.5 187.6h0M401.6 227.1h0M366.3 223.9h0M311.5 247.3h0M320.2 187.6h0M331.3 216.5h0M396.8 200.2h0" stroke="#12010f" stroke-width="1.6"/><path d="M347.1 176.7h0M396.2 181.6h0M391.4 227.7h0M405.1 210.9h0M336.9 197.1h0M383.3 216.1h0M328.8 205.9h0" stroke="#12010f" stroke-width="1.8"/><path d="M389.6 179.5h0M379.2 187.6h0" stroke="#300a36" stroke-width="2.4"/><path d="M312.5 253.0h0M393.5 184.5h0M336.3 175.9h0M326.5 184.7h0M351.5 187.3h0M341.5 250.2h0M401.9 204.0h0" stroke="#12010f" stroke-width="2.2"/><path d="M367.0 219.9h0M405.1 223.5h0" stroke="#2c0832" stroke-width="1.8"/><path d="M348.4 260.1h0M321.7 175.2h0M346.0 200.2h0M404.0 240.5h0M311.4 226.7h0M393.3 182.4h0" stroke="#150216" stroke-width="2.4"/><path d="M351.4 204.3h0M349.6 191.2h0M404.4 207.5h0M362.9 222.3h0M398.1 179.5h0M358.1 221.6h0" stroke="#150216" stroke-width="2.6"/><path d="M400.3 189.5h0M335.2 248.1h0M350.8 248.7h0M355.1 193.8h0M370.4 177.7h0M372.6 234.2h0M396.5 207.1h0M315.0 247.8h0" stroke="#150216" stroke-width="1.4"/><path d="M311.0 189.0h0" stroke="#2c0832" stroke-width="1.0"/><path d="M405.0 253.3h0M359.0 227.5h0M342.4 197.2h0M406.1 197.7h0" stroke="#150216" stroke-width="2.2"/><path d="M332.2 241.4h0M330.5 239.6h0M307.6 226.8h0M312.1 216.7h0" stroke="#300a36" stroke-width="2.6"/><path d="M401.8 227.1h0M348.4 253.7h0M349.8 188.8h0M331.2 200.7h0M336.7 258.4h0M309.4 207.2h0M357.5 209.1h0" stroke="#2c0832" stroke-width="2.0"/><path d="M403.2 192.3h0M335.0 237.1h0M403.8 192.8h0M383.0 179.0h0M403.6 184.6h0" stroke="#300a36" stroke-width="1.2"/><path d="M401.8 250.4h0M366.8 253.4h0M341.0 251.2h0M322.7 242.8h0" stroke="#12010f" stroke-width="1.2"/><path d="M357.7 220.5h0M335.7 238.1h0M345.8 254.6h0M393.2 200.3h0M316.7 216.7h0M312.4 217.5h0M322.3 237.5h0" stroke="#300a36" stroke-width="2.0"/><path d="M323.2 229.6h0M331.4 249.4h0M390.9 182.2h0" stroke="#150216" stroke-width="1.0"/><path d="M310.2 226.8h0M338.7 182.5h0" stroke="#12010f" stroke-width="1.0"/><path d="M406.0 184.2h0M363.7 238.1h0M337.4 225.7h0M391.5 260.8h0" stroke="#12010f" stroke-width="1.4"/><path d="M312.9 203.5h0M357.8 230.6h0M386.0 184.0h0M362.9 183.2h0" stroke="#2c0832" stroke-width="2.2"/></g>
<g filter="url(#soft)" fill="none" stroke-linecap="round"><path d="M356.4 212.1h0M343.1 231.5h0M348.0 212.3h0M356.4 205.0h0M362.9 227.8h0M356.6 218.5h0M367.6 206.3h0M361.8 206.0h0M355.6 228.3h0" stroke="#60126a" stroke-width="1.4"/><path d="M356.2 224.4h0" stroke="#50105a" stroke-width="1.4"/><path d="M369.3 213.1h0M357.7 217.1h0M355.8 229.6h0M359.7 227.0h0M365.6 227.7h0" stroke="#60126a" stroke-width="1.6"/><path d="M348.2 224.3h0M349.0 219.6h0M358.6 223.6h0M357.6 232.3h0M354.0 226.3h0" stroke="#7a1888" stroke-width="1.8"/><path d="M345.9 220.5h0M369.1 226.0h0M358.6 196.1h0M338.5 226.4h0" stroke="#60126a" stroke-width="1.2"/><path d="M364.9 221.6h0M358.1 207.3h0M357.4 211.3h0M349.3 206.4h0" stroke="#60126a" stroke-width="1.8"/><path d="M359.2 221.3h0M339.2 192.1h0M353.6 228.8h0" stroke="#60126a" stroke-width="1.0"/><path d="M345.1 205.4h0M360.2 226.6h0M342.8 212.1h0M360.9 216.8h0" stroke="#50105a" stroke-width="1.2"/><path d="M345.2 221.4h0M356.1 222.4h0M357.0 220.7h0M344.0 224.2h0" stroke="#7a1888" stroke-width="1.4"/><path d="M350.4 221.6h0M359.3 229.7h0" stroke="#50105a" stroke-width="1.8"/><path d="M347.2 238.8h0M353.2 204.3h0" stroke="#50105a" stroke-width="1.6"/><path d="M351.1 212.0h0" stroke="#7a1888" stroke-width="1.0"/><path d="M357.6 221.4h0" stroke="#7a1888" stroke-width="1.2"/><path d="M356.3 218.5L356.3 221.5" stroke="#b020b8" stroke-width="1.8"/><path d="M358.0 212.0h0" stroke="#901aa0" stroke-width="1.4"/></g>
<rect x="308.0" y="175.5" width="98.60000000000001" height="85" fill="none" stroke="#000" stroke-opacity="0.55" stroke-width="0.9"/>
</g>
<clipPath id="c25"><rect x="7" y="436" width="100" height="85.5"/></clipPath>
<g clip-path="url(#c25)">
<rect x="7" y="436" width="100" height="85.5" fill="#021602"/>
<g filter="url(#soft2)" fill="none" stroke-linecap="square"><path d="M44.7 515.2h0M100.5 484.3h0M67.0 453.8h0M57.5 475.4h0" stroke="#011001" stroke-width="2.4"/><path d="M100.1 462.1h0M76.1 461.0h0M94.3 512.3h0M21.3 485.7h0M56.1 485.2h0M56.8 516.3h0M95.9 441.0h0M83.3 494.1h0M43.9 482.1h0M42.3 517.9h0" stroke="#062c06" stroke-width="1.8"/><path d="M10.5 484.3h0M57.4 455.7h0M12.8 518.9h0M45.6 467.4h0M8.0 464.3h0M76.8 443.9h0M11.8 469.7h0M30.2 517.7h0M7.7 496.5h0M76.9 479.2h0M62.6 468.5h0M52.9 471.4h0" stroke="#010c01" stroke-width="1.2"/><path d="M64.6 498.3h0M34.5 512.2h0M34.2 518.3h0" stroke="#062c06" stroke-width="1.4"/><path d="M89.5 451.5h0M80.6 465.1h0M29.2 516.6h0M32.6 462.8h0M47.8 440.9h0M47.6 483.0h0M16.8 457.9h0M14.0 438.8h0M86.1 494.2h0M19.8 504.2h0M72.6 449.8h0" stroke="#083208" stroke-width="1.6"/><path d="M59.5 511.5h0M58.5 446.9h0M36.1 482.4h0M60.5 465.5h0M39.3 488.8h0M21.6 454.1h0M61.1 506.6h0" stroke="#010c01" stroke-width="2.4"/><path d="M67.1 466.5h0M20.5 475.2h0M48.4 518.1h0M71.3 463.1h0M27.5 480.3h0M60.7 481.9h0M22.4 510.1h0M26.1 517.9h0M70.1 444.1h0M99.0 504.1h0" stroke="#011001" stroke-width="1.6"/><path d="M68.9 442.2h0M75.1 474.3h0M93.8 458.5h0M97.2 450.9h0M101.2 458.0h0M87.7 516.0h0M25.2 501.9h0M24.2 508.9h0M50.9 480.9h0M66.4 436.6h0" stroke="#010c01" stroke-width="1.6"/><path d="M61.2 442.6h0M23.7 484.9h0M42.4 463.4h0M61.9 463.5h0M48.3 519.6h0M103.1 502.9h0M45.6 448.5h0" stroke="#083208" stroke-width="2.0"/><path d="M93.2 474.2h0M13.6 491.4h0M29.9 502.1h0M48.9 450.1h0M81.8 450.1h0M66.7 449.2h0" stroke="#083208" stroke-width="2.2"/><path d="M51.2 506.1h0M76.5 454.5h0M37.7 516.0h0M13.5 510.5h0M49.3 439.3h0M102.2 440.1h0M71.0 507.6h0M57.6 441.9h0M39.5 487.4h0M92.6 442.7h0M19.5 503.4h0" stroke="#011001" stroke-width="1.8"/><path d="M11.8 470.9h0M63.1 458.9h0M8.7 458.4h0M64.0 514.4h0M85.2 479.2h0" stroke="#083208" stroke-width="2.4"/><path d="M8.8 516.2h0M92.7 459.6h0M97.3 445.8h0M54.2 470.4h0M99.0 476.7h0M88.5 516.1h0M102.4 441.0h0M25.9 518.2h0M98.0 441.6h0" stroke="#062c06" stroke-width="1.6"/><path d="M101.8 507.8h0M25.2 503.4h0M100.9 457.2h0M97.4 490.9h0M39.9 441.4h0M79.2 498.1h0M47.7 514.2h0M31.7 503.1h0M102.1 469.8h0M87.7 441.7h0M49.6 513.6h0" stroke="#011001" stroke-width="1.2"/><path d="M75.4 511.4h0M99.5 511.6h0M47.9 518.6h0M7.2 460.5h0M85.1 512.3h0M35.1 511.6h0M61.4 458.3h0M56.5 457.0h0M47.4 462.8h0M30.2 475.5h0M78.5 473.2h0M46.6 493.3h0M99.0 456.3h0" stroke="#011001" stroke-width="2.2"/><path d="M43.9 467.0h0M104.9 481.0h0M9.4 457.3h0M105.8 467.2h0M8.5 478.0h0" stroke="#083208" stroke-width="1.8"/><path d="M77.8 484.4h0M48.6 456.3h0M58.8 500.4h0M80.1 448.7h0M55.6 513.7h0M26.8 437.6h0M53.6 446.0h0M93.4 444.2h0M46.7 501.3h0M76.0 489.7h0M80.3 485.4h0" stroke="#011001" stroke-width="2.0"/><path d="M64.2 451.1h0M80.0 479.8h0M17.2 477.4h0M75.6 491.0h0M95.1 519.8h0M85.0 488.8h0M10.4 440.5h0M76.0 505.0h0M101.1 459.2h0" stroke="#010c01" stroke-width="2.0"/><path d="M81.1 458.2h0M20.4 471.5h0M94.3 483.3h0M35.9 510.7h0" stroke="#010c01" stroke-width="2.2"/><path d="M58.9 450.0h0M74.0 496.7h0M23.9 521.0h0M85.8 458.8h0M11.4 487.2h0M74.5 488.4h0M75.6 467.2h0M48.2 520.7h0" stroke="#062c06" stroke-width="2.4"/><path d="M61.4 446.9h0M14.6 468.1h0M58.1 485.3h0M90.4 460.8h0M44.5 517.1h0M26.2 494.1h0" stroke="#010c01" stroke-width="2.6"/><path d="M14.3 488.6h0M90.1 469.6h0M43.5 449.6h0M21.1 462.9h0" stroke="#011001" stroke-width="1.0"/><path d="M86.4 467.2h0M60.5 489.1h0M72.9 462.9h0M106.5 502.3h0M48.7 445.2h0" stroke="#010c01" stroke-width="1.4"/><path d="M41.2 476.8h0M52.0 505.9h0M93.5 505.7h0M25.6 441.9h0" stroke="#083208" stroke-width="1.0"/><path d="M38.4 514.1h0M72.8 450.0h0M34.9 514.9h0M14.7 448.4h0M53.9 500.6h0M64.3 477.8h0M33.3 506.4h0" stroke="#062c06" stroke-width="2.2"/><path d="M27.0 441.7h0M96.8 503.6h0M24.1 458.3h0" stroke="#083208" stroke-width="2.6"/><path d="M24.6 479.0h0M76.6 490.1h0M38.4 436.2h0M96.4 511.1h0M92.6 462.7h0M28.9 505.6h0M23.4 454.5h0" stroke="#083208" stroke-width="1.2"/><path d="M38.2 465.5h0M10.8 510.0h0M26.6 449.4h0M95.2 480.7h0" stroke="#011001" stroke-width="2.6"/><path d="M43.0 509.9h0M57.3 509.0h0M105.6 452.9h0M8.9 494.9h0M90.3 497.1h0M77.8 447.6h0M98.8 441.1h0M8.6 503.2h0M80.0 450.8h0M87.4 497.6h0" stroke="#083208" stroke-width="1.4"/><path d="M13.3 472.8h0M73.7 490.0h0M59.6 481.1h0M33.9 510.9h0M14.3 520.6h0M14.4 500.1h0" stroke="#010c01" stroke-width="1.8"/><path d="M84.2 481.3h0M9.6 489.3h0M67.8 495.4h0" stroke="#062c06" stroke-width="1.0"/><path d="M54.1 521.2h0M104.1 455.0h0M75.9 473.1h0M41.4 473.7h0M78.9 475.6h0" stroke="#062c06" stroke-width="2.0"/><path d="M21.5 488.9h0M74.6 467.1h0M26.5 459.1h0" stroke="#011001" stroke-width="1.4"/><path d="M31.1 503.4h0M63.9 473.8h0M62.5 450.6h0M81.6 487.8h0M29.1 438.7h0" stroke="#062c06" stroke-width="1.2"/><path d="M14.5 519.5h0" stroke="#010c01" stroke-width="1.0"/><path d="M34.5 508.3h0" stroke="#062c06" stroke-width="2.6"/></g>
<ellipse cx="59" cy="490" rx="36" ry="30" fill="url(#gglow)"/>
<g filter="url(#soft)" fill="none" stroke-linecap="round"><path d="M97.1 517.0L101.0 519.7M51.6 446.7L50.6 442.2M63.8 440.2L63.5 437.4M104.8 449.5L107.2 447.7M50.3 449.6L53.4 444.7M37.9 465.3L34.5 462.3M66.3 439.7L67.9 433.9M47.2 506.1L45.8 512.2M83.4 469.8L83.1 465.8M34.0 514.7L31.8 517.2M9.7 446.1L6.5 446.0" stroke="#1a901a" stroke-width="0.8" stroke-opacity="0.2"/><path d="M58.3 475.9L57.9 471.7M79.9 480.3L84.2 478.3M57.9 492.2L56.0 494.8M52.6 473.7L49.9 470.6M76.1 504.3L76.5 506.9M45.3 483.9L42.7 482.8M43.7 500.3L39.5 503.1M77.2 482.7L78.2 480.4M59.3 489.1L61.3 493.3M43.3 503.5L44.2 508.1M35.9 494.4L32.4 496.5M49.5 480.1L45.7 481.2M59.6 476.5L59.6 474.0M72.3 485.5L75.8 487.9M43.7 503.6L39.0 506.3M61.1 483.4L65.7 482.0" stroke="#22a822" stroke-width="1.0" stroke-opacity="0.4"/><path d="M70.3 468.4L73.5 466.0M44.4 502.2L40.1 504.2M73.8 488.2L77.1 490.0M55.0 485.5L51.3 486.1M73.5 465.7L75.5 462.8M60.9 516.3L63.2 521.1M66.9 493.0L72.6 493.5M51.7 486.4L50.0 489.5M60.5 479.8L64.2 478.8M75.8 461.6L78.7 456.5M55.6 484.1L50.8 483.6M62.6 481.7L65.1 482.0M28.9 502.1L23.6 502.9M66.0 483.3L69.0 486.7M58.5 481.6L59.7 475.7M76.2 470.9L81.9 469.6M42.3 503.8L42.4 507.8" stroke="#1a901a" stroke-width="1.0" stroke-opacity="0.3"/><path d="M69.0 506.8L70.6 508.3M22.4 470.8L18.1 468.8M67.0 486.5L71.7 486.9M46.9 485.1L45.2 480.3M47.6 497.4L45.3 498.6M59.1 488.1L60.1 491.3M61.2 490.4L62.8 495.5M65.6 485.9L67.3 487.0M74.1 505.4L77.8 509.0M77.3 483.3L78.7 479.0M74.6 498.7L76.7 503.5M56.5 478.5L57.0 474.2M63.3 491.4L68.3 494.5M54.2 478.0L50.9 475.7M37.8 468.3L35.9 463.8M53.6 487.7L50.6 489.1M46.1 503.2L44.0 506.7M61.7 474.1L62.6 472.3M80.2 472.3L83.8 469.1" stroke="#22a822" stroke-width="0.8" stroke-opacity="0.3"/><path d="M75.3 489.9L77.1 491.8M39.1 487.3L36.8 486.9M41.2 474.4L35.9 472.9M56.9 486.0L51.1 487.3M39.0 480.9L32.9 479.5M65.0 515.3L71.0 516.6M59.0 492.8L61.5 497.7M81.3 483.2L86.1 480.8M55.6 496.1L56.6 502.0M79.4 465.1L82.6 462.5M58.6 509.8L60.9 514.3M64.6 516.5L64.1 519.2M78.2 486.7L80.3 492.0M33.5 490.2L30.9 491.7" stroke="#22a822" stroke-width="1.0" stroke-opacity="0.3"/><path d="M58.7 503.1L57.3 507.0M34.2 497.8L32.6 499.9M51.3 502.8L50.4 505.7M58.3 487.2L58.7 489.4M60.8 486.4L63.0 490.8" stroke="#2cbc2c" stroke-width="0.8" stroke-opacity="0.4"/><path d="M52.9 509.9L54.0 515.7M55.4 502.3L52.5 505.2M15.7 460.3L15.5 455.6M36.3 493.8L34.8 495.9M24.2 465.3L20.8 463.0M95.3 465.0L98.7 460.4M79.1 452.1L79.6 449.3M33.7 492.7L30.7 491.9M54.3 441.9L51.6 438.0M91.0 480.1L96.5 477.4M49.3 454.8L45.6 450.4M94.0 483.3L97.4 484.8" stroke="#1a901a" stroke-width="1.0" stroke-opacity="0.2"/><path d="M42.2 480.4L36.6 481.0M54.7 478.6L50.8 479.9M60.5 475.0L64.3 472.1M57.0 488.7L58.4 494.7M51.4 489.6L50.1 493.8" stroke="#1a901a" stroke-width="0.8" stroke-opacity="0.5"/><path d="M90.4 507.4L91.6 509.2M33.5 510.2L30.9 511.1M60.1 517.7L60.0 521.3M18.8 473.3L15.4 471.2M38.6 492.9L33.6 492.4M81.2 468.9L81.3 463.3M38.6 506.6L34.3 511.1M74.0 507.7L74.3 509.7M77.2 453.4L78.7 449.4M65.5 459.2L67.1 457.0" stroke="#2cbc2c" stroke-width="0.8" stroke-opacity="0.2"/><path d="M64.6 449.8L64.5 447.8M77.0 486.7L83.1 488.7M64.3 458.2L64.9 454.2M24.1 513.5L22.8 518.2M101.2 449.8L103.3 445.0M78.2 520.7L80.0 522.0M68.9 492.5L70.2 496.2M38.8 478.3L34.3 474.0M18.7 486.1L16.9 484.0M103.8 464.7L106.6 465.3" stroke="#22a822" stroke-width="1.0" stroke-opacity="0.2"/><path d="M62.9 484.8L64.7 485.8M61.8 477.6L60.4 472.5" stroke="#2cbc2c" stroke-width="0.8" stroke-opacity="0.6"/><path d="M57.6 475.5L55.3 475.0M69.4 501.4L74.0 502.1M67.4 471.7L70.7 469.0M67.0 510.4L69.2 514.3M68.7 473.9L70.3 468.9M85.4 476.1L88.3 473.3M63.1 492.5L63.4 497.4M78.7 471.9L81.2 470.3M45.6 499.5L46.6 503.7M61.1 464.9L63.9 459.9M57.3 480.5L55.1 477.6M83.8 477.0L86.5 476.1M34.8 472.7L34.0 470.1M78.0 485.2L80.1 485.8M96.7 485.4L100.6 487.3" stroke="#1a901a" stroke-width="0.8" stroke-opacity="0.3"/><path d="M59.6 482.9L65.7 482.1M42.1 480.5L39.1 481.8M59.2 472.6L62.6 468.7M45.3 477.3L43.1 475.4M61.3 483.2L63.7 481.5M59.0 489.5L59.7 495.0M64.6 469.0L64.3 466.8M20.6 452.0L22.3 456.5M37.7 447.7L40.0 449.1M21.6 461.2L18.6 463.2M19.0 461.4L16.0 464.2M33.7 456.9L31.6 460.5M25.1 468.7L23.2 470.0M27.4 460.2L27.2 462.6M18.7 469.1L20.9 469.8M26.8 455.3L29.0 456.5M34.8 471.2L33.0 473.7M18.3 447.3L18.3 450.3M33.3 452.7L36.6 454.7" stroke="#22a822" stroke-width="0.8" stroke-opacity="0.4"/><path d="M40.6 488.1L38.6 486.4M38.8 489.9L36.1 491.7M28.6 494.7L24.9 493.6M42.5 487.5L41.0 481.4M66.9 483.3L70.2 483.0M64.4 492.3L70.5 492.5M25.1 482.3L21.1 481.2" stroke="#2cbc2c" stroke-width="0.8" stroke-opacity="0.3"/><path d="M89.7 492.6L92.5 492.4M31.9 503.2L27.9 507.0M102.1 466.2L103.0 463.6M34.3 502.3L34.4 506.9M15.6 447.3L12.5 443.8" stroke="#2cbc2c" stroke-width="0.8" stroke-opacity="0.1"/><path d="M50.1 491.8L48.7 495.6M58.2 486.6L54.7 490.9M47.4 483.9L44.8 478.8M46.4 497.2L41.3 493.4M54.9 478.7L53.4 476.1" stroke="#1a901a" stroke-width="1.0" stroke-opacity="0.5"/><path d="M43.3 476.8L37.3 476.4M99.3 496.4L103.1 494.8M50.5 488.5L48.1 489.9M9.9 508.8L6.6 512.7M70.7 491.6L73.8 493.6M13.2 477.7L11.2 477.1M85.5 509.3L88.5 514.1M55.4 502.1L57.3 503.9M47.5 512.1L46.2 515.1M39.4 492.8L35.3 492.9M33.9 487.9L29.6 483.7M49.6 499.4L47.5 502.6" stroke="#2cbc2c" stroke-width="1.0" stroke-opacity="0.2"/><path d="M38.2 442.9L32.1 443.3M17.6 503.8L16.4 508.0M27.0 476.1L22.5 474.0" stroke="#2cbc2c" stroke-width="1.0" stroke-opacity="0.1"/><path d="M66.3 509.7L67.1 512.7M27.9 480.0L22.3 477.8M81.0 489.0L86.4 492.2M82.1 473.8L85.8 473.5M58.7 483.4L54.6 479.0M45.8 491.1L40.9 495.0M55.4 488.3L53.0 489.9M59.7 457.3L60.2 455.0M62.5 464.2L64.8 463.2M63.6 491.5L65.0 493.0M47.8 479.3L46.5 476.7" stroke="#2cbc2c" stroke-width="1.0" stroke-opacity="0.4"/><path d="M55.8 489.7L53.4 493.3M71.1 481.5L74.0 476.5M56.4 488.0L55.2 489.9M55.5 493.9L52.7 496.9M58.3 467.0L63.3 464.4M63.8 484.5L67.5 485.3M55.4 484.2L53.5 487.0" stroke="#2cbc2c" stroke-width="0.8" stroke-opacity="0.5"/><path d="M55.4 485.4L51.0 481.5M63.7 475.5L63.5 472.7M64.8 485.1L67.0 485.5M54.4 479.3L54.8 476.0M59.1 474.4L57.2 471.2M68.3 472.2L71.5 470.7" stroke="#22a822" stroke-width="1.0" stroke-opacity="0.5"/><path d="M61.2 481.6L66.7 480.4M51.0 480.1L50.2 476.2M51.8 475.1L49.9 471.7M56.9 491.7L58.0 496.3M64.9 490.1L67.7 494.5M44.0 494.4L43.2 496.2M66.4 499.3L66.5 502.8M55.3 489.1L52.0 493.9M70.0 490.0L73.4 493.1M74.7 488.0L78.0 488.9M69.1 479.8L72.8 474.8M55.7 483.1L52.4 482.9M87.6 489.6L90.1 488.0M43.5 502.1L45.1 506.0" stroke="#1a901a" stroke-width="1.0" stroke-opacity="0.4"/><path d="M54.8 480.6L54.3 477.7M58.5 490.8L61.1 491.8M61.0 494.1L61.5 496.5M61.6 486.1L63.9 488.4M77.0 493.3L82.0 494.4M43.9 498.0L37.5 498.8M74.9 475.7L77.0 473.2M66.7 501.5L66.4 504.7M64.0 482.0L66.5 480.7" stroke="#1a901a" stroke-width="0.8" stroke-opacity="0.4"/><path d="M51.5 477.8L48.2 473.4M59.2 488.6L59.5 494.2M55.1 490.3L51.2 492.5M43.1 495.5L39.4 495.8M58.8 489.0L65.1 490.2" stroke="#2cbc2c" stroke-width="1.0" stroke-opacity="0.5"/><path d="M88.4 497.8L88.4 502.0M58.1 467.5L60.2 463.1M38.6 468.9L37.6 467.1M60.3 485.3L61.5 482.3M60.8 505.4L62.4 509.7M61.8 472.5L63.5 469.6M56.9 496.8L56.8 500.1M71.1 512.0L72.8 514.3M80.9 506.1L86.7 503.8M46.5 473.5L45.6 471.5M74.3 477.9L75.9 475.1M71.4 493.3L73.7 496.4M53.3 489.1L49.4 490.4M57.9 481.8L56.0 477.1" stroke="#2cbc2c" stroke-width="1.0" stroke-opacity="0.3"/><path d="M56.9 478.6L59.1 475.9M61.8 478.0L66.0 475.1M29.6 456.1L25.6 457.6M37.7 452.8L35.4 453.6M34.4 452.2L35.4 454.1M39.0 458.1L36.3 460.5M39.1 467.3L39.5 471.0M25.0 447.3L26.0 452.0M33.0 462.4L33.7 466.1M24.7 447.1L29.1 448.4M34.8 464.6L34.8 467.2M21.7 456.4L19.6 456.5M29.2 457.9L29.3 461.9M27.2 470.7L28.8 472.8M26.8 458.7L26.3 461.9M40.4 449.0L41.3 452.9" stroke="#22a822" stroke-width="0.8" stroke-opacity="0.6"/><path d="M56.8 496.2L55.1 500.0M39.0 450.4L38.6 448.1M20.4 506.7L20.0 508.7M81.3 474.2L86.9 477.2M54.7 504.4L56.4 509.0M62.4 514.7L65.2 519.1M30.4 467.6L26.8 462.8M53.8 491.5L50.8 496.0M46.7 453.8L44.1 450.9M50.7 503.7L48.4 507.4" stroke="#22a822" stroke-width="0.8" stroke-opacity="0.2"/><path d="M54.8 485.7L54.0 488.8" stroke="#2cbc2c" stroke-width="1.0" stroke-opacity="0.7"/><path d="M100.1 468.3L104.1 469.3M83.9 505.2L84.4 510.0M105.1 468.5L106.6 466.8" stroke="#22a822" stroke-width="1.0" stroke-opacity="0.1"/><path d="M63.1 484.7L66.5 480.2M57.3 484.2L60.8 480.2" stroke="#1a901a" stroke-width="0.8" stroke-opacity="0.6"/><path d="M60.9 484.1L67.1 483.4M75.0 483.7L77.2 483.3M63.4 485.9L67.7 489.4M54.2 490.9L50.8 495.2M17.1 458.3L18.0 462.5M34.4 454.0L38.1 454.9M38.1 471.3L35.4 473.6M25.0 465.5L22.9 468.6M33.9 454.4L35.5 456.3M19.1 460.6L15.9 460.8M38.2 461.1L34.2 461.5M41.4 453.5L39.4 454.7M29.8 443.8L28.5 447.6M14.2 460.7L17.3 462.4" stroke="#22a822" stroke-width="0.8" stroke-opacity="0.5"/><path d="M8.1 446.1L7.5 444.1M98.4 486.8L103.2 486.9M36.4 503.5L33.7 506.8" stroke="#1a901a" stroke-width="1.0" stroke-opacity="0.1"/><path d="M25.5 452.7L21.6 450.4M41.0 443.3L38.6 441.9M12.9 470.1L10.2 468.6M12.7 493.6L10.3 495.7" stroke="#1a901a" stroke-width="0.8" stroke-opacity="0.1"/><path d="M60.1 476.4L58.9 472.3M57.6 482.2L57.8 478.0M67.3 487.5L71.0 489.4M58.6 485.6L60.7 489.9" stroke="#1a901a" stroke-width="1.0" stroke-opacity="0.6"/><path d="M56.9 494.4L56.2 497.2" stroke="#22a822" stroke-width="1.0" stroke-opacity="0.6"/><path d="M62.4 484.3L65.8 484.4M53.6 486.3L51.2 484.7" stroke="#2cbc2c" stroke-width="1.0" stroke-opacity="0.6"/><path d="M39.6 437.2L37.9 435.3M66.1 517.7L67.8 519.5" stroke="#22a822" stroke-width="0.8" stroke-opacity="0.1"/><path d="M61.7 491.1L61.3 492.8M62.9 490.7L64.0 490.1" stroke="#28b828" stroke-width="1.2" stroke-opacity="0.6"/><path d="M62.4 490.4L63.1 489.1M65.8 479.6L66.8 479.5M58.4 502.2L57.8 502.6M56.6 486.3L56.9 484.8M59.9 492.6L61.0 494.0M62.5 485.3L63.5 484.9M58.9 499.0L58.8 500.3M53.8 488.2L52.2 487.7M67.1 489.1L68.0 488.1M56.9 498.8L57.1 499.8" stroke="#30c830" stroke-width="1.2" stroke-opacity="0.3"/><path d="M55.9 495.5L55.9 496.6M58.4 491.6L58.8 492.3M44.3 503.2L42.8 504.0M71.4 484.3L72.1 483.4M71.4 486.3L71.5 484.5M52.8 484.9L52.3 483.4M51.6 487.3L50.4 486.5M40.2 499.7L39.6 500.4" stroke="#30c830" stroke-width="1.4" stroke-opacity="0.3"/><path d="M35.2 500.3L34.8 501.8M51.7 510.3L50.4 511.1M32.6 465.1L30.9 464.6M32.6 513.3L31.9 513.0M101.5 485.4L102.9 485.7" stroke="#1e9a1e" stroke-width="1.4" stroke-opacity="0.1"/><path d="M78.1 481.8L78.5 483.1M32.6 491.9L32.3 492.5M42.3 482.8L41.0 483.8M70.5 487.1L70.4 488.3M60.1 475.4L59.9 473.9" stroke="#28b828" stroke-width="1.2" stroke-opacity="0.2"/><path d="M45.7 504.6L45.2 505.5M49.8 506.2L49.9 507.4M81.2 487.2L81.9 487.9M59.8 481.3L59.7 480.6M71.4 491.2L71.8 490.1M58.6 478.8L58.8 477.8M58.7 501.8L59.6 502.9" stroke="#28b828" stroke-width="1.4" stroke-opacity="0.3"/><path d="M45.6 500.6L45.0 501.4M50.9 497.2L50.5 496.6M44.1 494.7L43.5 495.4M50.6 507.3L50.5 508.3M58.9 535.8L59.2 536.6" stroke="#28b828" stroke-width="1.0" stroke-opacity="0.2"/><path d="M64.5 486.3L65.7 486.3M57.2 490.2L56.6 490.3M54.9 496.6L55.6 497.8M61.5 488.8L62.2 488.2M60.2 493.6L60.8 492.0" stroke="#38d038" stroke-width="1.4" stroke-opacity="0.6"/><path d="M60.6 477.2L59.6 475.7M53.7 489.4L52.8 488.1M49.3 481.1L48.7 480.8M64.0 486.3L64.4 484.9M49.4 493.6L47.7 494.0M57.2 485.0L57.7 483.9M49.7 479.0L49.2 478.4M54.1 501.8L53.9 502.4" stroke="#1e9a1e" stroke-width="1.2" stroke-opacity="0.4"/><path d="M59.8 505.7L61.1 506.8" stroke="#30c830" stroke-width="1.0" stroke-opacity="0.4"/><path d="M61.6 491.8L62.2 492.4M59.8 491.6L60.6 492.2M62.2 500.2L62.9 501.2M57.5 488.3L56.1 488.4M65.7 495.7L64.7 495.8M53.2 489.8L52.7 490.0M59.6 490.8L60.5 491.7M61.3 491.2L62.2 490.1" stroke="#28b828" stroke-width="1.4" stroke-opacity="0.4"/><path d="M53.9 488.9L52.4 488.0M42.1 492.7L41.3 493.1M70.1 498.4L71.5 497.7M58.4 478.7L57.2 477.7" stroke="#1e9a1e" stroke-width="1.4" stroke-opacity="0.4"/><path d="M66.1 462.5L65.0 461.7M33.8 489.1L32.9 487.8M48.0 457.3L47.6 456.4M91.5 491.3L92.4 491.5" stroke="#38d038" stroke-width="1.4" stroke-opacity="0.1"/><path d="M59.0 484.3L60.1 483.6M76.9 499.4L78.0 500.0M64.7 490.0L66.4 489.9M54.6 488.8L55.5 487.4M69.4 485.5L70.0 484.8M73.4 492.4L74.5 491.8M55.3 499.6L54.2 499.7" stroke="#1e9a1e" stroke-width="1.2" stroke-opacity="0.3"/><path d="M63.5 488.4L64.2 487.8" stroke="#28b828" stroke-width="1.2" stroke-opacity="0.5"/><path d="M75.4 509.9L75.7 511.0" stroke="#38d038" stroke-width="1.0" stroke-opacity="0.2"/><path d="M69.5 474.3L69.0 472.7" stroke="#28b828" stroke-width="1.2" stroke-opacity="0.1"/><path d="M82.8 459.3L83.9 459.8M51.5 506.6L51.5 507.3M52.5 479.0L51.1 478.1M75.9 483.9L77.3 483.8M58.6 506.3L58.1 506.7M47.0 505.5L45.4 506.0M63.9 464.9L63.4 463.6M60.4 469.5L58.6 469.7" stroke="#30c830" stroke-width="1.4" stroke-opacity="0.2"/><path d="M57.5 488.6L56.1 489.4M54.3 492.2L52.6 492.0" stroke="#30c830" stroke-width="1.4" stroke-opacity="0.5"/><path d="M56.5 481.9L55.6 481.5M47.1 482.4L47.1 481.6M55.7 489.4L55.1 490.9M70.3 493.1L70.7 493.8" stroke="#1e9a1e" stroke-width="1.0" stroke-opacity="0.4"/><path d="M56.5 491.5L56.3 490.6" stroke="#1e9a1e" stroke-width="1.2" stroke-opacity="0.6"/><path d="M55.7 490.6L54.8 491.0M54.6 492.1L55.2 493.2" stroke="#30c830" stroke-width="1.2" stroke-opacity="0.6"/><path d="M54.4 498.4L52.9 498.9M53.2 504.5L53.7 506.1M50.2 484.6L50.5 482.9M60.7 466.5L62.2 465.7M46.1 498.5L44.7 498.0M56.2 482.1L56.5 481.4M34.5 487.8L33.8 488.1" stroke="#28b828" stroke-width="1.4" stroke-opacity="0.2"/><path d="M58.0 491.7L56.7 492.1M60.4 491.1L60.5 490.4" stroke="#38d038" stroke-width="1.0" stroke-opacity="0.7"/><path d="M51.7 497.5L50.9 497.6M57.9 488.1L59.1 487.1M51.8 498.2L51.9 499.7M48.1 485.8L47.5 486.4M53.8 496.5L54.1 498.3M64.9 486.8L66.3 486.8M54.3 484.7L54.0 484.0" stroke="#38d038" stroke-width="1.2" stroke-opacity="0.3"/><path d="M49.1 484.1L48.6 483.5M58.3 490.5L57.2 490.8M65.5 485.7L65.8 484.8" stroke="#38d038" stroke-width="1.0" stroke-opacity="0.5"/><path d="M62.5 493.8L62.7 495.2M61.9 478.9L61.8 477.3M69.1 503.5L69.9 504.5M58.0 502.0L59.2 502.3M61.2 492.4L62.3 493.1M71.7 504.0L72.8 502.8" stroke="#30c830" stroke-width="1.4" stroke-opacity="0.4"/><path d="M76.0 480.4L77.7 480.2M47.8 490.8L48.3 489.6M63.7 494.1L64.8 493.9M45.6 481.3L44.3 480.9M58.0 491.0L58.1 491.8" stroke="#38d038" stroke-width="1.4" stroke-opacity="0.3"/><path d="M49.3 489.3L47.6 489.1M51.4 501.3L51.5 502.2" stroke="#28b828" stroke-width="1.0" stroke-opacity="0.5"/><path d="M59.4 495.0L60.0 495.5M63.6 509.1L63.7 509.8M61.6 487.5L62.5 486.6M57.0 501.3L57.6 502.2" stroke="#28b828" stroke-width="1.2" stroke-opacity="0.3"/><path d="M62.8 502.4L62.0 503.3M67.4 469.2L68.1 468.0M58.2 504.8L58.4 505.4M74.8 493.1L75.8 493.3M47.4 499.4L45.8 499.2M69.7 506.4L71.4 506.9" stroke="#38d038" stroke-width="1.2" stroke-opacity="0.2"/><path d="M60.9 493.6L60.8 494.3M57.4 488.3L56.0 488.9" stroke="#38d038" stroke-width="1.2" stroke-opacity="0.5"/><path d="M74.7 484.9L75.3 485.3M33.9 491.5L33.9 492.5M45.5 495.1L44.9 494.9M47.3 473.9L45.8 473.6M44.3 475.9L43.8 475.0M44.0 511.8L44.3 512.5M55.3 473.4L55.3 472.8M80.3 501.0L80.5 501.6M79.3 501.4L79.8 502.1M69.6 489.5L70.6 489.0M36.8 487.5L35.5 487.2M38.8 493.9L37.9 493.8M43.5 482.7L43.5 481.8" stroke="#1e9a1e" stroke-width="1.2" stroke-opacity="0.2"/><path d="M51.0 491.8L50.2 491.4M59.7 494.0L58.6 494.6M59.5 493.7L59.1 494.2M58.6 493.0L58.1 494.3M58.2 485.5L58.1 484.9M67.8 499.8L67.5 501.0" stroke="#28b828" stroke-width="1.2" stroke-opacity="0.4"/><path d="M71.8 502.9L73.3 502.3M53.3 494.6L52.8 496.1M58.0 509.2L59.0 510.4M72.6 489.3L73.8 489.5M71.1 481.1L71.5 480.1" stroke="#38d038" stroke-width="1.0" stroke-opacity="0.3"/><path d="M64.0 486.5L64.6 486.1M62.8 491.7L62.9 492.4M49.8 493.0L48.7 493.5" stroke="#30c830" stroke-width="1.2" stroke-opacity="0.5"/><path d="M74.9 488.8L75.7 488.9M57.5 489.3L56.9 489.5M56.2 474.6L56.2 473.2M69.7 501.2L70.1 502.1M43.5 489.6L43.0 490.9" stroke="#1e9a1e" stroke-width="1.4" stroke-opacity="0.3"/><path d="M58.2 498.7L58.0 500.2" stroke="#30c830" stroke-width="1.0" stroke-opacity="0.5"/><path d="M59.6 491.4L60.4 492.7M57.6 492.1L58.5 493.2" stroke="#38d038" stroke-width="1.2" stroke-opacity="0.6"/><path d="M66.7 493.5L67.4 494.9M53.2 477.4L52.1 476.4M73.3 498.5L74.7 499.2M59.7 491.9L60.1 492.6M57.5 491.1L56.1 491.7" stroke="#30c830" stroke-width="1.2" stroke-opacity="0.4"/><path d="M39.5 508.2L39.5 506.7M39.6 494.5L39.1 493.8M65.4 513.2L65.5 514.4" stroke="#30c830" stroke-width="1.0" stroke-opacity="0.2"/><path d="M57.6 491.5L56.3 490.6M50.8 494.2L49.9 492.7M62.8 492.1L63.2 492.8M62.7 488.6L63.7 488.6M61.1 485.6L62.6 486.1M61.6 483.5L62.8 483.1" stroke="#1e9a1e" stroke-width="1.4" stroke-opacity="0.5"/><path d="M59.0 493.3L58.6 494.4M59.8 491.1L60.6 491.9M58.1 487.3L59.6 486.3" stroke="#1e9a1e" stroke-width="1.0" stroke-opacity="0.5"/><path d="M77.7 513.9L77.2 514.7M66.5 516.3L67.6 517.5M28.7 469.1L27.7 469.8M91.2 487.7L92.7 488.4" stroke="#38d038" stroke-width="1.2" stroke-opacity="0.1"/><path d="M57.9 483.0L58.7 483.6M48.9 479.1L48.1 477.9M55.4 473.5L55.2 472.8M83.5 479.8L84.8 480.5" stroke="#1e9a1e" stroke-width="1.4" stroke-opacity="0.2"/><path d="M76.5 505.0L76.2 506.2" stroke="#38d038" stroke-width="1.0" stroke-opacity="0.1"/><path d="M54.6 480.9L53.7 481.0M60.8 493.0L61.1 494.0M52.2 484.8L52.3 483.1M59.5 475.6L58.9 474.9M62.0 493.5L61.5 494.3M42.5 484.1L41.9 483.8M55.3 494.9L54.3 495.1M66.8 495.4L67.5 495.3M54.3 481.8L53.6 480.3" stroke="#38d038" stroke-width="1.4" stroke-opacity="0.4"/><path d="M59.0 513.5L58.5 514.6M42.6 526.4L41.8 526.7M18.2 490.5L18.5 488.9M63.0 513.0L64.0 513.9M36.3 457.5L35.1 457.1" stroke="#30c830" stroke-width="1.2" stroke-opacity="0.1"/><path d="M71.6 515.2L71.7 516.6M69.1 476.1L70.2 474.8" stroke="#30c830" stroke-width="1.2" stroke-opacity="0.2"/><path d="M65.8 481.9L65.7 481.0M51.2 490.2L49.8 490.9" stroke="#38d038" stroke-width="1.4" stroke-opacity="0.5"/><path d="M57.9 492.4L58.4 493.7" stroke="#28b828" stroke-width="1.2" stroke-opacity="0.7"/><path d="M53.1 491.7L53.1 493.3" stroke="#1e9a1e" stroke-width="1.0" stroke-opacity="0.3"/><path d="M38.4 492.4L37.2 493.4M42.6 466.0L41.7 466.2" stroke="#1e9a1e" stroke-width="1.2" stroke-opacity="0.1"/><path d="M29.1 503.0L28.8 503.8M71.9 520.1L73.6 520.1M54.5 513.5L53.8 514.3M36.2 482.0L34.5 481.9" stroke="#28b828" stroke-width="1.0" stroke-opacity="0.1"/><path d="M67.8 494.2L68.7 493.5M40.5 499.6L38.7 499.5" stroke="#1e9a1e" stroke-width="1.0" stroke-opacity="0.2"/><path d="M62.9 491.7L64.5 492.0" stroke="#30c830" stroke-width="1.4" stroke-opacity="0.6"/><path d="M42.4 534.6L42.1 535.6" stroke="#30c830" stroke-width="1.4" stroke-opacity="0.1"/><path d="M25.4 505.8L23.8 506.0M75.6 518.4L77.0 519.3" stroke="#1e9a1e" stroke-width="1.0" stroke-opacity="0.1"/><path d="M56.2 486.9L56.5 485.8M65.2 488.9L66.8 488.4M49.1 497.9L48.2 497.5" stroke="#28b828" stroke-width="1.4" stroke-opacity="0.5"/><path d="M55.0 488.8L54.6 490.4M60.7 498.7L60.3 500.0" stroke="#38d038" stroke-width="1.0" stroke-opacity="0.4"/><path d="M69.3 488.8L70.6 489.2M59.8 484.8L60.2 484.2M57.3 491.9L56.6 492.5" stroke="#30c830" stroke-width="1.0" stroke-opacity="0.3"/><path d="M77.5 481.8L77.8 480.6M63.7 477.8L63.7 476.8" stroke="#38d038" stroke-width="1.4" stroke-opacity="0.2"/><path d="M71.1 492.6L70.3 494.1M58.5 486.7L58.6 485.0M57.9 490.7L56.9 491.2" stroke="#28b828" stroke-width="1.0" stroke-opacity="0.4"/><path d="M57.7 492.7L58.4 493.8M59.7 490.4L59.0 489.7" stroke="#28b828" stroke-width="1.0" stroke-opacity="0.6"/><path d="M75.4 491.0L76.0 492.0" stroke="#28b828" stroke-width="1.0" stroke-opacity="0.3"/><path d="M26.1 524.8L25.7 525.3M33.7 478.6L33.5 477.4" stroke="#30c830" stroke-width="1.0" stroke-opacity="0.1"/><path d="M56.0 499.9L56.0 501.2M59.2 497.8L59.8 499.4" stroke="#1e9a1e" stroke-width="1.2" stroke-opacity="0.5"/><path d="M57.4 491.7L55.9 491.9" stroke="#28b828" stroke-width="1.4" stroke-opacity="0.6"/><path d="M56.3 489.9L55.5 489.3" stroke="#38d038" stroke-width="1.4" stroke-opacity="0.7"/><path d="M28.9 485.4L28.2 485.5" stroke="#28b828" stroke-width="1.4" stroke-opacity="0.1"/><path d="M63.1 489.9L63.5 490.7" stroke="#1e9a1e" stroke-width="1.4" stroke-opacity="0.6"/><path d="M41.7 460.0L41.2 463.6M24.5 461.4L22.5 462.7M28.9 459.5L32.1 462.1M13.5 455.4L14.8 459.6" stroke="#22a822" stroke-width="0.8" stroke-opacity="0.7"/></g>
<path d="M53.5,473 L55.5,472.5 L56.5,476 L56,480 L54.5,480.5 L53.8,477 Z" fill="#020c02" filter="url(#soft)"/>
<rect x="7.4" y="436.5" width="99.2" height="84.5" fill="none" stroke="#000" stroke-opacity="0.55" stroke-width="0.9"/>
</g>
<clipPath id="c26"><rect x="107.6" y="436" width="99.4" height="85.5"/></clipPath>
<g clip-path="url(#c26)">
<rect x="107.6" y="436" width="99.4" height="85.5" fill="#021602"/>
<g filter="url(#soft2)" fill="none" stroke-linecap="square"><path d="M181.9 453.3h0M127.5 453.0h0M157.6 447.8h0M130.3 510.1h0M139.7 515.3h0" stroke="#010c01" stroke-width="1.4"/><path d="M120.3 517.3h0M131.2 496.4h0M118.9 499.0h0M145.8 470.2h0M187.7 514.5h0" stroke="#011001" stroke-width="1.8"/><path d="M170.8 517.5h0M122.1 486.9h0M155.5 505.7h0M183.0 454.4h0M206.2 508.2h0" stroke="#083208" stroke-width="2.6"/><path d="M178.9 453.3h0M115.0 482.6h0M174.6 520.1h0M148.1 507.2h0M204.7 474.2h0M143.1 505.9h0M168.5 502.1h0M128.1 476.4h0M113.4 498.0h0" stroke="#010c01" stroke-width="2.2"/><path d="M173.9 509.0h0M128.8 500.8h0M177.0 509.7h0M202.9 485.1h0M163.3 495.2h0M189.9 482.9h0" stroke="#011001" stroke-width="1.2"/><path d="M167.0 507.7h0M122.1 491.2h0M139.0 500.7h0M191.8 484.6h0" stroke="#062c06" stroke-width="2.6"/><path d="M131.8 485.9h0M153.8 436.3h0M161.5 503.4h0" stroke="#062c06" stroke-width="1.0"/><path d="M191.6 481.9h0M150.9 454.7h0M181.5 519.9h0M122.1 488.1h0M166.4 460.5h0M144.4 449.4h0M126.7 513.2h0M126.5 488.0h0M199.3 463.8h0" stroke="#010c01" stroke-width="1.8"/><path d="M153.8 492.2h0M171.3 478.5h0M108.9 519.4h0M142.8 463.4h0M151.9 464.1h0M116.8 473.4h0" stroke="#062c06" stroke-width="1.6"/><path d="M192.2 472.2h0M114.1 488.0h0M172.4 438.0h0M145.5 479.0h0" stroke="#011001" stroke-width="2.4"/><path d="M113.2 517.3h0M118.3 477.2h0M176.6 471.5h0M171.5 477.4h0M179.1 465.2h0M117.4 447.0h0M141.3 515.5h0M143.5 518.5h0" stroke="#083208" stroke-width="1.4"/><path d="M193.8 487.9h0M114.0 450.4h0M169.6 463.0h0M159.8 519.4h0M183.4 476.0h0M205.5 456.6h0M134.9 512.2h0M163.9 475.1h0" stroke="#010c01" stroke-width="1.2"/><path d="M112.3 454.6h0M201.3 496.4h0M110.9 451.6h0M181.5 494.6h0M162.4 461.5h0M194.1 497.3h0M156.6 503.0h0M173.4 513.6h0M201.2 486.8h0M131.0 496.6h0M174.3 511.1h0M135.6 458.7h0M176.1 484.6h0M142.4 487.7h0" stroke="#010c01" stroke-width="2.0"/><path d="M192.5 463.9h0M142.2 476.2h0M172.1 482.8h0M186.0 507.3h0M199.5 486.1h0M188.2 501.5h0M117.5 460.4h0M170.5 460.8h0M136.9 497.6h0M187.4 500.6h0" stroke="#010c01" stroke-width="1.6"/><path d="M142.6 493.8h0M185.2 521.3h0M121.7 445.3h0M115.2 455.9h0M184.2 445.1h0M147.3 485.4h0M181.1 462.7h0M175.3 485.6h0M155.4 441.1h0M160.5 512.0h0M164.9 458.6h0M198.9 490.9h0M171.3 493.7h0M200.4 466.7h0M187.2 458.8h0" stroke="#011001" stroke-width="2.2"/><path d="M175.1 459.6h0M204.3 489.1h0M197.3 461.0h0M156.8 501.1h0M178.3 496.7h0M202.7 465.3h0M178.3 504.4h0M113.3 487.7h0M200.3 455.2h0M116.1 489.0h0" stroke="#083208" stroke-width="2.4"/><path d="M203.7 449.0h0M171.7 446.9h0" stroke="#010c01" stroke-width="1.0"/><path d="M187.9 440.2h0M164.9 473.7h0M135.0 494.5h0M175.0 473.4h0M147.9 439.7h0" stroke="#011001" stroke-width="2.6"/><path d="M195.1 508.2h0M183.3 480.1h0M122.4 448.9h0M145.4 517.8h0M200.6 504.5h0M194.3 508.0h0M203.8 468.7h0" stroke="#010c01" stroke-width="2.4"/><path d="M187.7 459.7h0M152.4 481.4h0M135.2 478.0h0M127.8 454.2h0M184.6 471.4h0M128.5 470.1h0" stroke="#062c06" stroke-width="2.4"/><path d="M118.6 453.7h0M166.2 440.8h0M194.4 456.2h0M199.4 464.3h0M167.6 468.9h0M186.9 467.9h0" stroke="#011001" stroke-width="1.4"/><path d="M180.4 515.4h0" stroke="#011001" stroke-width="1.0"/><path d="M147.1 463.7h0M167.1 455.9h0M137.6 491.9h0M159.3 501.7h0M169.7 501.1h0M150.3 458.0h0M196.2 438.2h0M123.6 447.6h0M157.5 512.8h0" stroke="#062c06" stroke-width="1.4"/><path d="M111.4 489.2h0M197.0 481.9h0M197.9 454.9h0M195.0 476.9h0M143.9 472.9h0M159.2 436.4h0M155.8 495.6h0M128.2 508.7h0M181.4 484.3h0M178.9 493.7h0" stroke="#011001" stroke-width="2.0"/><path d="M186.6 516.3h0M121.0 494.4h0M148.2 461.0h0M167.4 464.9h0" stroke="#010c01" stroke-width="2.6"/><path d="M146.2 481.9h0M199.3 492.2h0M126.4 440.0h0" stroke="#011001" stroke-width="1.6"/><path d="M141.6 455.7h0M172.2 467.6h0M199.9 460.0h0M119.4 501.7h0M151.8 521.1h0M149.0 512.0h0M128.1 475.5h0M161.1 447.3h0" stroke="#062c06" stroke-width="1.8"/><path d="M133.6 452.7h0M132.9 501.1h0M200.8 465.0h0M109.5 489.6h0M145.5 478.7h0M126.4 514.9h0M182.9 518.0h0" stroke="#083208" stroke-width="1.8"/><path d="M139.8 457.9h0M143.5 511.8h0M156.4 476.5h0M142.0 458.2h0M206.6 509.7h0M159.3 448.1h0" stroke="#062c06" stroke-width="2.2"/><path d="M157.7 471.8h0M138.3 505.5h0M176.2 493.7h0M120.5 502.1h0M120.8 485.9h0M202.6 470.3h0M182.1 516.5h0" stroke="#062c06" stroke-width="2.0"/><path d="M183.5 495.2h0M179.9 479.6h0M183.2 465.7h0M159.5 504.6h0M116.1 470.4h0" stroke="#083208" stroke-width="1.2"/><path d="M132.6 487.1h0M194.2 513.6h0M183.2 491.0h0M177.7 497.7h0M181.7 467.8h0M133.7 469.3h0M161.1 478.5h0" stroke="#083208" stroke-width="2.2"/><path d="M189.9 519.2h0M206.8 448.4h0M141.8 437.0h0M153.4 488.9h0M110.6 448.2h0M167.9 460.8h0M165.2 500.6h0" stroke="#083208" stroke-width="2.0"/><path d="M181.7 477.2h0M164.3 510.4h0M181.5 437.0h0M176.4 516.0h0M165.0 436.6h0M190.7 473.7h0M160.1 469.3h0M129.8 456.0h0M138.1 476.0h0" stroke="#062c06" stroke-width="1.2"/><path d="M182.4 499.0h0M149.2 436.0h0M152.7 458.9h0M166.8 508.7h0" stroke="#083208" stroke-width="1.0"/><path d="M148.4 477.6h0M133.8 494.7h0M108.3 463.5h0M198.0 450.6h0M141.9 488.0h0M121.9 498.1h0" stroke="#083208" stroke-width="1.6"/></g>
<ellipse cx="165" cy="472" rx="44" ry="34" fill="url(#gglow2)"/>
<g filter="url(#soft)" fill="none" stroke-linecap="round"><path d="M109.7 478.4L109.3 479.0M174.9 494.2L175.2 495.7M154.1 454.8L153.6 455.7M178.0 517.2L178.2 518.1M135.6 516.5L134.6 517.0M113.8 462.4L114.5 462.7M162.3 494.4L162.8 491.9M162.3 494.4L162.8 496.1M181.2 473.7L184.0 472.6M143.2 478.3L142.2 480.4M161.8 488.7L161.8 487.1M184.5 457.6L186.2 457.4M184.5 457.6L184.8 459.1M184.5 457.6L183.0 455.6M172.2 446.6L174.8 447.3M172.2 446.6L173.5 448.0M172.2 446.6L174.9 447.0M141.0 456.6L139.9 454.7M141.0 456.6L139.2 455.0M141.0 456.6L140.4 457.8M186.3 481.3L188.0 480.5M186.3 481.3L185.2 480.1M186.3 481.3L184.6 479.0M146.5 472.8L143.8 471.3M185.4 455.1L185.9 454.0M185.4 455.1L184.0 456.6M185.4 455.1L182.8 455.7M150.4 490.3L149.9 489.0M150.4 490.3L151.2 492.2M146.7 463.8L145.3 464.4M146.7 463.8L148.1 463.5M146.7 463.8L146.0 465.3M167.1 455.1L169.0 455.0M167.1 455.1L168.7 453.8M190.7 469.1L190.1 467.2M190.7 469.1L192.2 468.1M166.7 487.2L167.6 485.2M166.7 487.2L164.7 487.0M166.7 487.2L168.3 485.1M146.3 456.5L148.1 456.2M149.9 461.3L151.3 460.7M149.9 461.3L147.8 459.5M149.9 461.3L152.9 461.8M139.1 472.9L140.7 470.5M169.3 490.9L170.2 493.5M169.3 490.9L167.1 492.9M169.0 465.7L168.4 467.3M169.0 465.7L167.0 465.0M179.5 458.5L180.1 456.4M151.2 462.3L148.2 461.7M140.5 462.5L139.6 463.4M140.5 462.5L141.6 462.2M140.5 462.5L140.4 460.1M139.2 456.9L138.6 455.1M169.9 453.2L167.6 451.8M169.9 453.2L170.1 450.3M148.1 444.7L146.4 447.2M148.1 444.7L149.5 444.5M148.1 444.7L146.2 445.2M175.9 490.1L175.9 491.9" stroke="#28b828" stroke-width="0.8" stroke-opacity="0.4"/><path d="M183.2 510.0L182.7 511.6M112.3 447.8L112.9 448.0M145.5 518.9L147.2 519.6M109.5 505.2L108.9 506.5M131.2 505.5L132.9 506.3" stroke="#1e9a1e" stroke-width="1.2" stroke-opacity="0.3"/><path d="M168.7 506.3L168.2 508.0M128.6 467.6L129.5 469.0M161.4 436.8L161.2 437.3M143.4 510.1L143.4 510.8M206.1 438.6L204.4 439.3" stroke="#1e9a1e" stroke-width="1.0" stroke-opacity="0.2"/><path d="M136.9 482.5L135.2 483.5M119.3 511.9L119.7 513.2M143.2 446.2L144.8 447.4M111.7 491.3L112.0 492.0M153.7 487.4L155.6 487.7M129.7 497.5L131.2 498.8M159.5 472.9L159.5 474.7" stroke="#28b828" stroke-width="1.0" stroke-opacity="0.4"/><path d="M161.3 461.8L160.3 462.9M136.6 464.3L135.9 466.0M122.3 457.7L123.5 458.5M141.8 447.1L142.3 447.7M160.8 507.9L161.3 508.6M187.1 484.6L185.9 484.7M134.9 506.3L135.4 508.2M193.2 489.9L194.5 491.1M122.9 517.5L123.2 518.4M141.2 515.7L142.3 516.6" stroke="#1e9a1e" stroke-width="1.0" stroke-opacity="0.4"/><path d="M206.2 481.8L207.7 483.0M168.1 487.0L169.1 487.7" stroke="#1e9a1e" stroke-width="0.8" stroke-opacity="0.5"/><path d="M110.0 503.8L110.7 504.4M138.6 516.7L137.4 517.2M185.8 458.7L185.0 459.8M200.9 445.5L200.3 445.5M135.7 465.1L135.7 465.8M149.8 471.8L150.5 472.4M167.3 479.9L166.7 481.1M190.5 496.5L191.6 497.8M170.6 494.0L169.6 495.4M168.9 483.9L167.6 484.3M108.2 491.6L108.8 492.4M163.7 508.7L165.7 508.9" stroke="#28b828" stroke-width="1.2" stroke-opacity="0.3"/><path d="M149.5 440.1L149.4 440.7M170.2 436.3L171.1 438.0M197.5 454.6L198.7 454.7M152.1 438.3L152.8 438.5M161.8 498.1L162.3 498.1M194.0 471.1L194.7 471.7M192.9 450.7L193.7 451.3M111.8 502.8L112.2 504.2M145.5 489.4L146.0 490.9M145.9 456.5L146.0 457.5M134.6 502.3L134.8 503.8M134.3 507.9L132.5 508.8M152.3 442.1L153.1 442.2" stroke="#1e9a1e" stroke-width="1.0" stroke-opacity="0.3"/><path d="M164.5 500.3L164.7 501.2M176.1 470.6L174.6 470.8" stroke="#28b828" stroke-width="1.2" stroke-opacity="0.5"/><path d="M191.0 519.5L189.7 521.0M186.2 499.3L187.3 499.7M152.1 470.1L153.3 470.5M165.9 460.7L167.2 460.9M118.4 485.1L118.0 486.9" stroke="#1e9a1e" stroke-width="1.2" stroke-opacity="0.5"/><path d="M199.5 463.0L198.6 463.1M193.1 480.9L193.4 482.0M165.4 464.6L167.4 463.5M165.4 464.6L164.8 462.1M170.7 457.7L167.6 458.2M170.7 457.7L170.7 460.5M170.7 457.7L170.3 455.9M160.0 459.6L159.9 461.2M160.0 459.6L161.7 461.6M180.2 461.3L177.7 460.1M180.2 461.3L180.8 463.9M169.2 455.1L169.2 457.0M158.4 468.9L159.2 470.6M163.0 482.1L163.6 485.1M163.0 482.1L161.2 480.0M158.3 456.2L157.6 458.8M158.3 456.2L161.0 456.1M153.0 458.6L150.5 460.2M181.3 473.0L179.0 472.5M181.3 473.0L183.2 472.2" stroke="#28b828" stroke-width="0.8" stroke-opacity="0.5"/><path d="M182.8 490.7L183.6 490.8M118.6 481.6L119.7 482.6M135.5 449.2L134.7 449.6M108.5 490.7L106.5 491.0M184.9 445.4L184.4 446.3M170.6 477.7L169.4 477.9M154.4 503.1L153.8 504.0M128.5 459.2L127.7 460.0M135.2 521.2L134.2 521.6M158.2 516.3L156.4 516.6M108.1 493.1L107.2 494.2" stroke="#28b828" stroke-width="1.2" stroke-opacity="0.4"/><path d="M112.5 440.6L114.3 441.1M205.2 487.0L206.0 487.4M170.4 495.8L169.0 496.4" stroke="#1e9a1e" stroke-width="0.8" stroke-opacity="0.3"/><path d="M149.1 511.0L149.9 511.4M187.0 442.1L188.5 442.6M111.9 517.8L110.0 517.9M144.9 449.5L144.9 451.4M163.9 437.8L163.9 439.0M114.2 451.7L115.7 451.8M177.1 439.1L176.8 439.9M158.7 451.8L158.1 452.2M111.0 466.6L110.0 467.8M154.1 470.1L153.7 470.5M130.1 477.1L129.6 478.5" stroke="#28b828" stroke-width="1.0" stroke-opacity="0.3"/><path d="M155.1 480.2L154.7 481.4M166.7 454.5L167.1 455.8M131.9 491.3L130.7 492.1M206.3 448.6L205.8 449.3M153.8 500.3L153.8 501.2M159.2 508.4L159.9 510.1M147.6 450.6L148.0 452.5M200.8 478.9L202.3 479.1" stroke="#28b828" stroke-width="1.0" stroke-opacity="0.5"/><path d="M151.5 460.6L152.0 460.9M175.8 465.9L176.7 466.5M197.6 475.2L198.2 476.1M202.2 461.7L202.4 462.3M116.5 482.3L115.3 482.9M190.6 455.1L190.2 456.8M170.2 448.5L169.0 449.4M120.0 505.3L118.2 505.4M168.9 469.8L168.9 471.5M138.0 503.2L137.0 503.3M168.1 504.5L169.3 505.3M113.4 445.7L114.2 447.4M130.1 442.7L130.5 444.4" stroke="#1e9a1e" stroke-width="1.2" stroke-opacity="0.4"/><path d="M111.1 481.9L111.3 482.7M181.6 459.3L181.8 461.1M200.9 444.6L200.5 445.6M133.9 441.3L134.9 442.9M186.6 496.5L187.0 497.8M141.8 489.9L140.9 488.3M170.2 510.6L170.0 509.1M170.2 510.6L172.6 509.7M170.2 510.6L168.8 511.1M149.6 496.1L149.7 493.5M149.6 496.1L152.5 495.9M149.6 496.1L148.3 495.6M184.8 456.2L183.7 458.0M137.1 487.6L136.7 486.2M137.1 487.6L138.8 485.5M137.1 487.6L139.0 487.8M135.9 501.3L135.2 499.9M135.9 501.3L134.0 501.1M163.1 459.7L160.7 458.1M205.7 465.1L204.6 464.0M205.7 465.1L205.4 463.9M205.7 465.1L204.4 467.0M165.7 498.5L165.0 501.5M144.5 474.8L141.8 474.3M144.5 474.8L146.1 473.6M144.5 474.8L141.5 474.2M151.2 459.2L151.3 457.5M151.2 459.2L149.8 458.6M137.2 456.9L135.8 454.3M137.2 456.9L135.6 456.2M137.2 456.9L136.3 459.4M164.4 492.7L165.0 491.4M164.4 492.7L165.9 490.6M148.7 444.6L151.0 442.8M148.7 444.6L146.8 445.3M150.6 480.4L149.6 478.7M150.6 480.4L151.9 478.0M167.7 454.1L167.1 456.1M167.7 454.1L167.2 455.5M167.7 454.1L168.7 455.2M201.4 459.7L202.4 461.8M176.9 483.4L175.8 486.3M176.9 483.4L178.1 484.1M176.9 483.4L178.7 481.6M168.2 441.6L165.8 440.0M168.2 441.6L169.7 440.6M168.2 441.6L166.1 440.3M167.7 450.4L165.1 448.6M167.7 450.4L170.2 451.7M167.7 450.4L166.4 451.3M157.7 514.1L158.7 512.8M157.7 514.1L159.4 515.3M157.7 514.1L158.6 513.1M158.3 489.0L160.0 487.3M144.5 456.2L145.6 455.2M144.5 456.2L145.2 453.5M144.5 456.2L143.6 454.7M149.5 472.2L149.8 469.1M149.5 472.2L151.7 470.7M149.5 472.2L151.3 472.9M149.6 437.3L149.8 440.3M130.1 495.1L131.6 497.3M194.1 475.8L196.9 476.1M194.1 475.8L197.3 476.5M194.1 475.8L192.2 473.7M137.1 457.8L136.6 460.0M137.1 457.8L138.9 456.0M137.1 457.8L138.3 458.7M144.7 473.1L146.8 473.5M133.7 483.7L133.6 486.6M133.7 483.7L134.5 486.1M133.7 483.7L130.9 483.4M178.3 494.9L175.6 493.9M172.4 464.7L171.4 461.7M172.4 464.7L171.5 463.9M172.4 464.7L170.8 463.7M183.7 451.8L184.0 450.6M133.5 475.8L131.9 477.0M133.5 475.8L136.6 475.1M157.1 444.3L158.7 444.3M190.0 479.3L191.0 478.6M190.0 479.3L188.6 477.9M158.4 498.5L156.3 499.1M158.4 498.5L156.0 498.5M158.4 498.5L159.7 498.3" stroke="#28b828" stroke-width="0.8" stroke-opacity="0.3"/><path d="M117.6 443.6L118.6 444.4M173.9 447.8L173.3 448.0M170.4 502.3L170.9 502.3M190.9 453.0L190.7 453.9" stroke="#28b828" stroke-width="1.0" stroke-opacity="0.2"/><path d="M113.8 518.2L114.1 519.2M127.1 448.6L125.8 448.7M186.3 436.1L185.0 436.7M155.8 494.7L155.4 495.2" stroke="#1e9a1e" stroke-width="1.2" stroke-opacity="0.2"/><path d="M156.6 465.8L155.0 466.7M165.1 490.4L164.0 491.6M140.4 448.4L140.7 448.8" stroke="#1e9a1e" stroke-width="1.0" stroke-opacity="0.5"/><path d="M120.9 516.2L121.7 517.4M152.4 500.2L152.9 502.1M117.0 473.4L117.3 473.7M206.9 487.0L207.7 488.4" stroke="#1e9a1e" stroke-width="0.8" stroke-opacity="0.2"/><path d="M137.5 509.1L138.3 509.8M144.1 460.6L143.1 461.7" stroke="#1e9a1e" stroke-width="0.8" stroke-opacity="0.4"/><path d="M204.5 479.3L206.1 479.6M159.1 516.4L160.9 516.6" stroke="#28b828" stroke-width="1.2" stroke-opacity="0.2"/><path d="M167.5 477.0L168.9 478.1M114.4 464.6L111.9 466.4M119.0 503.9L117.5 501.7M117.5 444.1L116.1 442.5M131.6 511.2L129.6 511.2M131.6 511.2L134.0 511.4M131.6 511.2L133.1 511.4M201.2 459.1L201.8 457.6M201.2 459.1L198.9 457.6M201.2 459.1L199.5 457.4M196.7 437.7L199.0 437.4M196.7 437.7L195.1 436.1M196.7 437.7L197.1 436.4M183.3 515.2L183.3 517.9M191.9 491.7L189.2 491.0M132.5 476.0L130.1 476.1M132.5 476.0L134.0 477.1M132.5 476.0L133.6 477.3M142.5 438.5L142.5 435.8M142.5 438.5L142.1 436.7M146.9 521.4L144.6 521.1M146.9 521.4L147.4 520.2M119.0 460.1L118.5 461.9M119.0 460.1L120.6 459.0M127.9 475.4L125.9 473.5M127.9 475.4L128.9 476.2M115.8 466.9L118.1 466.0M115.8 466.9L114.5 465.5M144.2 518.3L142.9 518.8M144.2 518.3L141.2 518.8M146.4 519.6L148.2 519.1M146.4 519.6L147.3 520.8M146.4 519.6L145.1 521.5M203.9 442.4L204.5 444.1M203.9 442.4L205.2 442.9M203.9 442.4L202.3 444.0M136.9 485.7L138.0 483.4M136.9 485.7L138.6 487.9M136.9 485.7L139.1 484.8M140.2 499.1L138.1 500.2M132.7 492.2L134.9 491.8M132.7 492.2L131.1 491.5M184.5 511.2L185.9 512.4M184.5 511.2L184.8 509.4M184.5 511.2L185.2 508.9M179.7 498.4L180.7 499.6M179.7 498.4L180.5 500.1M179.7 498.4L180.2 497.0M109.5 447.9L107.9 450.0M109.5 447.9L110.1 449.0M109.5 447.9L111.4 445.5M204.6 454.0L202.9 456.2M204.6 454.0L203.5 453.0M192.8 498.1L191.7 501.0M192.8 498.1L191.7 499.4M192.8 498.1L194.6 500.1M128.8 485.4L130.0 487.1M124.8 460.6L125.6 459.5M132.8 468.6L131.2 469.6M197.8 495.3L199.6 495.9M197.8 495.3L200.3 495.7M132.0 500.5L134.0 500.9M132.0 500.5L132.0 498.0M182.7 443.7L182.6 445.7M182.7 443.7L180.8 442.8M182.7 443.7L185.2 442.6M128.7 451.1L126.8 451.5M115.6 454.7L116.9 452.6M115.6 454.7L115.1 452.2M115.6 454.7L114.9 457.2M171.1 518.4L172.5 519.5M115.4 448.7L118.5 449.0" stroke="#28b828" stroke-width="0.8" stroke-opacity="0.2"/><path d="M114.4 464.6h0" stroke="#2cc02c" stroke-width="2.0" stroke-opacity="0.3"/><path d="M141.8 489.9h0M140.2 499.1h0M182.7 443.7h0" stroke="#34d034" stroke-width="2.2" stroke-opacity="0.4"/><path d="M170.2 510.6h0" stroke="#2cc02c" stroke-width="1.6" stroke-opacity="0.4"/><path d="M119.0 503.9h0" stroke="#2cc02c" stroke-width="2.4" stroke-opacity="0.3"/><path d="M149.6 496.1h0M137.1 487.6h0M176.9 483.4h0M194.1 475.8h0M148.1 444.7h0" stroke="#3ce03c" stroke-width="2.0" stroke-opacity="0.6"/><path d="M184.8 456.2h0M139.2 456.9h0" stroke="#34d034" stroke-width="2.2" stroke-opacity="0.6"/><path d="M162.3 494.4h0M163.1 459.7h0M172.2 446.6h0" stroke="#34d034" stroke-width="2.0" stroke-opacity="0.6"/><path d="M135.9 501.3h0M165.7 498.5h0M164.4 492.7h0M144.7 473.1h0" stroke="#3ce03c" stroke-width="2.0" stroke-opacity="0.5"/><path d="M117.5 444.1h0M131.6 511.2h0M132.0 500.5h0" stroke="#2cc02c" stroke-width="2.2" stroke-opacity="0.3"/><path d="M181.2 473.7h0M146.3 456.5h0M169.3 490.9h0" stroke="#2cc02c" stroke-width="1.6" stroke-opacity="0.6"/><path d="M201.2 459.1h0M119.0 460.1h0M148.7 444.6h0" stroke="#34d034" stroke-width="2.4" stroke-opacity="0.4"/><path d="M143.2 478.3h0" stroke="#2cc02c" stroke-width="2.0" stroke-opacity="0.7"/><path d="M205.7 465.1h0" stroke="#34d034" stroke-width="1.6" stroke-opacity="0.5"/><path d="M196.7 437.7h0M115.8 466.9h0M192.8 498.1h0" stroke="#34d034" stroke-width="1.6" stroke-opacity="0.3"/><path d="M183.3 515.2h0M132.8 468.6h0" stroke="#2cc02c" stroke-width="1.8" stroke-opacity="0.4"/><path d="M144.5 474.8h0M149.6 437.3h0M133.5 475.8h0" stroke="#3ce03c" stroke-width="1.6" stroke-opacity="0.5"/><path d="M161.8 488.7h0" stroke="#2cc02c" stroke-width="2.2" stroke-opacity="0.7"/><path d="M151.2 459.2h0M139.1 472.9h0" stroke="#2cc02c" stroke-width="2.2" stroke-opacity="0.6"/><path d="M191.9 491.7h0" stroke="#3ce03c" stroke-width="1.8" stroke-opacity="0.4"/><path d="M132.5 476.0h0" stroke="#3ce03c" stroke-width="2.2" stroke-opacity="0.4"/><path d="M142.5 438.5h0M128.7 451.1h0" stroke="#34d034" stroke-width="1.8" stroke-opacity="0.4"/><path d="M146.9 521.4h0M144.2 518.3h0M203.9 442.4h0" stroke="#3ce03c" stroke-width="2.2" stroke-opacity="0.3"/><path d="M184.5 457.6h0M166.7 487.2h0" stroke="#2cc02c" stroke-width="1.8" stroke-opacity="0.6"/><path d="M127.9 475.4h0M184.5 511.2h0M128.8 485.4h0" stroke="#3ce03c" stroke-width="2.4" stroke-opacity="0.4"/><path d="M137.2 456.9h0" stroke="#3ce03c" stroke-width="1.8" stroke-opacity="0.5"/><path d="M165.4 464.6h0" stroke="#3ce03c" stroke-width="2.2" stroke-opacity="0.9"/><path d="M141.0 456.6h0M146.5 472.8h0M146.7 463.8h0M140.5 462.5h0" stroke="#3ce03c" stroke-width="1.8" stroke-opacity="0.7"/><path d="M146.4 519.6h0" stroke="#3ce03c" stroke-width="1.6" stroke-opacity="0.3"/><path d="M186.3 481.3h0" stroke="#3ce03c" stroke-width="1.8" stroke-opacity="0.6"/><path d="M111.5 483.0h0" stroke="#2cc02c" stroke-width="1.8" stroke-opacity="0.2"/><path d="M111.5 483.0L111.6 485.4M130.3 508.7L130.3 505.7M130.3 508.7L128.8 511.1M130.3 508.7L132.6 508.5" stroke="#28b828" stroke-width="0.8" stroke-opacity="0.1"/><path d="M136.9 485.7h0" stroke="#2cc02c" stroke-width="2.4" stroke-opacity="0.4"/><path d="M170.7 457.7h0" stroke="#2cc02c" stroke-width="1.6" stroke-opacity="0.8"/><path d="M160.0 459.6h0" stroke="#34d034" stroke-width="2.2" stroke-opacity="0.9"/><path d="M150.6 480.4h0M183.7 451.8h0" stroke="#2cc02c" stroke-width="2.0" stroke-opacity="0.5"/><path d="M185.4 455.1h0M169.9 453.2h0" stroke="#3ce03c" stroke-width="1.6" stroke-opacity="0.7"/><path d="M167.7 454.1h0" stroke="#2cc02c" stroke-width="1.6" stroke-opacity="0.5"/><path d="M180.2 461.3h0" stroke="#34d034" stroke-width="1.6" stroke-opacity="0.8"/><path d="M169.2 455.1h0" stroke="#34d034" stroke-width="1.8" stroke-opacity="0.8"/><path d="M150.4 490.3h0" stroke="#34d034" stroke-width="1.6" stroke-opacity="0.7"/><path d="M132.7 492.2h0" stroke="#3ce03c" stroke-width="1.6" stroke-opacity="0.4"/><path d="M130.3 508.7h0" stroke="#34d034" stroke-width="1.6" stroke-opacity="0.2"/><path d="M201.4 459.7h0M158.3 489.0h0M137.1 457.8h0" stroke="#34d034" stroke-width="1.8" stroke-opacity="0.5"/><path d="M158.4 468.9h0" stroke="#2cc02c" stroke-width="2.4" stroke-opacity="0.9"/><path d="M167.1 455.1h0M149.5 472.2h0" stroke="#3ce03c" stroke-width="1.6" stroke-opacity="0.6"/><path d="M190.7 469.1h0" stroke="#34d034" stroke-width="2.0" stroke-opacity="0.7"/><path d="M179.7 498.4h0" stroke="#34d034" stroke-width="1.6" stroke-opacity="0.4"/><path d="M168.2 441.6h0" stroke="#3ce03c" stroke-width="2.2" stroke-opacity="0.5"/><path d="M167.7 450.4h0" stroke="#34d034" stroke-width="2.2" stroke-opacity="0.5"/><path d="M109.5 447.9h0M115.6 454.7h0M115.4 448.7h0" stroke="#34d034" stroke-width="2.0" stroke-opacity="0.3"/><path d="M157.7 514.1h0M178.3 494.9h0M157.1 444.3h0M158.4 498.5h0" stroke="#2cc02c" stroke-width="2.2" stroke-opacity="0.5"/><path d="M163.0 482.1h0" stroke="#34d034" stroke-width="2.0" stroke-opacity="0.8"/><path d="M144.5 456.2h0M130.1 495.1h0" stroke="#34d034" stroke-width="2.0" stroke-opacity="0.5"/><path d="M204.6 454.0h0" stroke="#34d034" stroke-width="1.8" stroke-opacity="0.3"/><path d="M149.9 461.3h0" stroke="#3ce03c" stroke-width="2.0" stroke-opacity="0.7"/><path d="M158.3 456.2h0" stroke="#2cc02c" stroke-width="1.8" stroke-opacity="0.8"/><path d="M169.0 465.7h0M179.5 458.5h0" stroke="#2cc02c" stroke-width="1.8" stroke-opacity="0.7"/><path d="M151.2 462.3h0" stroke="#2cc02c" stroke-width="2.4" stroke-opacity="0.7"/><path d="M133.7 483.7h0" stroke="#2cc02c" stroke-width="1.8" stroke-opacity="0.5"/><path d="M124.8 460.6h0" stroke="#2cc02c" stroke-width="1.6" stroke-opacity="0.3"/><path d="M172.4 464.7h0" stroke="#2cc02c" stroke-width="2.4" stroke-opacity="0.6"/><path d="M153.0 458.6h0" stroke="#2cc02c" stroke-width="2.2" stroke-opacity="0.8"/><path d="M197.8 495.3h0" stroke="#2cc02c" stroke-width="2.0" stroke-opacity="0.4"/><path d="M175.9 490.1h0" stroke="#34d034" stroke-width="1.8" stroke-opacity="0.7"/><path d="M190.0 479.3h0" stroke="#3ce03c" stroke-width="2.4" stroke-opacity="0.5"/><path d="M171.1 518.4h0" stroke="#3ce03c" stroke-width="1.8" stroke-opacity="0.3"/><path d="M181.3 473.0h0" stroke="#2cc02c" stroke-width="2.0" stroke-opacity="0.8"/></g>
<ellipse cx="156" cy="477" rx="3" ry="4" fill="#021402" opacity="0.7" filter="url(#soft2)"/>
<rect x="108.0" y="436.5" width="98.60000000000001" height="84.5" fill="none" stroke="#000" stroke-opacity="0.55" stroke-width="0.9"/>
</g>
<clipPath id="c27"><rect x="208" y="436" width="99" height="85.5"/></clipPath>
<g clip-path="url(#c27)">
<rect x="208" y="436" width="99" height="85.5" fill="#171603"/>
<g filter="url(#soft2)" fill="none" stroke-linecap="square"><path d="M272.2 496.0h0M268.9 491.9h0M239.3 512.3h0M303.1 438.3h0" stroke="#101002" stroke-width="2.6"/><path d="M215.3 457.8h0M224.0 465.9h0M238.4 485.0h0M269.6 514.5h0M231.8 512.0h0M255.7 446.3h0M257.2 472.5h0M265.0 515.9h0" stroke="#212006" stroke-width="1.8"/><path d="M244.9 505.7h0M284.8 481.4h0M285.6 515.5h0M245.0 493.5h0M252.9 504.7h0M227.1 443.1h0M302.5 479.0h0M228.6 450.1h0M246.7 496.9h0M248.7 449.7h0" stroke="#101002" stroke-width="1.2"/><path d="M256.6 442.1h0M306.0 499.8h0M218.1 486.9h0M306.6 495.1h0M305.5 473.2h0M271.3 501.6h0M222.2 495.1h0M303.5 454.6h0M216.9 448.7h0" stroke="#0d0d01" stroke-width="2.4"/><path d="M268.5 472.4h0M241.1 501.3h0M240.9 451.3h0M274.8 494.4h0M277.9 474.3h0" stroke="#0d0d01" stroke-width="1.6"/><path d="M273.1 520.9h0M277.3 509.1h0M226.6 474.0h0M277.0 490.0h0M266.7 484.4h0M238.7 504.1h0" stroke="#242306" stroke-width="1.0"/><path d="M233.0 488.4h0M220.2 514.1h0M281.6 444.4h0M234.5 470.6h0M248.4 503.7h0M264.5 487.3h0M268.6 482.1h0M244.7 503.4h0M224.3 465.8h0M302.7 456.2h0" stroke="#101002" stroke-width="1.6"/><path d="M277.7 480.8h0M250.9 462.2h0M233.9 507.2h0M269.5 510.6h0M213.6 514.6h0M288.2 455.8h0M280.6 464.5h0M266.1 482.6h0M255.4 516.5h0M259.9 472.6h0M277.6 465.9h0M276.2 449.8h0M289.8 518.6h0M232.2 485.6h0" stroke="#242306" stroke-width="1.2"/><path d="M282.4 513.9h0M237.9 504.1h0M297.8 454.5h0M232.2 442.3h0M291.3 491.1h0M275.8 448.8h0M301.7 498.9h0M248.2 520.7h0M256.9 456.1h0M293.6 469.6h0M242.2 464.5h0M284.1 507.5h0" stroke="#0d0d01" stroke-width="2.2"/><path d="M234.2 521.3h0M242.1 520.9h0M288.5 449.9h0M274.5 446.3h0M249.5 450.5h0M226.3 481.2h0" stroke="#0d0d01" stroke-width="1.2"/><path d="M252.8 448.9h0M214.4 521.2h0M253.2 457.3h0M229.4 439.8h0M213.4 514.5h0M254.5 481.3h0" stroke="#242306" stroke-width="2.4"/><path d="M242.9 466.9h0M254.5 488.6h0M281.6 516.6h0M209.5 460.6h0M208.4 487.3h0M226.2 445.9h0M271.6 492.2h0M291.7 475.2h0" stroke="#101002" stroke-width="2.2"/><path d="M255.8 511.1h0M306.1 436.4h0M242.9 450.0h0M229.3 447.8h0" stroke="#101002" stroke-width="1.0"/><path d="M224.8 501.4h0M237.7 475.6h0M297.9 518.3h0M225.5 483.9h0M270.9 473.4h0M288.2 499.9h0M245.6 490.1h0M293.8 478.4h0M283.2 478.6h0" stroke="#0d0d01" stroke-width="1.8"/><path d="M208.4 440.9h0M258.4 505.3h0M216.4 456.9h0M223.8 500.0h0M260.9 496.1h0M266.6 516.2h0M222.3 450.1h0M282.9 466.8h0" stroke="#212006" stroke-width="2.2"/><path d="M248.7 475.4h0M252.1 475.9h0" stroke="#212006" stroke-width="1.0"/><path d="M281.5 489.1h0M290.3 473.4h0M244.2 490.3h0M240.5 464.9h0M256.2 501.9h0M209.1 438.5h0M256.2 497.6h0M292.8 487.6h0M220.5 504.6h0M240.5 469.7h0M246.3 509.4h0" stroke="#101002" stroke-width="1.4"/><path d="M237.2 447.7h0M271.6 501.3h0M281.5 438.1h0M297.8 509.7h0M271.8 451.7h0M295.4 509.6h0M231.2 462.2h0M253.4 484.1h0M292.7 520.7h0M224.2 503.9h0M230.8 501.0h0M224.2 458.3h0M258.0 454.2h0M230.3 506.3h0M249.2 488.7h0M304.7 516.1h0M254.7 478.3h0M290.4 498.8h0" stroke="#242306" stroke-width="1.8"/><path d="M273.2 449.8h0M260.9 501.2h0M244.9 486.1h0M293.2 439.7h0M217.5 460.0h0M245.4 441.6h0M223.7 477.8h0M219.4 511.7h0M241.0 466.8h0M222.7 515.3h0" stroke="#101002" stroke-width="1.8"/><path d="M296.0 468.0h0M306.5 515.5h0M229.5 441.7h0M260.3 458.0h0M305.4 481.0h0M230.2 463.4h0" stroke="#0d0d01" stroke-width="1.4"/><path d="M267.6 455.0h0M224.0 444.9h0M251.7 456.5h0M232.0 474.1h0M269.5 494.0h0M251.1 453.4h0M229.4 462.9h0M296.2 436.8h0" stroke="#101002" stroke-width="2.4"/><path d="M217.3 487.2h0M246.8 490.6h0M213.7 497.7h0M227.1 500.7h0M235.8 498.0h0" stroke="#242306" stroke-width="2.6"/><path d="M261.9 474.3h0M212.9 468.5h0M215.5 452.0h0M237.5 508.4h0M237.0 478.2h0M280.8 521.0h0" stroke="#101002" stroke-width="2.0"/><path d="M279.1 518.4h0M261.3 484.2h0M281.9 441.7h0M229.2 437.5h0M243.7 437.0h0M291.8 490.4h0" stroke="#212006" stroke-width="1.6"/><path d="M230.1 465.9h0M249.8 501.5h0M208.1 491.1h0M249.7 459.3h0M241.3 464.0h0M272.3 491.1h0" stroke="#212006" stroke-width="1.4"/><path d="M237.5 503.5h0M261.0 441.6h0M299.1 437.8h0M210.1 450.1h0M300.6 452.4h0M241.0 482.3h0M281.7 463.3h0M232.6 489.4h0M217.3 508.8h0M303.8 506.7h0" stroke="#242306" stroke-width="2.0"/><path d="M241.6 436.3h0M245.9 476.5h0M263.3 504.5h0M261.4 444.6h0M212.3 503.6h0M257.5 447.6h0M273.4 521.1h0" stroke="#0d0d01" stroke-width="2.0"/><path d="M266.5 458.1h0M275.3 497.4h0M280.3 509.0h0M252.8 462.3h0M208.8 475.0h0M222.5 482.0h0M235.2 441.3h0M246.6 460.0h0M236.5 471.8h0" stroke="#242306" stroke-width="2.2"/><path d="M284.5 448.1h0M262.9 436.1h0M229.8 448.4h0M263.9 489.7h0M301.2 514.7h0M284.8 463.5h0M260.4 519.1h0M297.2 488.2h0M238.2 501.9h0" stroke="#242306" stroke-width="1.4"/><path d="M210.8 480.5h0M257.5 461.5h0M305.0 439.2h0" stroke="#0d0d01" stroke-width="1.0"/><path d="M276.8 514.6h0M284.4 480.2h0M221.4 465.9h0M264.9 448.3h0M246.6 497.3h0M292.7 459.4h0" stroke="#212006" stroke-width="2.4"/><path d="M245.9 476.9h0M297.3 480.5h0M214.6 449.8h0M272.2 472.1h0M292.9 476.5h0" stroke="#242306" stroke-width="1.6"/><path d="M298.6 502.9h0" stroke="#0d0d01" stroke-width="2.6"/><path d="M220.3 441.3h0M249.9 437.2h0M304.1 440.9h0M298.7 487.4h0M276.9 494.5h0M233.0 496.1h0M232.5 474.0h0M233.1 474.5h0M289.7 493.6h0" stroke="#212006" stroke-width="1.2"/><path d="M246.1 510.0h0M298.1 471.5h0" stroke="#212006" stroke-width="2.0"/><path d="M253.7 461.2h0M291.0 470.4h0" stroke="#212006" stroke-width="2.6"/></g>
<g filter="url(#soft)" fill="none" stroke-linecap="round"><path d="M264.1 480.3h0M265.1 469.9h0M264.0 478.7h0M263.2 476.4h0M250.3 472.0h0M257.9 486.9h0M262.5 483.1h0" stroke="#444010" stroke-width="1.6" stroke-opacity="0.8"/><path d="M250.1 471.6h0M261.2 486.7h0M262.1 469.9h0M262.2 470.8h0M258.4 468.0h0M266.2 479.6h0" stroke="#3a360c" stroke-width="1.4" stroke-opacity="0.8"/><path d="M263.1 480.5h0M252.5 484.6h0M250.8 479.7h0M252.7 489.5h0M260.6 468.9h0" stroke="#34300a" stroke-width="1.6" stroke-opacity="0.8"/><path d="M263.4 475.9h0M255.5 465.1h0M262.3 468.9h0M251.3 475.1h0" stroke="#444010" stroke-width="1.2" stroke-opacity="0.8"/><path d="M249.8 474.9h0M252.6 472.2h0M254.0 469.0h0M258.2 487.2h0M253.8 470.9h0" stroke="#4e4a12" stroke-width="1.2" stroke-opacity="0.8"/><path d="M248.9 478.2h0M265.6 472.7h0M264.1 489.2h0M250.7 484.3h0" stroke="#34300a" stroke-width="1.2" stroke-opacity="0.8"/><path d="M261.9 487.1h0M250.8 475.4h0" stroke="#4e4a12" stroke-width="1.8" stroke-opacity="0.8"/><path d="M250.8 479.5h0M262.8 482.4h0M263.2 489.7h0" stroke="#4e4a12" stroke-width="2.0" stroke-opacity="0.8"/><path d="M264.8 482.8h0" stroke="#444010" stroke-width="1.0" stroke-opacity="0.8"/><path d="M258.8 469.8h0" stroke="#444010" stroke-width="1.8" stroke-opacity="0.8"/><path d="M250.8 489.0h0M260.7 464.9h0M264.5 472.2h0M248.6 471.4h0M250.4 474.4h0M253.3 471.2h0" stroke="#3a360c" stroke-width="1.8" stroke-opacity="0.8"/><path d="M263.3 478.3h0M253.5 469.1h0" stroke="#444010" stroke-width="1.4" stroke-opacity="0.8"/><path d="M264.1 477.1h0M261.2 491.8h0" stroke="#4e4a12" stroke-width="1.0" stroke-opacity="0.8"/><path d="M263.6 477.4h0M249.4 472.8h0M260.3 471.5h0" stroke="#3a360c" stroke-width="2.0" stroke-opacity="0.8"/><path d="M255.0 470.4h0M263.9 484.3h0" stroke="#34300a" stroke-width="1.0" stroke-opacity="0.8"/><path d="M250.2 473.6h0" stroke="#34300a" stroke-width="1.8" stroke-opacity="0.8"/><path d="M255.5 465.9h0M249.7 476.8h0M258.6 488.1h0" stroke="#34300a" stroke-width="2.0" stroke-opacity="0.8"/><path d="M260.0 467.3h0M252.6 473.9h0" stroke="#3a360c" stroke-width="1.6" stroke-opacity="0.8"/><path d="M253.4 486.8h0M249.2 478.9h0" stroke="#3a360c" stroke-width="1.0" stroke-opacity="0.8"/><path d="M250.5 480.7h0M252.0 483.1h0M261.4 485.8h0" stroke="#34300a" stroke-width="1.4" stroke-opacity="0.8"/><path d="M265.4 484.3h0M251.4 482.7h0" stroke="#444010" stroke-width="2.0" stroke-opacity="0.8"/><path d="M264.0 479.7h0" stroke="#4e4a12" stroke-width="1.4" stroke-opacity="0.8"/><path d="M266.0 474.4h0M249.5 475.7h0" stroke="#4e4a12" stroke-width="1.6" stroke-opacity="0.8"/><path d="M257.5 470.9h0" stroke="#3a360c" stroke-width="1.2" stroke-opacity="0.8"/><path d="M254.0 468.0h0M259.5 470.5h0M250.2 483.5h0M254.5 487.5h0M264.2 475.0h0M250.5 479.0h0M264.0 481.0h0" stroke="#a8a01e" stroke-width="2.0" stroke-opacity="0.9"/></g>
<path d="M255,471.2 Q259,470.8 262,471.6 Q263.6,473 263.2,476 L263,479.6 Q262,482 260,483.5 L257.5,486.7 Q254.5,487.6 252,487 Q250.8,485.5 251.5,482.5 L252.6,478.5 Q252.8,475.5 253.5,473.5 Q254,471.6 255,471.2 Z" fill="#020200" filter="url(#soft)"/>
<rect x="208.4" y="436.5" width="98.2" height="84.5" fill="none" stroke="#000" stroke-opacity="0.55" stroke-width="0.9"/>
</g>
<clipPath id="c28"><rect x="307.6" y="436" width="99.4" height="85.5"/></clipPath>
<g clip-path="url(#c28)">
<rect x="307.6" y="436" width="99.4" height="85.5" fill="#161502"/>
<g filter="url(#soft2)" fill="none" stroke-linecap="square"><path d="M318.8 447.2h0M329.6 466.7h0M355.8 490.2h0M386.3 497.4h0M365.3 476.7h0M379.8 462.8h0M327.4 475.8h0" stroke="#101002" stroke-width="2.0"/><path d="M330.1 490.5h0M357.2 509.5h0M392.9 494.3h0M347.8 501.5h0M312.1 505.3h0M349.0 473.7h0M333.1 512.0h0M401.7 504.1h0" stroke="#101002" stroke-width="2.2"/><path d="M328.8 469.5h0M337.9 489.6h0M332.8 518.7h0M403.0 489.4h0M317.7 445.7h0M366.7 468.1h0M339.5 456.9h0M395.9 517.7h0M345.6 499.6h0M351.7 466.0h0" stroke="#101002" stroke-width="2.4"/><path d="M367.9 453.2h0M406.9 445.9h0M404.7 439.0h0M376.8 454.1h0M352.7 497.3h0M317.4 465.7h0M311.4 448.4h0M400.2 446.1h0M374.4 485.9h0" stroke="#0d0d01" stroke-width="1.6"/><path d="M317.0 520.2h0M355.7 465.3h0M384.5 512.2h0M317.6 477.0h0M323.4 482.8h0M335.1 457.6h0" stroke="#101002" stroke-width="1.6"/><path d="M325.1 515.8h0M398.6 464.2h0M341.0 461.0h0M405.5 451.9h0M377.1 454.0h0M334.5 473.8h0M397.7 484.6h0M397.3 517.0h0M391.0 489.5h0M364.6 487.0h0M340.5 488.1h0M375.4 445.1h0" stroke="#212006" stroke-width="1.8"/><path d="M368.5 514.5h0M346.2 459.4h0M372.3 487.2h0M384.6 466.3h0M397.7 456.3h0M365.9 457.2h0M385.9 493.5h0M374.0 514.8h0M395.6 445.9h0" stroke="#101002" stroke-width="1.8"/><path d="M308.9 501.9h0M331.6 481.4h0M354.5 503.8h0M343.2 436.2h0M341.9 453.4h0M339.2 485.6h0M344.7 518.2h0" stroke="#212006" stroke-width="2.0"/><path d="M315.4 481.6h0M343.3 495.2h0M359.8 508.0h0M394.5 471.6h0M383.1 508.7h0M344.9 519.1h0M310.3 513.7h0M337.8 479.4h0M356.5 457.9h0M325.2 457.4h0M397.2 502.7h0M340.1 510.8h0M337.1 501.7h0M406.6 467.2h0M311.4 516.9h0M405.4 439.6h0" stroke="#0d0d01" stroke-width="2.4"/><path d="M364.8 511.8h0M314.8 501.0h0M405.8 475.7h0M386.7 486.8h0M334.6 486.1h0M370.8 489.3h0M324.2 477.5h0M359.2 465.6h0M399.1 453.8h0M356.8 499.3h0M364.0 478.4h0" stroke="#0d0d01" stroke-width="1.4"/><path d="M310.8 501.3h0M347.5 470.2h0M384.5 518.8h0M362.3 510.8h0M356.5 506.2h0M336.5 484.4h0M351.6 479.6h0M319.6 496.8h0M339.8 518.7h0M344.8 479.6h0" stroke="#212006" stroke-width="2.2"/><path d="M323.5 504.2h0M319.4 491.2h0M400.1 503.5h0M392.9 457.6h0M335.3 495.5h0M384.3 438.5h0M384.8 514.4h0M337.2 494.2h0M378.3 461.1h0" stroke="#242306" stroke-width="2.4"/><path d="M394.8 492.6h0M329.4 452.8h0M365.8 509.8h0M335.2 506.8h0M309.6 490.2h0M318.7 468.3h0M325.6 474.1h0M325.9 465.0h0M310.4 476.4h0M372.4 460.0h0M316.9 452.3h0M379.4 477.9h0" stroke="#101002" stroke-width="1.2"/><path d="M338.3 486.2h0M402.9 447.7h0M341.3 499.0h0M313.0 462.6h0M351.2 448.8h0M376.1 447.8h0" stroke="#242306" stroke-width="2.2"/><path d="M401.5 455.0h0M394.7 471.0h0" stroke="#212006" stroke-width="1.0"/><path d="M361.7 474.3h0M371.6 469.9h0M406.4 459.3h0M397.2 520.2h0M359.9 477.2h0M362.9 485.9h0M363.2 476.2h0M310.1 473.2h0M405.9 511.9h0M367.9 498.7h0" stroke="#242306" stroke-width="1.6"/><path d="M331.8 510.0h0M331.8 441.3h0M348.1 500.2h0M382.1 449.0h0M335.2 500.3h0M389.9 520.4h0M314.1 467.0h0M402.1 486.9h0" stroke="#101002" stroke-width="1.4"/><path d="M331.1 438.9h0M352.1 452.6h0M379.1 454.6h0M384.5 508.2h0M402.6 504.8h0M325.5 482.8h0M392.4 486.3h0M367.9 510.9h0M377.4 474.0h0" stroke="#212006" stroke-width="1.6"/><path d="M351.3 506.9h0M372.0 474.9h0M389.9 446.1h0M363.6 484.8h0M338.6 473.3h0M399.6 454.7h0M314.9 477.5h0" stroke="#0d0d01" stroke-width="2.0"/><path d="M352.4 463.3h0M367.6 484.6h0M340.5 507.6h0M335.5 466.5h0M403.8 490.0h0M369.6 440.7h0M328.0 453.6h0M340.0 452.9h0M403.9 490.0h0M338.0 478.8h0M387.0 491.6h0M353.5 505.6h0M314.8 436.1h0M396.9 451.8h0" stroke="#242306" stroke-width="1.8"/><path d="M309.8 500.1h0M389.1 477.6h0M320.0 441.2h0M399.6 508.9h0" stroke="#242306" stroke-width="2.0"/><path d="M376.2 501.1h0M344.6 491.3h0M405.0 478.0h0" stroke="#212006" stroke-width="1.4"/><path d="M347.8 507.3h0M353.5 480.4h0M348.6 476.7h0M399.0 443.4h0M391.2 480.1h0" stroke="#101002" stroke-width="2.6"/><path d="M358.8 515.1h0M394.1 482.2h0M357.0 472.2h0M401.2 454.9h0M322.9 514.2h0" stroke="#0d0d01" stroke-width="2.6"/><path d="M344.5 487.4h0M357.2 492.6h0" stroke="#242306" stroke-width="1.0"/><path d="M323.7 441.4h0M312.9 519.2h0M405.4 504.6h0M367.1 519.7h0M402.5 448.9h0M335.3 465.5h0M386.3 459.7h0M377.0 517.5h0" stroke="#212006" stroke-width="2.4"/><path d="M384.9 451.4h0M314.5 509.0h0M310.3 446.9h0M357.5 493.2h0M373.9 501.4h0M334.3 482.6h0M308.0 504.1h0M322.6 496.8h0M392.7 463.4h0M369.0 481.7h0" stroke="#242306" stroke-width="1.4"/><path d="M315.2 509.5h0M390.6 512.2h0M387.4 446.8h0" stroke="#242306" stroke-width="2.6"/><path d="M320.1 495.9h0M314.1 488.5h0M330.0 451.0h0M353.3 475.1h0M355.6 516.0h0M317.3 452.8h0M322.8 446.2h0M370.2 446.8h0M361.1 452.8h0" stroke="#212006" stroke-width="1.2"/><path d="M347.6 494.6h0M327.5 446.1h0M376.9 519.5h0M358.0 452.9h0" stroke="#0d0d01" stroke-width="1.8"/><path d="M378.6 445.1h0M365.3 447.4h0" stroke="#0d0d01" stroke-width="1.0"/><path d="M335.7 445.2h0M326.7 513.3h0M344.7 462.0h0M364.0 478.0h0M333.8 455.6h0M373.5 493.7h0M315.3 452.2h0M349.6 512.9h0" stroke="#0d0d01" stroke-width="1.2"/><path d="M406.8 471.1h0M325.3 464.4h0M345.3 505.7h0M337.8 468.1h0M350.9 464.9h0M345.2 488.2h0M366.9 464.5h0" stroke="#242306" stroke-width="1.2"/><path d="M341.8 452.2h0M321.8 446.0h0" stroke="#212006" stroke-width="2.6"/><path d="M322.7 497.5h0M391.4 465.7h0M358.5 479.3h0M340.0 449.0h0" stroke="#0d0d01" stroke-width="2.2"/><path d="M395.3 470.6h0M338.5 512.7h0" stroke="#101002" stroke-width="1.0"/></g>
<g filter="url(#soft)" fill="none" stroke-linecap="round"><path d="M366.8 481.8h0M347.6 475.5h0M346.8 477.7h0M365.1 476.9h0" stroke="#36320a" stroke-width="1.2" stroke-opacity="0.8"/><path d="M362.7 470.6h0M358.2 470.5h0M348.5 478.2h0M350.7 473.3h0M361.9 472.3h0M346.1 481.3h0" stroke="#2e2a08" stroke-width="1.2" stroke-opacity="0.8"/><path d="M354.6 487.8h0M352.2 472.5h0M360.8 469.9h0" stroke="#36320a" stroke-width="2.0" stroke-opacity="0.8"/><path d="M357.3 489.4h0M347.9 476.3h0M348.6 485.3h0" stroke="#3e3a0c" stroke-width="2.0" stroke-opacity="0.8"/><path d="M362.9 474.0h0M365.3 473.0h0M348.2 479.2h0M356.1 488.5h0M363.9 484.7h0M348.3 477.0h0" stroke="#36320a" stroke-width="1.6" stroke-opacity="0.8"/><path d="M357.9 469.6h0M356.0 471.1h0M361.2 488.0h0M357.3 489.5h0M361.9 488.0h0M348.3 477.7h0M365.3 472.1h0" stroke="#2e2a08" stroke-width="1.6" stroke-opacity="0.8"/><path d="M346.3 484.3h0M364.0 485.5h0M359.9 487.1h0M348.6 477.1h0M348.1 479.3h0M350.5 486.6h0" stroke="#3e3a0c" stroke-width="1.8" stroke-opacity="0.8"/><path d="M363.8 485.7h0M363.6 488.2h0M363.7 471.7h0" stroke="#2e2a08" stroke-width="1.8" stroke-opacity="0.8"/><path d="M347.7 481.0h0M348.8 475.8h0M357.4 470.1h0" stroke="#36320a" stroke-width="1.8" stroke-opacity="0.8"/><path d="M364.1 474.0h0M347.5 481.2h0M351.7 472.8h0M347.1 477.5h0M356.4 489.3h0M350.5 470.1h0M367.8 474.9h0M347.7 479.0h0M366.9 479.3h0" stroke="#3e3a0c" stroke-width="1.6" stroke-opacity="0.8"/><path d="M358.1 470.0h0M368.1 482.3h0M367.6 486.4h0M351.0 473.3h0M354.0 470.1h0M362.3 471.3h0M366.1 484.5h0" stroke="#2e2a08" stroke-width="1.4" stroke-opacity="0.8"/><path d="M367.1 480.6h0M362.8 472.1h0M353.8 487.3h0M348.7 474.1h0M347.1 480.0h0" stroke="#3e3a0c" stroke-width="1.4" stroke-opacity="0.8"/><path d="M356.5 467.8h0M346.5 474.5h0M362.7 486.2h0" stroke="#3e3a0c" stroke-width="1.2" stroke-opacity="0.8"/><path d="M350.3 472.9h0M349.9 472.0h0M349.8 471.3h0M352.5 490.1h0M362.2 472.9h0" stroke="#36320a" stroke-width="1.4" stroke-opacity="0.8"/><path d="M362.4 486.5h0M365.1 476.9h0M353.8 470.3h0" stroke="#3e3a0c" stroke-width="1.0" stroke-opacity="0.8"/><path d="M350.2 474.1h0M354.8 467.3h0M342.6 482.0h0M359.1 470.9h0" stroke="#2e2a08" stroke-width="1.0" stroke-opacity="0.8"/><path d="M353.0 469.0h0" stroke="#2e2a08" stroke-width="2.0" stroke-opacity="0.8"/><path d="M364.0 485.2h0M357.1 490.0h0" stroke="#36320a" stroke-width="1.0" stroke-opacity="0.8"/></g>
<path d="M356.5,472.2 L362,474.5 L363.4,480 L361.5,486 L352,486.5 L350.2,480 L351.5,474.5 Z" fill="#020200" filter="url(#soft2)"/>
<rect x="308.0" y="436.5" width="98.60000000000001" height="84.5" fill="none" stroke="#000" stroke-opacity="0.55" stroke-width="0.9"/>
</g>
<rect x="107.0" y="175" width="0.9" height="86" fill="#c8c8c8"/>
<rect x="307.0" y="175" width="0.9" height="86" fill="#c8c8c8"/>
<rect x="107.0" y="436" width="0.9" height="85.5" fill="#c8c8c8"/>
<rect x="307.0" y="436" width="0.9" height="85.5" fill="#c8c8c8"/>
<text x="41.40" y="190.00" font-size="11.6" text-anchor="start" font-weight="normal" font-style="italic" fill="#fff" textLength="25.4" lengthAdjust="spacingAndGlyphs" stroke="#fff" stroke-width="0.2">Cd14</text>
<text x="68.20" y="185.40" font-size="8.0" text-anchor="start" font-weight="normal" font-style="italic" fill="#fff" textLength="8.4" lengthAdjust="spacingAndGlyphs" stroke="#fff" stroke-width="0.25">-/-</text>
<text x="240.30" y="190.00" font-size="11.6" text-anchor="start" font-weight="normal" font-style="italic" fill="#fff" textLength="25.4" lengthAdjust="spacingAndGlyphs" stroke="#fff" stroke-width="0.2">Cd14</text>
<text x="267.10" y="185.40" font-size="8.0" text-anchor="start" font-weight="normal" font-style="italic" fill="#fff" textLength="8.4" lengthAdjust="spacingAndGlyphs" stroke="#fff" stroke-width="0.25">-/-</text>
<text x="41.70" y="451.00" font-size="11.6" text-anchor="start" font-weight="normal" font-style="italic" fill="#fff" textLength="25.4" lengthAdjust="spacingAndGlyphs" stroke="#fff" stroke-width="0.2">Cd14</text>
<text x="68.50" y="446.40" font-size="8.0" text-anchor="start" font-weight="normal" font-style="italic" fill="#fff" textLength="8.4" lengthAdjust="spacingAndGlyphs" stroke="#fff" stroke-width="0.25">-/-</text>
<text x="240.30" y="451.00" font-size="11.6" text-anchor="start" font-weight="normal" font-style="italic" fill="#fff" textLength="25.4" lengthAdjust="spacingAndGlyphs" stroke="#fff" stroke-width="0.2">Cd14</text>
<text x="267.10" y="446.40" font-size="8.0" text-anchor="start" font-weight="normal" font-style="italic" fill="#fff" textLength="8.4" lengthAdjust="spacingAndGlyphs" stroke="#fff" stroke-width="0.25">-/-</text>
<text x="149.10" y="190.00" font-size="11.2" text-anchor="start" font-weight="normal" font-style="normal" fill="#fff" textLength="16.8" lengthAdjust="spacingAndGlyphs" stroke="#fff" stroke-width="0.3">WT</text>
<text x="349.10" y="190.00" font-size="11.2" text-anchor="start" font-weight="normal" font-style="normal" fill="#fff" textLength="16.8" lengthAdjust="spacingAndGlyphs" stroke="#fff" stroke-width="0.3">WT</text>
<text x="149.10" y="451.00" font-size="11.2" text-anchor="start" font-weight="normal" font-style="normal" fill="#fff" textLength="16.8" lengthAdjust="spacingAndGlyphs" stroke="#fff" stroke-width="0.3">WT</text>
<text x="349.10" y="451.00" font-size="11.2" text-anchor="start" font-weight="normal" font-style="normal" fill="#fff" textLength="16.8" lengthAdjust="spacingAndGlyphs" stroke="#fff" stroke-width="0.3">WT</text>
<text x="173.50" y="252.20" font-size="7.0" text-anchor="start" font-weight="normal" font-style="normal" fill="#fff" textLength="24.0" lengthAdjust="spacingAndGlyphs" >100 µm</text>
<line x1="178.2" y1="256.2" x2="194.7" y2="256.2" stroke="#fff" stroke-width="1.1"/>
<text x="373.40" y="252.80" font-size="7.0" text-anchor="start" font-weight="normal" font-style="normal" fill="#fff" textLength="24.0" lengthAdjust="spacingAndGlyphs" >100 µm</text>
<line x1="378.2" y1="256.8" x2="394.7" y2="256.8" stroke="#fff" stroke-width="1.1"/>
<text x="172.00" y="511.30" font-size="7.0" text-anchor="start" font-weight="normal" font-style="normal" fill="#fff" textLength="23.30000000000001" lengthAdjust="spacingAndGlyphs" >100 µm</text>
<line x1="177.1" y1="514.8" x2="192.9" y2="514.8" stroke="#fff" stroke-width="1.1"/>
<text x="371.40" y="511.30" font-size="7.0" text-anchor="start" font-weight="normal" font-style="normal" fill="#fff" textLength="23.700000000000045" lengthAdjust="spacingAndGlyphs" >100 µm</text>
<line x1="376.4" y1="514.6" x2="392.6" y2="514.6" stroke="#fff" stroke-width="1.1"/>
</svg>
</body></html>
